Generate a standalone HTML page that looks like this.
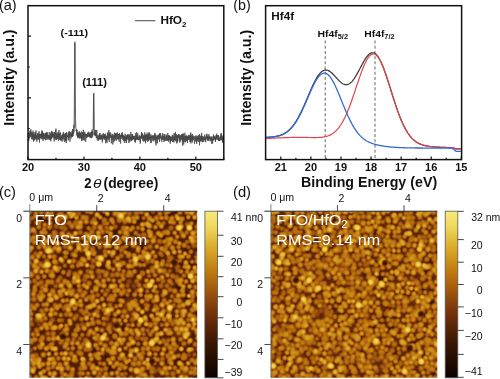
<!DOCTYPE html>
<html><head><meta charset="utf-8"><style>
html,body{margin:0;padding:0;background:#fff;width:500px;height:379px;overflow:hidden}
svg{display:block;will-change:transform}
text{font-family:"Liberation Sans",sans-serif}
</style></head><body>
<svg width="500" height="379" viewBox="0 0 500 379" fill="#111">
<defs>
<radialGradient id="h0"><stop offset="0" stop-color="#8e8e8e"/><stop offset="0.35" stop-color="#8e8e8e" stop-opacity="0.88"/><stop offset="0.65" stop-color="#8e8e8e" stop-opacity="0.5"/><stop offset="1" stop-color="#8e8e8e" stop-opacity="0"/></radialGradient><radialGradient id="h1"><stop offset="0" stop-color="#989898"/><stop offset="0.35" stop-color="#989898" stop-opacity="0.88"/><stop offset="0.65" stop-color="#989898" stop-opacity="0.5"/><stop offset="1" stop-color="#989898" stop-opacity="0"/></radialGradient><radialGradient id="h2"><stop offset="0" stop-color="#a2a2a2"/><stop offset="0.35" stop-color="#a2a2a2" stop-opacity="0.88"/><stop offset="0.65" stop-color="#a2a2a2" stop-opacity="0.5"/><stop offset="1" stop-color="#a2a2a2" stop-opacity="0"/></radialGradient><radialGradient id="h3"><stop offset="0" stop-color="#ababab"/><stop offset="0.35" stop-color="#ababab" stop-opacity="0.88"/><stop offset="0.65" stop-color="#ababab" stop-opacity="0.5"/><stop offset="1" stop-color="#ababab" stop-opacity="0"/></radialGradient><radialGradient id="h4"><stop offset="0" stop-color="#b5b5b5"/><stop offset="0.35" stop-color="#b5b5b5" stop-opacity="0.88"/><stop offset="0.65" stop-color="#b5b5b5" stop-opacity="0.5"/><stop offset="1" stop-color="#b5b5b5" stop-opacity="0"/></radialGradient><radialGradient id="h5"><stop offset="0" stop-color="#bebebe"/><stop offset="0.35" stop-color="#bebebe" stop-opacity="0.88"/><stop offset="0.65" stop-color="#bebebe" stop-opacity="0.5"/><stop offset="1" stop-color="#bebebe" stop-opacity="0"/></radialGradient><radialGradient id="h6"><stop offset="0" stop-color="#c8c8c8"/><stop offset="0.35" stop-color="#c8c8c8" stop-opacity="0.88"/><stop offset="0.65" stop-color="#c8c8c8" stop-opacity="0.5"/><stop offset="1" stop-color="#c8c8c8" stop-opacity="0"/></radialGradient><radialGradient id="h7"><stop offset="0" stop-color="#d2d2d2"/><stop offset="0.35" stop-color="#d2d2d2" stop-opacity="0.88"/><stop offset="0.65" stop-color="#d2d2d2" stop-opacity="0.5"/><stop offset="1" stop-color="#d2d2d2" stop-opacity="0"/></radialGradient><radialGradient id="h8"><stop offset="0" stop-color="#dbdbdb"/><stop offset="0.35" stop-color="#dbdbdb" stop-opacity="0.88"/><stop offset="0.65" stop-color="#dbdbdb" stop-opacity="0.5"/><stop offset="1" stop-color="#dbdbdb" stop-opacity="0"/></radialGradient><radialGradient id="h9"><stop offset="0" stop-color="#e5e5e5"/><stop offset="0.35" stop-color="#e5e5e5" stop-opacity="0.88"/><stop offset="0.65" stop-color="#e5e5e5" stop-opacity="0.5"/><stop offset="1" stop-color="#e5e5e5" stop-opacity="0"/></radialGradient><radialGradient id="pd"><stop offset="0" stop-color="#4a4a4a"/><stop offset="1" stop-color="#4a4a4a" stop-opacity="0"/></radialGradient><radialGradient id="pb"><stop offset="0" stop-color="#d8d8d8"/><stop offset="1" stop-color="#d8d8d8" stop-opacity="0"/></radialGradient><radialGradient id="hb"><stop offset="0" stop-color="#eaeaea"/><stop offset="0.45" stop-color="#e2e2e2" stop-opacity="0.92"/><stop offset="1" stop-color="#d8d8d8" stop-opacity="0"/></radialGradient><radialGradient id="hd"><stop offset="0" stop-color="#2a2a2a"/><stop offset="0.4" stop-color="#2a2a2a" stop-opacity="0.85"/><stop offset="1" stop-color="#2a2a2a" stop-opacity="0"/></radialGradient>
<linearGradient id="cb" x1="0" y1="0" x2="0" y2="1"><stop offset="0" stop-color="#f8ec7c"/><stop offset="0.1" stop-color="#eed65a"/><stop offset="0.22" stop-color="#daaa2a"/><stop offset="0.35" stop-color="#c27e10"/><stop offset="0.48" stop-color="#a0560c"/><stop offset="0.62" stop-color="#70300a"/><stop offset="0.77" stop-color="#401a04"/><stop offset="0.9" stop-color="#200c00"/><stop offset="1" stop-color="#0a0300"/></linearGradient>
<clipPath id="cc"><rect x="29.8" y="211.2" width="167.4" height="166.6"/></clipPath>
<clipPath id="cd"><rect x="270.9" y="211.2" width="166.4" height="166.6"/></clipPath>
<filter id="gold" x="0" y="0" width="1" height="1" color-interpolation-filters="sRGB"><feGaussianBlur stdDeviation="0.7"/><feComponentTransfer><feFuncR type="table" tableValues="0.039 0.066 0.093 0.120 0.150 0.180 0.210 0.240 0.276 0.315 0.355 0.394 0.433 0.475 0.517 0.559 0.601 0.639 0.671 0.703 0.735 0.765 0.788 0.811 0.833 0.856 0.876 0.897 0.917 0.936 0.948 0.960 0.973"/><feFuncG type="table" tableValues="0.012 0.023 0.034 0.045 0.058 0.071 0.084 0.097 0.113 0.131 0.149 0.167 0.185 0.216 0.249 0.283 0.316 0.351 0.389 0.426 0.464 0.502 0.544 0.585 0.627 0.668 0.713 0.758 0.803 0.845 0.872 0.899 0.925"/><feFuncB type="table" tableValues="0.000 0.000 0.000 0.000 0.003 0.007 0.011 0.014 0.019 0.024 0.029 0.034 0.038 0.041 0.042 0.044 0.046 0.048 0.052 0.056 0.060 0.068 0.092 0.117 0.141 0.167 0.216 0.265 0.314 0.361 0.403 0.445 0.486"/></feComponentTransfer></filter>
<clipPath id="clab"><rect x="220" y="200" width="37" height="30"/></clipPath>
</defs>
<rect width="500" height="379" fill="#fff"/>
<text transform="translate(-1.11,10.04) scale(1.08,1.04)" font-size="13.5" fill="#111">(a)</text>
<polyline points="28,136.19 28.11,137.04 28.22,135.52 28.34,133.4 28.45,134.76 28.56,133.32 28.67,136.36 28.78,141.07 28.9,135.03 29.01,134.52 29.12,137.57 29.23,137.4 29.34,136.48 29.45,133.39 29.57,136.13 29.68,138.38 29.79,132.69 29.9,134.94 30.01,130.67 30.13,133.1 30.24,130.76 30.35,135.62 30.46,132.72 30.57,136.9 30.69,136.59 30.8,135.66 30.91,129.34 31.02,134.49 31.13,136.1 31.24,136.55 31.36,132.27 31.47,134.84 31.58,133.65 31.69,133.91 31.8,139.26 31.92,133.87 32.03,136.12 32.14,138.81 32.25,134.64 32.36,135.96 32.48,136.58 32.59,136.44 32.7,132.59 32.81,136.44 32.92,139.69 33.03,130.63 33.15,138.61 33.26,136.61 33.37,134.37 33.48,141.66 33.59,138.05 33.71,132.43 33.82,136.51 33.93,137.88 34.04,135.79 34.15,137.92 34.27,136.05 34.38,137.98 34.49,140.42 34.6,134.41 34.71,136.87 34.83,134.99 34.94,136.59 35.05,132.25 35.16,134.83 35.27,135.81 35.38,139.49 35.5,139.16 35.61,132.6 35.72,134.11 35.83,138.21 35.94,130.4 36.06,134.89 36.17,136.03 36.28,139.63 36.39,137.95 36.5,135.53 36.62,135.23 36.73,135.63 36.84,141.56 36.95,135.2 37.06,135.52 37.17,137.16 37.29,136 37.4,135.7 37.51,133.36 37.62,136.27 37.73,135.11 37.85,139.89 37.96,138.24 38.07,136.24 38.18,138.21 38.29,135.51 38.41,139.36 38.52,136.29 38.63,138.17 38.74,133.12 38.85,137.32 38.96,131.46 39.08,131.28 39.19,135.42 39.3,134.24 39.41,136.81 39.52,142.55 39.64,134.07 39.75,134.71 39.86,136.84 39.97,137.52 40.08,135.9 40.2,135.74 40.31,138.14 40.42,138.03 40.53,133.9 40.64,136.11 40.75,136.42 40.87,133.77 40.98,137.23 41.09,134.22 41.2,139.27 41.31,136.86 41.43,136.56 41.54,134.27 41.65,136.06 41.76,130.72 41.87,133.12 41.99,137.25 42.1,130.67 42.21,139.14 42.32,131.67 42.43,138.34 42.55,134.27 42.66,138.58 42.77,136.66 42.88,132.61 42.99,140.84 43.1,140.14 43.22,136.19 43.33,135.67 43.44,135.88 43.55,133.33 43.66,139.04 43.78,134.82 43.89,136.21 44,134.33 44.11,134.66 44.22,133.28 44.34,139.29 44.45,136.01 44.56,138.58 44.67,136.41 44.78,134.74 44.89,135.6 45.01,135.01 45.12,136.4 45.23,135.34 45.34,135.61 45.45,133.2 45.57,134.29 45.68,140.26 45.79,134.63 45.9,132.81 46.01,137.41 46.13,139.95 46.24,133.04 46.35,135.66 46.46,134.84 46.57,132.3 46.68,138.19 46.8,136.34 46.91,136.62 47.02,134.68 47.13,137.97 47.24,134.91 47.36,136.02 47.47,133.27 47.58,132.41 47.69,139.69 47.8,135.24 47.92,137.22 48.03,136.31 48.14,135.14 48.25,135.16 48.36,138.33 48.48,135.71 48.59,136.06 48.7,136.47 48.81,139.53 48.92,138.11 49.03,137.44 49.15,134.98 49.26,132.13 49.37,139.59 49.48,138.68 49.59,136.07 49.71,137.8 49.82,138.61 49.93,138.38 50.04,139.04 50.15,135.22 50.27,139.94 50.38,133.5 50.49,138.56 50.6,137.62 50.71,139.16 50.82,141.3 50.94,140.03 51.05,133.75 51.16,131.7 51.27,138.84 51.38,133.53 51.5,136.41 51.61,139.06 51.72,131.44 51.83,130.82 51.94,137.2 52.06,136.56 52.17,135.82 52.28,136.57 52.39,134.49 52.5,131.97 52.61,135.96 52.73,133.77 52.84,132.13 52.95,137.61 53.06,136.29 53.17,137.55 53.29,134.04 53.4,134.96 53.51,133.75 53.62,133.61 53.73,136.97 53.85,134.22 53.96,137.26 54.07,137.36 54.18,141.55 54.29,131.93 54.41,139.13 54.52,136.24 54.63,136.43 54.74,132.19 54.85,135.37 54.96,138.2 55.08,136.16 55.19,136.66 55.3,135.48 55.41,139.49 55.52,136.42 55.64,130.02 55.75,134.59 55.86,131.66 55.97,128.57 56.08,135.24 56.2,140.12 56.31,136.6 56.42,133.5 56.53,134.11 56.64,139.86 56.75,136.9 56.87,136.6 56.98,136.31 57.09,136.57 57.2,138.6 57.31,137.83 57.43,136.99 57.54,133.51 57.65,137.99 57.76,134.54 57.87,139.07 57.99,132.42 58.1,136.1 58.21,136.46 58.32,132.28 58.43,140.61 58.54,140.74 58.66,135.29 58.77,138.29 58.88,137.33 58.99,130.04 59.1,137.25 59.22,136.31 59.33,136.73 59.44,133.41 59.55,135.68 59.66,136.05 59.78,139.56 59.89,137.66 60,136.47 60.11,140.02 60.22,135.1 60.33,135.17 60.45,132.3 60.56,140.62 60.67,138.68 60.78,139.04 60.89,138.25 61.01,136.75 61.12,137.02 61.23,135.86 61.34,135.84 61.45,136.62 61.57,140.5 61.68,137.87 61.79,136.33 61.9,134.73 62.01,135.05 62.13,141.65 62.24,137.86 62.35,136.63 62.46,135.44 62.57,133.8 62.68,136.3 62.8,139.09 62.91,135.45 63.02,135.96 63.13,135.93 63.24,136.74 63.36,131.9 63.47,135.92 63.58,133.76 63.69,138.46 63.8,134.73 63.92,137.93 64.03,140.66 64.14,135.51 64.25,134.5 64.36,137 64.47,136.43 64.59,133.91 64.7,137.54 64.81,142.14 64.92,135.7 65.03,135.78 65.15,133.57 65.26,137.16 65.37,132.94 65.48,133.75 65.59,140.61 65.71,134.11 65.82,139.09 65.93,140.78 66.04,137.24 66.15,137.81 66.26,143 66.38,135.91 66.49,135 66.6,131.96 66.71,136.44 66.82,139.6 66.94,138.75 67.05,133.43 67.16,134.39 67.27,134.9 67.38,137.01 67.5,135.79 67.61,136.75 67.72,136.91 67.83,135.44 67.94,136.12 68.06,136.83 68.17,135.97 68.28,137.56 68.39,140.39 68.5,137.71 68.61,136.28 68.73,131.99 68.84,137.12 68.95,131.51 69.06,132.23 69.17,138.19 69.29,137.67 69.4,135.55 69.51,131.53 69.62,135.11 69.73,134.29 69.85,137.7 69.96,141.66 70.07,136.64 70.18,134.07 70.29,132.28 70.4,135.57 70.52,135.06 70.63,132.79 70.74,135.85 70.85,132.86 70.96,138.13 71.08,138.12 71.19,138.48 71.3,134 71.41,136.77 71.52,134.78 71.64,134.14 71.75,134 71.86,131.52 71.97,130.87 72.08,136.67 72.19,134.04 72.31,134.85 72.42,137.02 72.53,129.07 72.64,131.97 72.75,134.12 72.87,134.44 72.98,132.31 73.09,136.05 73.2,133.19 73.31,129.14 73.43,129.66 73.54,134.07 73.65,132.48 73.76,124.81 73.87,132.21 73.99,128.43 74.1,127.04 74.21,116.02 74.32,106.85 74.43,91.17 74.54,83.81 74.66,60.44 74.77,52.8 74.88,41.74 74.99,48.51 75.1,56.69 75.22,76.63 75.33,96.78 75.44,104.48 75.55,119.59 75.66,124.2 75.78,124 75.89,127.93 76,129.06 76.11,130.91 76.22,129.87 76.33,129.93 76.45,131.66 76.56,129.59 76.67,129.23 76.78,133.12 76.89,135.76 77.01,129.78 77.12,133.93 77.23,132.47 77.34,132.1 77.45,136.9 77.57,133.24 77.68,138.21 77.79,132.78 77.9,135.93 78.01,134.4 78.12,133.02 78.24,136.9 78.35,134.83 78.46,136.81 78.57,135.26 78.68,132.57 78.8,135.28 78.91,135.73 79.02,138.3 79.13,133.62 79.24,135.67 79.36,131.45 79.47,137.92 79.58,132.46 79.69,131.65 79.8,135.82 79.91,138.72 80.03,132.61 80.14,133.2 80.25,134.41 80.36,133.42 80.47,137.09 80.59,133.55 80.7,134.06 80.81,138.16 80.92,134.2 81.03,137.4 81.15,133.44 81.26,133.58 81.37,131.55 81.48,140.89 81.59,135.47 81.71,136.96 81.82,136.28 81.93,136.87 82.04,136.49 82.15,140.59 82.26,133.78 82.38,132.47 82.49,133.24 82.6,132.71 82.71,138.46 82.82,138.56 82.94,133.78 83.05,131.94 83.16,135.65 83.27,140 83.38,129.8 83.5,137.92 83.61,133.68 83.72,139.54 83.83,133.4 83.94,135.9 84.05,132.78 84.17,134.05 84.28,140.64 84.39,138.75 84.5,135.43 84.61,134.51 84.73,131.73 84.84,135.69 84.95,136.49 85.06,136.34 85.17,136.28 85.29,133.61 85.4,136.38 85.51,136.45 85.62,139.77 85.73,141.73 85.84,136.24 85.96,134.9 86.07,136.43 86.18,134.93 86.29,134.6 86.4,136.45 86.52,134.17 86.63,138.21 86.74,136.33 86.85,137.14 86.96,136.08 87.08,135.01 87.19,134.39 87.3,136.04 87.41,135.34 87.52,137.13 87.64,136.54 87.75,133.1 87.86,136.7 87.97,132.77 88.08,134.67 88.19,135.83 88.31,131.64 88.42,136.7 88.53,136.85 88.64,136.1 88.75,135.39 88.87,135.63 88.98,133.77 89.09,135.67 89.2,134.95 89.31,136.62 89.43,133.3 89.54,136.95 89.65,136.73 89.76,136 89.87,135.18 89.98,137.55 90.1,132.04 90.21,137.23 90.32,136.71 90.43,136.75 90.54,137.02 90.66,133.42 90.77,135.44 90.88,137.93 90.99,136.87 91.1,136.4 91.22,132.34 91.33,136.94 91.44,138.2 91.55,137.73 91.66,135.98 91.77,131.53 91.89,137.63 92,134.64 92.11,129.5 92.22,135.71 92.33,131.17 92.45,131.51 92.56,132.63 92.67,136.68 92.78,132.19 92.89,132.79 93.01,134.72 93.12,131.25 93.23,121.76 93.34,114.17 93.45,103.04 93.57,95.49 93.68,93.31 93.79,93.12 93.9,97.75 94.01,109.22 94.12,112.94 94.24,121.95 94.35,128.87 94.46,132.1 94.57,135.21 94.68,134.09 94.8,133 94.91,134.89 95.02,131.63 95.13,129.9 95.24,136.1 95.36,134.8 95.47,135.9 95.58,130.67 95.69,134.08 95.8,133.96 95.91,133.52 96.03,129.94 96.14,134.48 96.25,138.03 96.36,136.77 96.47,134.44 96.59,136.03 96.7,137.94 96.81,130.07 96.92,135.92 97.03,137.81 97.15,138.11 97.26,140.32 97.37,139.58 97.48,137.33 97.59,137.28 97.7,138.43 97.82,135.04 97.93,136.44 98.04,138.56 98.15,140.76 98.26,136.25 98.38,136.5 98.49,137.09 98.6,140.06 98.71,136.6 98.82,139.98 98.94,134.62 99.05,136.28 99.16,136.23 99.27,138.5 99.38,139.1 99.49,133.3 99.61,134.17 99.72,137.65 99.83,135.06 99.94,133.09 100.05,139.21 100.17,138.28 100.28,138.1 100.39,135.73 100.5,139.43 100.61,136.21 100.73,139.57 100.84,134.86 100.95,134.93 101.06,137.36 101.17,135.32 101.29,138.57 101.4,137.45 101.51,134.71 101.62,137.07 101.73,136.11 101.84,139.35 101.96,135.56 102.07,135.95 102.18,139.63 102.29,142.49 102.4,141.67 102.52,137.17 102.63,137.46 102.74,140.43 102.85,136.69 102.96,133.67 103.08,137.23 103.19,138.09 103.3,134.68 103.41,133.36 103.52,133.44 103.63,138.46 103.75,135.37 103.86,136.68 103.97,137.46 104.08,138.73 104.19,136.29 104.31,138.26 104.42,134.29 104.53,136.15 104.64,134.77 104.75,140.07 104.87,136.97 104.98,134.89 105.09,136.12 105.2,136.58 105.31,138.6 105.42,133.6 105.54,134.75 105.65,136.24 105.76,143.31 105.87,140.06 105.98,136.8 106.1,139.28 106.21,141.4 106.32,136.59 106.43,136.01 106.54,140.01 106.66,138.32 106.77,138.51 106.88,135.61 106.99,142.89 107.1,141.67 107.22,138.56 107.33,138.67 107.44,132.48 107.55,138.72 107.66,136.63 107.77,138.13 107.89,138.8 108,136.28 108.11,133.54 108.22,138.15 108.33,135.2 108.45,136.34 108.56,135.86 108.67,136.36 108.78,130.17 108.89,140.12 109.01,137.73 109.12,139.44 109.23,141.8 109.34,137.2 109.45,133.38 109.56,135.29 109.68,134.65 109.79,135.93 109.9,137.33 110.01,131.9 110.12,137.94 110.24,133.93 110.35,137.77 110.46,136.9 110.57,136.36 110.68,136.98 110.8,135.95 110.91,135.64 111.02,133.61 111.13,137.09 111.24,140.99 111.35,143.3 111.47,140.78 111.58,138.66 111.69,135.39 111.8,140.28 111.91,137.04 112.03,136.97 112.14,136.52 112.25,137.45 112.36,136.18 112.47,137 112.59,133.93 112.7,136.23 112.81,144.43 112.92,137.05 113.03,136.67 113.15,138.4 113.26,139.41 113.37,134.69 113.48,136.61 113.59,139.96 113.7,137.92 113.82,137.5 113.93,142.21 114.04,135.68 114.15,137.39 114.26,135.87 114.38,140.66 114.49,132.66 114.6,135.62 114.71,136.01 114.82,139.17 114.94,139.08 115.05,140.32 115.16,133.55 115.27,138.89 115.38,136.41 115.49,135.43 115.61,138.47 115.72,135.13 115.83,132.94 115.94,136.28 116.05,133.84 116.17,135.77 116.28,138.12 116.39,138.05 116.5,140.66 116.61,136.75 116.73,133.33 116.84,135.55 116.95,135.38 117.06,133.97 117.17,138.17 117.28,135.71 117.4,132.55 117.51,138.72 117.62,137 117.73,138.16 117.84,137.52 117.96,138.74 118.07,137.37 118.18,139.97 118.29,138.21 118.4,138.1 118.52,138.27 118.63,134.01 118.74,136.94 118.85,136.56 118.96,137.86 119.07,134.36 119.19,141.9 119.3,137.51 119.41,134.61 119.52,133.09 119.63,136.69 119.75,137.01 119.86,135.76 119.97,137.54 120.08,135.59 120.19,138.53 120.31,135.73 120.42,137.17 120.53,139.77 120.64,143.55 120.75,134.88 120.87,136.15 120.98,134.92 121.09,138.92 121.2,134.47 121.31,136.17 121.42,137.26 121.54,134.84 121.65,135.21 121.76,136.05 121.87,132.72 121.98,134.29 122.1,136.33 122.21,137.66 122.32,136.92 122.43,132.39 122.54,136.15 122.66,139.64 122.77,138.87 122.88,137.17 122.99,135.29 123.1,138.81 123.21,135.83 123.33,134.81 123.44,135.68 123.55,140.83 123.66,137.86 123.77,140.35 123.89,136.16 124,139.75 124.11,136.04 124.22,137 124.33,142.85 124.45,138.94 124.56,136.15 124.67,137.14 124.78,138.04 124.89,139.89 125,136.12 125.12,133.7 125.23,136.81 125.34,137.41 125.45,137.62 125.56,140.93 125.68,138.02 125.79,139.18 125.9,135.02 126.01,139.58 126.12,142.81 126.24,139.5 126.35,137.92 126.46,137.73 126.57,142.82 126.68,135.26 126.8,137.12 126.91,138.5 127.02,139.19 127.13,136.21 127.24,138.41 127.35,136.8 127.47,137.69 127.58,137.1 127.69,134.12 127.8,137.36 127.91,139.68 128.03,135 128.14,136.77 128.25,139.2 128.36,134.51 128.47,137.83 128.59,135.19 128.7,139.77 128.81,142.8 128.92,142.97 129.03,136.92 129.14,139.08 129.26,137.69 129.37,137.68 129.48,140.89 129.59,134.33 129.7,140.13 129.82,137.32 129.93,141.73 130.04,137.86 130.15,136.06 130.26,138.11 130.38,139.24 130.49,137.52 130.6,138.8 130.71,136.28 130.82,131.98 130.93,139.59 131.05,139.02 131.16,137.77 131.27,137.61 131.38,141.09 131.49,136.38 131.61,135.81 131.72,137 131.83,140.19 131.94,134 132.05,140.13 132.17,135.86 132.28,134.93 132.39,140.09 132.5,137.23 132.61,134 132.73,136.52 132.84,139.52 132.95,139.87 133.06,136.42 133.17,138.48 133.28,139.01 133.4,136 133.51,138.43 133.62,137.38 133.73,136.12 133.84,136.46 133.96,137.66 134.07,137.55 134.18,135.86 134.29,136.49 134.4,140.09 134.52,137.92 134.63,139.45 134.74,140.42 134.85,138.95 134.96,142.29 135.07,135.68 135.19,139.42 135.3,136.81 135.41,142.05 135.52,142.41 135.63,133.11 135.75,134.67 135.86,139.17 135.97,139.3 136.08,139.39 136.19,137.33 136.31,138.45 136.42,139.01 136.53,137.32 136.64,140.12 136.75,132.22 136.86,138.81 136.98,135.3 137.09,139.68 137.2,136.88 137.31,135.09 137.42,138.37 137.54,135.56 137.65,135.29 137.76,133.19 137.87,137.47 137.98,138.64 138.1,139.71 138.21,137.19 138.32,139.86 138.43,137.59 138.54,137.35 138.65,138.83 138.77,140.3 138.88,136.8 138.99,137.07 139.1,137.19 139.21,137.78 139.33,135.29 139.44,139.8 139.55,136.73 139.66,138.54 139.77,135.73 139.89,138.3 140,138.37 140.11,136.54 140.22,143.59 140.33,138.38 140.45,141.85 140.56,139.74 140.67,136.19 140.78,136.6 140.89,138.66 141,137.7 141.12,137.68 141.23,136.93 141.34,133.63 141.45,137.12 141.56,132.18 141.68,138.32 141.79,135.52 141.9,135.96 142.01,137.04 142.12,138.3 142.24,133.78 142.35,133.51 142.46,134.5 142.57,133.51 142.68,135.6 142.79,140.87 142.91,135.24 143.02,138.88 143.13,134.82 143.24,138.37 143.35,136.87 143.47,137.46 143.58,138.93 143.69,141.6 143.8,138.09 143.91,137.92 144.03,135.23 144.14,138.88 144.25,136.93 144.36,139.72 144.47,137.53 144.58,141.22 144.7,132.29 144.81,136.95 144.92,139.8 145.03,136.87 145.14,135.82 145.26,137.01 145.37,134.31 145.48,137.92 145.59,143.27 145.7,139.88 145.82,134.95 145.93,135.68 146.04,136.71 146.15,139.97 146.26,135.45 146.38,135.93 146.49,140.44 146.6,139.91 146.71,136.75 146.82,135.42 146.93,134.21 147.05,136.25 147.16,132.61 147.27,139.15 147.38,136.15 147.49,138.6 147.61,141.82 147.72,141.4 147.83,135 147.94,139.68 148.05,140.44 148.17,136.07 148.28,135.09 148.39,137.42 148.5,134.03 148.61,141.11 148.72,132.56 148.84,135.13 148.95,136.99 149.06,137.11 149.17,138 149.28,138.23 149.4,137.16 149.51,140.2 149.62,132.51 149.73,137.68 149.84,136.31 149.96,138.07 150.07,138.25 150.18,135.62 150.29,136.04 150.4,139.29 150.51,138.49 150.63,136.26 150.74,141.96 150.85,142.84 150.96,134.23 151.07,138.33 151.19,142.78 151.3,139.33 151.41,138.19 151.52,137.28 151.63,136.46 151.75,137.13 151.86,136.59 151.97,139.14 152.08,136.68 152.19,136.66 152.31,135.37 152.42,137.61 152.53,135.56 152.64,137.32 152.75,140.81 152.86,138.63 152.98,139.14 153.09,138.52 153.2,137.86 153.31,137.43 153.42,137.12 153.54,139.27 153.65,135.36 153.76,141.4 153.87,137.81 153.98,136 154.1,136.67 154.21,136.23 154.32,138.06 154.43,136.22 154.54,139.97 154.65,136.24 154.77,133.22 154.88,136.22 154.99,133.45 155.1,137.66 155.21,140.14 155.33,139.5 155.44,134.83 155.55,135.76 155.66,143.37 155.77,138.47 155.89,137.77 156,140.58 156.11,145.38 156.22,141.78 156.33,138.12 156.44,138.7 156.56,139.2 156.67,136.55 156.78,135.59 156.89,137.9 157,135.63 157.12,137.63 157.23,137.97 157.34,143.29 157.45,135.73 157.56,137.53 157.68,137.46 157.79,138.88 157.9,140.33 158.01,136.78 158.12,135.66 158.23,134.65 158.35,135.71 158.46,138.97 158.57,137.88 158.68,135.54 158.79,136.93 158.91,137.87 159.02,138.98 159.13,136.67 159.24,137.23 159.35,133.92 159.47,135.37 159.58,141.72 159.69,133.1 159.8,137.03 159.91,138.44 160.03,136.88 160.14,136.2 160.25,137.69 160.36,137.81 160.47,137.66 160.58,133.02 160.7,137.48 160.81,135.88 160.92,136.62 161.03,138.4 161.14,139.12 161.26,139.61 161.37,136.63 161.48,139.73 161.59,140.19 161.7,140.21 161.82,141.7 161.93,137.51 162.04,137.41 162.15,139.6 162.26,134.81 162.37,138.3 162.49,136.83 162.6,137.15 162.71,133.24 162.82,136.14 162.93,137.8 163.05,139.64 163.16,139.87 163.27,137.7 163.38,137.32 163.49,136.1 163.61,138.72 163.72,137.38 163.83,139.05 163.94,141.91 164.05,137.79 164.16,134.17 164.28,135.84 164.39,134.8 164.5,135.1 164.61,140.59 164.72,138.42 164.84,134.22 164.95,139.64 165.06,140.37 165.17,136.97 165.28,136.51 165.4,137.19 165.51,138.65 165.62,139.74 165.73,140.95 165.84,140.3 165.96,140.12 166.07,140.58 166.18,139.21 166.29,134.62 166.4,137.52 166.51,138.52 166.63,137.04 166.74,140.1 166.85,137.14 166.96,136.12 167.07,140.76 167.19,139.58 167.3,138.36 167.41,140.48 167.52,140.39 167.63,138.8 167.75,133.03 167.86,136.47 167.97,136.97 168.08,135.58 168.19,138.37 168.3,140.55 168.42,136.77 168.53,135.5 168.64,141.78 168.75,136.94 168.86,135.29 168.98,138.37 169.09,138.89 169.2,136.59 169.31,139.71 169.42,136.72 169.54,135.56 169.65,138.33 169.76,139.85 169.87,136.68 169.98,138.56 170.09,137.74 170.21,143.74 170.32,136.18 170.43,142.08 170.54,137.83 170.65,137.58 170.77,139.29 170.88,139.61 170.99,140.7 171.1,138.83 171.21,136.52 171.33,136.94 171.44,138.94 171.55,139.17 171.66,140.64 171.77,138.85 171.89,140.12 172,140.79 172.11,138.32 172.22,134.78 172.33,135.72 172.44,135.23 172.56,141.74 172.67,135.81 172.78,140.31 172.89,139.41 173,141.98 173.12,140.16 173.23,137.76 173.34,137.61 173.45,138.15 173.56,138.32 173.68,136.87 173.79,137.92 173.9,142.41 174.01,133.15 174.12,138.47 174.23,136.15 174.35,138.42 174.46,140.05 174.57,137.83 174.68,139.54 174.79,133.6 174.91,140.29 175.02,136.87 175.13,139.27 175.24,138.39 175.35,131.9 175.47,136.47 175.58,138.42 175.69,140.97 175.8,138.71 175.91,138.58 176.02,134.79 176.14,141.04 176.25,141.59 176.36,138.08 176.47,137.58 176.58,134.37 176.7,139.74 176.81,143.47 176.92,139.65 177.03,140.34 177.14,139.52 177.26,136.19 177.37,142.37 177.48,135.22 177.59,137.6 177.7,138.6 177.81,140.75 177.93,138.82 178.04,138.77 178.15,136 178.26,134.9 178.37,138.2 178.49,136.67 178.6,135.24 178.71,134.31 178.82,137.12 178.93,134.39 179.05,135.19 179.16,135.01 179.27,138.47 179.38,138.97 179.49,142.32 179.61,134.94 179.72,136.52 179.83,140.16 179.94,137.66 180.05,137.27 180.16,142.22 180.28,137.25 180.39,135.6 180.5,135.62 180.61,138.74 180.72,138.63 180.84,135.57 180.95,136.14 181.06,139.21 181.17,139.67 181.28,136.85 181.4,139.37 181.51,139.44 181.62,134.28 181.73,137.42 181.84,138.97 181.95,136.99 182.07,134.17 182.18,137.54 182.29,139.82 182.4,141.86 182.51,133.77 182.63,145.67 182.74,135.68 182.85,139.88 182.96,140.81 183.07,139.98 183.19,138.46 183.3,135.52 183.41,139.26 183.52,136.7 183.63,133.45 183.74,144.46 183.86,139.69 183.97,141.64 184.08,136.46 184.19,140.92 184.3,141.36 184.42,141.54 184.53,138.08 184.64,135.71 184.75,137.77 184.86,132.79 184.98,134.31 185.09,138.32 185.2,136.15 185.31,137.71 185.42,137.93 185.54,142.33 185.65,141.21 185.76,138.03 185.87,140.63 185.98,136.67 186.09,137.51 186.21,140.16 186.32,135.65 186.43,137.51 186.54,135.49 186.65,138.45 186.77,141.28 186.88,136.73 186.99,138.57 187.1,136.26 187.21,135.88 187.33,135.93 187.44,141.81 187.55,143.01 187.66,139.13 187.77,136.8 187.88,139.85 188,137.55 188.11,139.89 188.22,138.8 188.33,138.67 188.44,139.69 188.56,136.94 188.67,137.3 188.78,134.92 188.89,137.34 189,135.23 189.12,137.86 189.23,136.17 189.34,138.38 189.45,139.5 189.56,135.59 189.67,136.64 189.79,136.21 189.9,139.98 190.01,142.11 190.12,139.72 190.23,137.52 190.35,141.97 190.46,133.84 190.57,141.44 190.68,136.72 190.79,132.49 190.91,143.37 191.02,141.33 191.13,136.35 191.24,138.62 191.35,137.76 191.47,138.4 191.58,134.76 191.69,136.73 191.8,139.13 191.91,138.63 192.02,141.25 192.14,138.37 192.25,142.47 192.36,136.68 192.47,138.71 192.58,133.95 192.7,135.94 192.81,140.72 192.92,135.71 193.03,139.16 193.14,138.09 193.26,136.3 193.37,137.46 193.48,137.03 193.59,137.22 193.7,139.96 193.81,139.69 193.93,137.21 194.04,136.24 194.15,138.88 194.26,138.05 194.37,140.58 194.49,143.68 194.6,140.05 194.71,138.18 194.82,137.81 194.93,136.69 195.05,136.39 195.16,136.41 195.27,137.47 195.38,137.32 195.49,140.03 195.6,137.44 195.72,137.81 195.83,135.57 195.94,141.47 196.05,139.41 196.16,141.66 196.28,140.18 196.39,141.19 196.5,137.78 196.61,139.77 196.72,143.92 196.84,135.62 196.95,141.07 197.06,141.44 197.17,139.02 197.28,139.64 197.39,140.75 197.51,136.68 197.62,139.09 197.73,136.44 197.84,136.7 197.95,136.79 198.07,138 198.18,138.66 198.29,139.22 198.4,135.36 198.51,141.85 198.63,141.15 198.74,140.03 198.85,137.54 198.96,138.11 199.07,139.59 199.19,139.05 199.3,134.53 199.41,139.84 199.52,145.33 199.63,134.09 199.74,140.35 199.86,139.13 199.97,138.05 200.08,141.57 200.19,136.05 200.3,138.68 200.42,141.01 200.53,137.9 200.64,137.3 200.75,138.54 200.86,137.42 200.98,141.36 201.09,135.9 201.2,140.18 201.31,135.47 201.42,139.63 201.53,138.13 201.65,132.8 201.76,138.32 201.87,135.69 201.98,137.35 202.09,141.7 202.21,136.22 202.32,136.12 202.43,141.18 202.54,138.57 202.65,142.26 202.77,139.17 202.88,136.76 202.99,138.22 203.1,140.58 203.21,140.1 203.32,138.35 203.44,138.46 203.55,138.13 203.66,137.29 203.77,141.8 203.88,138.37 204,136.26 204.11,137.3 204.22,139.65 204.33,139.55 204.44,138.11 204.56,136.88 204.67,138.41 204.78,134.62 204.89,135.94 205,140.04 205.12,137.3 205.23,139.08 205.34,140.81 205.45,140.02 205.56,138.43 205.67,142.19 205.79,139.59 205.9,137.59 206.01,139.7 206.12,139.21 206.23,136.05 206.35,138.55 206.46,138.09 206.57,134.18 206.68,138 206.79,137.88 206.91,137.54 207.02,133.77 207.13,137.63 207.24,138.32 207.35,138.61 207.46,136.35 207.58,139.85 207.69,136.04 207.8,138 207.91,140.96 208.02,136.84 208.14,137.28 208.25,140.49 208.36,137.68 208.47,137.74 208.58,138.81 208.7,140.36 208.81,134.15 208.92,136.92 209.03,136.28 209.14,135.79 209.25,136.12 209.37,136.8 209.48,139 209.59,136.77 209.7,138.71 209.81,139.21 209.93,137.12 210.04,138.67 210.15,141.39 210.26,139.14 210.37,137.13 210.49,138.3 210.6,136.62 210.71,138.93 210.82,140.35 210.93,137 211.05,137.98 211.16,140.82 211.27,137.45 211.38,138.79 211.49,136.58 211.6,137 211.72,137.35 211.83,144 211.94,137.7 212.05,137.22 212.16,137.21 212.28,138.04 212.39,139.85 212.5,138.91 212.61,143.37 212.72,138.94 212.84,141 212.95,139 213.06,139.95 213.17,135.81 213.28,138.22 213.39,138.35 213.51,137.96 213.62,134.49 213.73,139.97 213.84,137.76 213.95,137.67 214.07,137.84 214.18,138.06 214.29,139.21 214.4,136 214.51,136.61 214.63,139.16 214.74,138.8 214.85,137.71 214.96,137.49 215.07,136.93 215.18,138.35 215.3,141.65 215.41,136.54 215.52,141.53 215.63,140.32 215.74,137.61 215.86,139.97 215.97,135.03 216.08,134.92 216.19,135.48 216.3,137.65 216.42,137.75 216.53,137.57 216.64,138.77 216.75,133.62 216.86,139.39 216.97,135.46 217.09,137.39 217.2,137.76 217.31,136.35 217.42,135.37 217.53,136.23 217.65,138.49 217.76,139.75 217.87,139.89 217.98,136.7 218.09,136.75 218.21,136.98 218.32,139.31 218.43,135.02 218.54,140.86 218.65,137.66 218.77,137.07 218.88,139.16 218.99,140.62 219.1,139.16 219.21,140.37 219.32,138.84 219.44,140.8 219.55,140.69 219.66,138.36 219.77,141.21 219.88,138.9 220,138.72 220.11,136.33 220.22,137.91 220.33,139.87 220.44,136.13 220.56,139.88 220.67,139.22 220.78,139.04 220.89,133.53 221,138.31 221.11,139.74 221.23,137.05 221.34,138.75 221.45,133.34 221.56,139.98 221.67,137.32 221.79,140.17 221.9,135.18 222.01,139.96 222.12,138.12 222.23,140.61 222.35,136.69 222.46,137.09 222.57,142.73 222.68,137.18 222.79,137.14 222.9,138.09 223.02,136.62 223.13,140.74 223.24,141.74 223.35,137.24 223.46,135.5 223.58,141.02 223.69,140.44 223.8,139.98" fill="none" stroke="#474747" stroke-width="0.75" stroke-linejoin="round"/>
<path d="M74.88 43V128M93.73 93.5V130" stroke="#444" stroke-width="0.8" fill="none"/>
<rect x="28" y="5.7" width="195.8" height="153.9" fill="none" stroke="#111" stroke-width="1.5"/>
<path d="M28 159.6v-3M55.97 159.6v-1.8M83.94 159.6v-3M111.91 159.6v-1.8M139.89 159.6v-3M167.86 159.6v-1.8M195.83 159.6v-3M223.8 159.6v-1.8M28 36.2h3M28 67h1.8M28 97.8h3M28 128.5h1.8" stroke="#111" stroke-width="1.2" fill="none"/>
<text font-weight="bold" x="28" y="171" font-size="11" text-anchor="middle">20</text><text font-weight="bold" x="83.94" y="171" font-size="11" text-anchor="middle">30</text><text font-weight="bold" x="139.89" y="171" font-size="11" text-anchor="middle">40</text><text font-weight="bold" x="195.83" y="171" font-size="11" text-anchor="middle">50</text>
<text transform="translate(84.2,187.9) scale(1.008,1.067)" font-size="13" font-weight="bold" fill="#111">2</text><text transform="translate(93.1,187.65) scale(1.2,1.015)" font-size="13" font-style="italic" fill="#111">θ</text><text transform="translate(103.5,187.68) scale(1.07,1.061)" font-size="13" font-weight="bold" fill="#111">(degree)</text>
<text transform="translate(14.13,125.82) scale(0.989,1.017) rotate(-90)" font-size="14" font-weight="bold" fill="#111">Intensity (a.u.)</text>
<line x1="134.9" y1="20.7" x2="155.5" y2="20.7" stroke="#555" stroke-width="1.1"/><text transform="translate(160.39,24.1) scale(1.075,1.038)" font-size="11" font-weight="bold" fill="#111">HfO<tspan font-size="7.5" dy="2.6">2</tspan></text>
<text transform="translate(60.56,35.91) scale(1.083,0.995)" font-size="10" font-weight="bold" fill="#111">(-111)</text><text transform="translate(82.14,85.82) scale(1.115,1.038)" font-size="10" font-weight="bold" fill="#111">(111)</text>
<text transform="translate(233.21,10.04) scale(1.06,1.04)" font-size="13.5" fill="#111">(b)</text>
<line x1="325.2" y1="40.5" x2="325.2" y2="159" stroke="#222" stroke-width="0.7" stroke-dasharray="3,2.2"/><line x1="375" y1="40.5" x2="375" y2="159" stroke="#222" stroke-width="0.7" stroke-dasharray="3,2.2"/>
<polyline points="265.85,137.34 266.35,137.32 266.85,137.3 267.35,137.27 267.85,137.25 268.35,137.22 268.85,137.19 269.35,137.16 269.85,137.12 270.35,137.08 270.85,137.04 271.35,137 271.85,136.95 272.35,136.89 272.85,136.84 273.35,136.78 273.85,136.71 274.35,136.64 274.85,136.56 275.35,136.48 275.85,136.39 276.35,136.29 276.85,136.19 277.35,136.08 277.85,135.96 278.35,135.83 278.85,135.69 279.35,135.55 279.85,135.39 280.35,135.23 280.85,135.05 281.35,134.86 281.85,134.66 282.35,134.45 282.85,134.22 283.35,133.98 283.85,133.72 284.35,133.45 284.85,133.16 285.35,132.86 285.85,132.54 286.35,132.2 286.85,131.84 287.35,131.47 287.85,131.07 288.35,130.66 288.85,130.22 289.35,129.76 289.85,129.29 290.35,128.78 290.85,128.26 291.35,127.71 291.85,127.14 292.35,126.54 292.85,125.92 293.35,125.28 293.85,124.61 294.35,123.91 294.85,123.19 295.35,122.45 295.85,121.67 296.35,120.88 296.85,120.06 297.35,119.21 297.85,118.34 298.35,117.44 298.85,116.52 299.35,115.57 299.85,114.6 300.35,113.61 300.85,112.6 301.35,111.57 301.85,110.52 302.35,109.45 302.85,108.36 303.35,107.26 303.85,106.14 304.35,105 304.85,103.86 305.35,102.7 305.85,101.54 306.35,100.36 306.85,99.19 307.35,98.01 307.85,96.82 308.35,95.64 308.85,94.46 309.35,93.29 309.85,92.12 310.35,90.96 310.85,89.81 311.35,88.67 311.85,87.55 312.35,86.45 312.85,85.36 313.35,84.3 313.85,83.27 314.35,82.26 314.85,81.27 315.35,80.32 315.85,79.4 316.35,78.52 316.85,77.67 317.35,76.86 317.85,76.09 318.35,75.36 318.85,74.67 319.35,74.03 319.85,73.43 320.35,72.88 320.85,72.37 321.35,71.91 321.85,71.51 322.35,71.15 322.85,70.84 323.35,70.58 323.85,70.36 324.35,70.2 324.85,70.09 325.35,70.02 325.85,70.01 326.35,70.04 326.85,70.11 327.35,70.23 327.85,70.39 328.35,70.6 328.85,70.84 329.35,71.13 329.85,71.44 330.35,71.8 330.85,72.18 331.35,72.59 331.85,73.04 332.35,73.5 332.85,73.99 333.35,74.49 333.85,75.01 334.35,75.55 334.85,76.09 335.35,76.64 335.85,77.19 336.35,77.75 336.85,78.3 337.35,78.85 337.85,79.39 338.35,79.92 338.85,80.44 339.35,80.93 339.85,81.41 340.35,81.87 340.85,82.3 341.35,82.7 341.85,83.07 342.35,83.41 342.85,83.71 343.35,83.98 343.85,84.2 344.35,84.39 344.85,84.53 345.35,84.63 345.85,84.69 346.35,84.69 346.85,84.65 347.35,84.57 347.85,84.43 348.35,84.25 348.85,84.02 349.35,83.73 349.85,83.4 350.35,83.02 350.85,82.6 351.35,82.13 351.85,81.61 352.35,81.05 352.85,80.45 353.35,79.8 353.85,79.12 354.35,78.4 354.85,77.64 355.35,76.85 355.85,76.04 356.35,75.19 356.85,74.32 357.35,73.43 357.85,72.52 358.35,71.6 358.85,70.66 359.35,69.71 359.85,68.76 360.35,67.8 360.85,66.85 361.35,65.9 361.85,64.96 362.35,64.03 362.85,63.12 363.35,62.22 363.85,61.35 364.35,60.5 364.85,59.68 365.35,58.89 365.85,58.14 366.35,57.43 366.85,56.75 367.35,56.12 367.85,55.54 368.35,55.01 368.85,54.52 369.35,54.1 369.85,53.73 370.35,53.41 370.85,53.16 371.35,52.97 371.85,52.84 372.35,52.77 372.85,52.77 373.35,52.84 373.85,52.97 374.35,53.17 374.85,53.44 375.35,53.77 375.85,54.17 376.35,54.64 376.85,55.18 377.35,55.77 377.85,56.44 378.35,57.17 378.85,57.96 379.35,58.81 379.85,59.71 380.35,60.68 380.85,61.7 381.35,62.78 381.85,63.9 382.35,65.08 382.85,66.3 383.35,67.57 383.85,68.87 384.35,70.22 384.85,71.6 385.35,73.02 385.85,74.46 386.35,75.94 386.85,77.44 387.35,78.96 387.85,80.5 388.35,82.06 388.85,83.63 389.35,85.21 389.85,86.8 390.35,88.4 390.85,90 391.35,91.6 391.85,93.19 392.35,94.79 392.85,96.37 393.35,97.95 393.85,99.51 394.35,101.06 394.85,102.6 395.35,104.11 395.85,105.61 396.35,107.09 396.85,108.54 397.35,109.97 397.85,111.37 398.35,112.75 398.85,114.1 399.35,115.42 399.85,116.71 400.35,117.97 400.85,119.2 401.35,120.4 401.85,121.57 402.35,122.7 402.85,123.8 403.35,124.87 403.85,125.9 404.35,126.9 404.85,127.87 405.35,128.8 405.85,129.7 406.35,130.57 406.85,131.41 407.35,132.21 407.85,132.99 408.35,133.73 408.85,134.44 409.35,135.12 409.85,135.78 410.35,136.4 410.85,137 411.35,137.57 411.85,138.12 412.35,138.63 412.85,139.13 413.35,139.6 413.85,140.04 414.35,140.47 414.85,140.87 415.35,141.25 415.85,141.62 416.35,141.96 416.85,142.29 417.35,142.59 417.85,142.88 418.35,143.16 418.85,143.42 419.35,143.66 419.85,143.89 420.35,144.11 420.85,144.31 421.35,144.5 421.85,144.68 422.35,144.85 422.85,145.01 423.35,145.17 423.85,145.31 424.35,145.44 424.85,145.56 425.35,145.68 425.85,145.79 426.35,145.89 426.85,145.99 427.35,146.08 427.85,146.17 428.35,146.25 428.85,146.32 429.35,146.4 429.85,146.46 430.35,146.52 430.85,146.58 431.35,146.64 431.85,146.69 432.35,146.74 432.85,146.79 433.35,146.83 433.85,146.87 434.35,146.91 434.85,146.95 435.35,146.99 435.85,147.02 436.35,147.05 436.85,147.08 437.35,147.11 437.85,147.14 438.35,147.17 438.85,147.19 439.35,147.22 439.85,147.24 440.35,147.26 440.85,147.29 441.35,147.31 441.85,147.33 442.35,147.35 442.85,147.37 443.35,147.38 443.85,147.4 444.35,147.42 444.85,147.44 445.35,147.45 445.85,147.47 446.35,147.48 446.85,147.5 447.35,147.51 447.85,147.53 448.35,147.54 448.85,147.55 449.35,147.57 449.85,147.58 450.35,147.59 450.85,147.6 451.35,147.62 451.85,147.63 452.35,147.64 452.85,147.8 453.35,147.98 453.85,148.15 454.35,148.33 454.85,148.51 455.35,148.69 455.85,148.86 456.35,148.92 456.85,148.93 457.35,148.94 457.85,148.95 458.35,148.96 458.85,148.97 459.35,148.98 459.85,148.98 460.35,148.99 460.85,149" fill="none" stroke="#3a3a3a" stroke-width="1.25"/>
<polyline points="265.85,138.5 266.35,138.48 266.85,138.46 267.35,138.43 267.85,138.41 268.35,138.38 268.85,138.36 269.35,138.34 269.85,138.31 270.35,138.29 270.85,138.27 271.35,138.24 271.85,138.22 272.35,138.2 272.85,138.17 273.35,138.15 273.85,138.13 274.35,138.1 274.85,138.08 275.35,138.06 275.85,138.04 276.35,138.01 276.85,137.99 277.35,137.97 277.85,137.95 278.35,137.93 278.85,137.91 279.35,137.88 279.85,137.86 280.35,137.84 280.85,137.82 281.35,137.8 281.85,137.78 282.35,137.76 282.85,137.74 283.35,137.72 283.85,137.7 284.35,137.69 284.85,137.67 285.35,137.65 285.85,137.63 286.35,137.61 286.85,137.6 287.35,137.58 287.85,137.56 288.35,137.55 288.85,137.53 289.35,137.52 289.85,137.5 290.35,137.49 290.85,137.48 291.35,137.46 291.85,137.45 292.35,137.44 292.85,137.43 293.35,137.42 293.85,137.41 294.35,137.4 294.85,137.39 295.35,137.38 295.85,137.37 296.35,137.37 296.85,137.36 297.35,137.36 297.85,137.36 298.35,137.35 298.85,137.35 299.35,137.35 299.85,137.35 300.35,137.36 300.85,137.36 301.35,137.37 301.85,137.37 302.35,137.38 302.85,137.39 303.35,137.39 303.85,137.4 304.35,137.41 304.85,137.42 305.35,137.43 305.85,137.43 306.35,137.44 306.85,137.45 307.35,137.46 307.85,137.47 308.35,137.48 308.85,137.49 309.35,137.5 309.85,137.5 310.35,137.51 310.85,137.52 311.35,137.53 311.85,137.53 312.35,137.54 312.85,137.55 313.35,137.55 313.85,137.55 314.35,137.55 314.85,137.55 315.35,137.55 315.85,137.55 316.35,137.54 316.85,137.53 317.35,137.52 317.85,137.5 318.35,137.48 318.85,137.46 319.35,137.43 319.85,137.4 320.35,137.37 320.85,137.33 321.35,137.28 321.85,137.23 322.35,137.17 322.85,137.1 323.35,137.03 323.85,136.95 324.35,136.86 324.85,136.76 325.35,136.65 325.85,136.54 326.35,136.41 326.85,136.27 327.35,136.12 327.85,135.95 328.35,135.77 328.85,135.58 329.35,135.37 329.85,135.15 330.35,134.91 330.85,134.65 331.35,134.38 331.85,134.09 332.35,133.77 332.85,133.44 333.35,133.09 333.85,132.71 334.35,132.31 334.85,131.89 335.35,131.45 335.85,130.97 336.35,130.48 336.85,129.96 337.35,129.41 337.85,128.83 338.35,128.22 338.85,127.59 339.35,126.92 339.85,126.22 340.35,125.5 340.85,124.74 341.35,123.95 341.85,123.13 342.35,122.28 342.85,121.39 343.35,120.48 343.85,119.52 344.35,118.54 344.85,117.53 345.35,116.48 345.85,115.4 346.35,114.29 346.85,113.14 347.35,111.97 347.85,110.77 348.35,109.54 348.85,108.28 349.35,106.99 349.85,105.67 350.35,104.34 350.85,102.97 351.35,101.59 351.85,100.18 352.35,98.76 352.85,97.32 353.35,95.86 353.85,94.39 354.35,92.91 354.85,91.42 355.35,89.93 355.85,88.43 356.35,86.93 356.85,85.42 357.35,83.93 357.85,82.43 358.35,80.95 358.85,79.48 359.35,78.02 359.85,76.58 360.35,75.16 360.85,73.76 361.35,72.39 361.85,71.04 362.35,69.73 362.85,68.46 363.35,67.22 363.85,66.02 364.35,64.86 364.85,63.75 365.35,62.68 365.85,61.67 366.35,60.71 366.85,59.81 367.35,58.96 367.85,58.17 368.35,57.45 368.85,56.79 369.35,56.19 369.85,55.67 370.35,55.2 370.85,54.81 371.35,54.49 371.85,54.25 372.35,54.07 372.85,53.97 373.35,53.94 373.85,53.98 374.35,54.1 374.85,54.29 375.35,54.55 375.85,54.88 376.35,55.29 376.85,55.77 377.35,56.32 377.85,56.93 378.35,57.62 378.85,58.37 379.35,59.18 379.85,60.05 380.35,60.99 380.85,61.98 381.35,63.03 381.85,64.13 382.35,65.29 382.85,66.49 383.35,67.74 383.85,69.03 384.35,70.36 384.85,71.73 385.35,73.13 385.85,74.57 386.35,76.03 386.85,77.52 387.35,79.03 387.85,80.57 388.35,82.12 388.85,83.68 389.35,85.26 389.85,86.85 390.35,88.44 390.85,90.03 391.35,91.63 391.85,93.22 392.35,94.81 392.85,96.39 393.35,97.97 393.85,99.53 394.35,101.08 394.85,102.61 395.35,104.12 395.85,105.62 396.35,107.09 396.85,108.55 397.35,109.98 397.85,111.38 398.35,112.76 398.85,114.11 399.35,115.43 399.85,116.72 400.35,117.98 400.85,119.21 401.35,120.4 401.85,121.57 402.35,122.7 402.85,123.8 403.35,124.87 403.85,125.9 404.35,126.9 404.85,127.87 405.35,128.8 405.85,129.7 406.35,130.57 406.85,131.41 407.35,132.21 407.85,132.99 408.35,133.73 408.85,134.44 409.35,135.12 409.85,135.78 410.35,136.4 410.85,137 411.35,137.57 411.85,138.12 412.35,138.63 412.85,139.13 413.35,139.6 413.85,140.05 414.35,140.47 414.85,140.87 415.35,141.25 415.85,141.62 416.35,141.96 416.85,142.29 417.35,142.59 417.85,142.88 418.35,143.16 418.85,143.42 419.35,143.66 419.85,143.89 420.35,144.11 420.85,144.31 421.35,144.5 421.85,144.68 422.35,144.85 422.85,145.01 423.35,145.17 423.85,145.31 424.35,145.44 424.85,145.56 425.35,145.68 425.85,145.79 426.35,145.89 426.85,145.99 427.35,146.08 427.85,146.17 428.35,146.25 428.85,146.32 429.35,146.4 429.85,146.46 430.35,146.52 430.85,146.58 431.35,146.64 431.85,146.69 432.35,146.74 432.85,146.79 433.35,146.83 433.85,146.87 434.35,146.91 434.85,146.95 435.35,146.99 435.85,147.02 436.35,147.05 436.85,147.08 437.35,147.11 437.85,147.14 438.35,147.17 438.85,147.19 439.35,147.22 439.85,147.24 440.35,147.26 440.85,147.29 441.35,147.31 441.85,147.33 442.35,147.35 442.85,147.37 443.35,147.38 443.85,147.4 444.35,147.42 444.85,147.44 445.35,147.45 445.85,147.47 446.35,147.48 446.85,147.5 447.35,147.51 447.85,147.53 448.35,147.54 448.85,147.55 449.35,147.57 449.85,147.58 450.35,147.59 450.85,147.6 451.35,147.62 451.85,147.63 452.35,147.64 452.85,147.8 453.35,147.98 453.85,148.15 454.35,148.33 454.85,148.51 455.35,148.69 455.85,148.86 456.35,148.92 456.85,148.93 457.35,148.94 457.85,148.95 458.35,148.96 458.85,148.97 459.35,148.98 459.85,148.98 460.35,148.99 460.85,149" fill="none" stroke="#e0454a" stroke-width="1.2"/>
<polyline points="265.85,137.42 266.35,137.4 266.85,137.38 267.35,137.36 267.85,137.34 268.35,137.31 268.85,137.29 269.35,137.26 269.85,137.23 270.35,137.19 270.85,137.15 271.35,137.11 271.85,137.07 272.35,137.02 272.85,136.96 273.35,136.91 273.85,136.84 274.35,136.78 274.85,136.7 275.35,136.62 275.85,136.54 276.35,136.45 276.85,136.35 277.35,136.24 277.85,136.13 278.35,136.01 278.85,135.88 279.35,135.74 279.85,135.59 280.35,135.42 280.85,135.25 281.35,135.07 281.85,134.87 282.35,134.67 282.85,134.45 283.35,134.21 283.85,133.96 284.35,133.7 284.85,133.42 285.35,133.12 285.85,132.81 286.35,132.48 286.85,132.13 287.35,131.76 287.85,131.37 288.35,130.97 288.85,130.54 289.35,130.09 289.85,129.62 290.35,129.13 290.85,128.61 291.35,128.07 291.85,127.51 292.35,126.92 292.85,126.31 293.35,125.68 293.85,125.02 294.35,124.33 294.85,123.62 295.35,122.89 295.85,122.13 296.35,121.34 296.85,120.53 297.35,119.7 297.85,118.84 298.35,117.95 298.85,117.04 299.35,116.11 299.85,115.16 300.35,114.18 300.85,113.18 301.35,112.17 301.85,111.13 302.35,110.07 302.85,109 303.35,107.91 303.85,106.81 304.35,105.69 304.85,104.57 305.35,103.43 305.85,102.28 306.35,101.13 306.85,99.97 307.35,98.81 307.85,97.65 308.35,96.5 308.85,95.34 309.35,94.19 309.85,93.05 310.35,91.91 310.85,90.79 311.35,89.69 311.85,88.6 312.35,87.53 312.85,86.48 313.35,85.46 313.85,84.46 314.35,83.49 314.85,82.55 315.35,81.65 315.85,80.78 316.35,79.95 316.85,79.15 317.35,78.4 317.85,77.69 318.35,77.03 318.85,76.41 319.35,75.85 319.85,75.33 320.35,74.86 320.85,74.45 321.35,74.09 321.85,73.78 322.35,73.53 322.85,73.34 323.35,73.21 323.85,73.13 324.35,73.11 324.85,73.15 325.35,73.24 325.85,73.4 326.35,73.61 326.85,73.88 327.35,74.2 327.85,74.58 328.35,75.02 328.85,75.51 329.35,76.05 329.85,76.64 330.35,77.29 330.85,77.98 331.35,78.72 331.85,79.5 332.35,80.33 332.85,81.2 333.35,82.11 333.85,83.05 334.35,84.03 334.85,85.05 335.35,86.09 335.85,87.17 336.35,88.27 336.85,89.39 337.35,90.54 337.85,91.7 338.35,92.88 338.85,94.08 339.35,95.29 339.85,96.5 340.35,97.73 340.85,98.96 341.35,100.2 341.85,101.43 342.35,102.67 342.85,103.9 343.35,105.13 343.85,106.35 344.35,107.56 344.85,108.76 345.35,109.95 345.85,111.13 346.35,112.29 346.85,113.44 347.35,114.57 347.85,115.68 348.35,116.77 348.85,117.84 349.35,118.89 349.85,119.92 350.35,120.93 350.85,121.91 351.35,122.87 351.85,123.8 352.35,124.71 352.85,125.59 353.35,126.45 353.85,127.29 354.35,128.09 354.85,128.88 355.35,129.64 355.85,130.37 356.35,131.08 356.85,131.76 357.35,132.42 357.85,133.06 358.35,133.67 358.85,134.26 359.35,134.82 359.85,135.37 360.35,135.89 360.85,136.39 361.35,136.87 361.85,137.34 362.35,137.78 362.85,138.2 363.35,138.61 363.85,139 364.35,139.37 364.85,139.72 365.35,140.06 365.85,140.39 366.35,140.7 366.85,140.99 367.35,141.28 367.85,141.55 368.35,141.81 368.85,142.05 369.35,142.29 369.85,142.52 370.35,142.73 370.85,142.94 371.35,143.14 371.85,143.32 372.35,143.5 372.85,143.68 373.35,143.84 373.85,144 374.35,144.15 374.85,144.3 375.35,144.44 375.85,144.57 376.35,144.7 376.85,144.83 377.35,144.95 377.85,145.06 378.35,145.17 378.85,145.28 379.35,145.38 379.85,145.48 380.35,145.58 380.85,145.67 381.35,145.76 381.85,145.84 382.35,145.93 382.85,146.01 383.35,146.08 383.85,146.16 384.35,146.23 384.85,146.3 385.35,146.37 385.85,146.44 386.35,146.5 386.85,146.56 387.35,146.62 387.85,146.68 388.35,146.73 388.85,146.79 389.35,146.84 389.85,146.89 390.35,146.94 390.85,146.99 391.35,147.03 391.85,147.08 392.35,147.12 392.85,147.16 393.35,147.2 393.85,147.24 394.35,147.27 394.85,147.31 395.35,147.34 395.85,147.38 396.35,147.41 396.85,147.44 397.35,147.47 397.85,147.5 398.35,147.52 398.85,147.55 399.35,147.57 399.85,147.6 400.35,147.62 400.85,147.64 401.35,147.66 401.85,147.68 402.35,147.7 402.85,147.72 403.35,147.74 403.85,147.75 404.35,147.77 404.85,147.78 405.35,147.8 405.85,147.81 406.35,147.83 406.85,147.84 407.35,147.85 407.85,147.86 408.35,147.87 408.85,147.88 409.35,147.89 409.85,147.9 410.35,147.91 410.85,147.92 411.35,147.93 411.85,147.93 412.35,147.94 412.85,147.95 413.35,147.95 413.85,147.96 414.35,147.97 414.85,147.97 415.35,147.98 415.85,147.98 416.35,147.99 416.85,147.99 417.35,147.99 417.85,148 418.35,148 418.85,148 419.35,148.01 419.85,148.01 420.35,148.01 420.85,148.02 421.35,148.02 421.85,148.02 422.35,148.02 422.85,148.03 423.35,148.03 423.85,148.03 424.35,148.03 424.85,148.03 425.35,148.04 425.85,148.04 426.35,148.04 426.85,148.04 427.35,148.04 427.85,148.04 428.35,148.05 428.85,148.05 429.35,148.05 429.85,148.05 430.35,148.05 430.85,148.05 431.35,148.05 431.85,148.05 432.35,148.05 432.85,148.06 433.35,148.06 433.85,148.06 434.35,148.06 434.85,148.06 435.35,148.06 435.85,148.06 436.35,148.06 436.85,148.06 437.35,148.06 437.85,148.06 438.35,148.06 438.85,148.07 439.35,148.07 439.85,148.07 440.35,148.07 440.85,148.07 441.35,148.07 441.85,148.07 442.35,148.07 442.85,148.07 443.35,148.07 443.85,148.07 444.35,148.07 444.85,148.07 445.35,148.07 445.85,148.07 446.35,148.07 446.85,148.07 447.35,148.07 447.85,148.07 448.35,148.07 448.85,148.08 449.35,148.08 449.85,148.08 450.35,148.08 450.85,148.08 451.35,148.08 451.85,148.08 452.35,148.08 452.85,148.49 453.35,148.95 453.85,149.41 454.35,149.87 454.85,150.33 455.35,150.78 455.85,151.24 456.35,151.38 456.85,151.38 457.35,151.38 457.85,151.38 458.35,151.38 458.85,151.38 459.35,151.38 459.85,151.38 460.35,151.38 460.85,151.38" fill="none" stroke="#3668d8" stroke-width="1.3"/>
<rect x="265.6" y="5.7" width="196" height="153.9" fill="none" stroke="#111" stroke-width="1.5"/>
<path d="M461.3 159.6v-3M446.26 159.6v-1.8M431.22 159.6v-3M416.18 159.6v-1.8M401.14 159.6v-3M386.1 159.6v-1.8M371.06 159.6v-3M356.02 159.6v-1.8M340.98 159.6v-3M325.94 159.6v-1.8M310.9 159.6v-3M295.86 159.6v-1.8M280.82 159.6v-3" stroke="#111" stroke-width="1.2" fill="none"/>
<text font-weight="bold" x="461.3" y="170.8" font-size="11" text-anchor="middle">15</text><text font-weight="bold" x="431.22" y="170.8" font-size="11" text-anchor="middle">16</text><text font-weight="bold" x="401.14" y="170.8" font-size="11" text-anchor="middle">17</text><text font-weight="bold" x="371.06" y="170.8" font-size="11" text-anchor="middle">18</text><text font-weight="bold" x="340.98" y="170.8" font-size="11" text-anchor="middle">19</text><text font-weight="bold" x="310.9" y="170.8" font-size="11" text-anchor="middle">20</text><text font-weight="bold" x="280.82" y="170.8" font-size="11" text-anchor="middle">21</text>
<text transform="translate(301.04,187.24) scale(1.056,1.02)" font-size="13.5" font-weight="bold" fill="#111">Binding Energy (eV)</text>
<text transform="translate(251.33,125.81) scale(0.989,1.012) rotate(-90)" font-size="14" font-weight="bold" fill="#111">Intensity (a.u.)</text>
<text transform="translate(271.36,19.9) scale(1.119,1.045)" font-size="10.5" font-weight="bold" fill="#111">Hf4f</text>
<text transform="translate(317.41,36.82) scale(1.048,0.954)" font-size="10" font-weight="bold" fill="#111">Hf4f<tspan font-size="7" dy="2.2">5/2</tspan></text><text transform="translate(364.22,36.86) scale(1.037,0.974)" font-size="10" font-weight="bold" fill="#111">Hf4f<tspan font-size="7" dy="2.2">7/2</tspan></text>
<text transform="translate(-1.12,196.91) scale(1.088,1.016)" font-size="13.5" fill="#111">(c)</text>
<g clip-path="url(#cc)"><g filter="url(#gold)"><rect x="27.8" y="209.2" width="171.4" height="170.6" fill="#474747"/><circle cx="187.4" cy="297.0" r="2.9" fill="url(#hd)" opacity="0.55"/><circle cx="118.8" cy="335.0" r="4.5" fill="url(#hd)" opacity="0.84"/><circle cx="107.6" cy="357.0" r="3.9" fill="url(#hd)" opacity="0.81"/><circle cx="30.2" cy="292.9" r="2.7" fill="url(#hd)" opacity="0.60"/><circle cx="80.2" cy="306.7" r="2.7" fill="url(#hd)" opacity="0.82"/><circle cx="95.9" cy="247.5" r="4.9" fill="url(#hd)" opacity="0.80"/><circle cx="86.0" cy="231.7" r="3.7" fill="url(#hd)" opacity="0.85"/><circle cx="115.5" cy="262.8" r="2.8" fill="url(#hd)" opacity="0.60"/><circle cx="162.1" cy="237.8" r="5.0" fill="url(#hd)" opacity="0.83"/><circle cx="97.3" cy="242.7" r="3.7" fill="url(#hd)" opacity="0.93"/><circle cx="49.7" cy="251.8" r="2.7" fill="url(#hd)" opacity="0.83"/><circle cx="189.0" cy="304.0" r="3.2" fill="url(#hd)" opacity="0.93"/><circle cx="128.1" cy="371.1" r="3.4" fill="url(#hd)" opacity="0.57"/><circle cx="41.5" cy="255.7" r="3.6" fill="url(#hd)" opacity="0.84"/><circle cx="108.3" cy="256.1" r="4.8" fill="url(#hd)" opacity="0.76"/><circle cx="130.7" cy="347.8" r="4.2" fill="url(#hd)" opacity="0.61"/><circle cx="189.3" cy="238.1" r="2.9" fill="url(#hd)" opacity="0.79"/><circle cx="127.3" cy="249.4" r="4.3" fill="url(#hd)" opacity="0.54"/><circle cx="109.3" cy="369.0" r="4.7" fill="url(#hd)" opacity="0.77"/><circle cx="162.6" cy="321.7" r="3.1" fill="url(#hd)" opacity="0.89"/><circle cx="132.1" cy="310.5" r="4.9" fill="url(#hd)" opacity="0.75"/><circle cx="84.3" cy="281.6" r="3.9" fill="url(#hd)" opacity="0.89"/><circle cx="170.8" cy="277.4" r="3.7" fill="url(#hd)" opacity="0.52"/><circle cx="136.8" cy="344.9" r="3.0" fill="url(#hd)" opacity="0.79"/><circle cx="53.3" cy="351.0" r="4.3" fill="url(#hd)" opacity="0.92"/><circle cx="77.3" cy="239.6" r="3.9" fill="url(#hd)" opacity="0.53"/><circle cx="167.2" cy="245.3" r="2.8" fill="url(#hd)" opacity="0.57"/><circle cx="147.6" cy="219.4" r="3.6" fill="url(#hd)" opacity="0.58"/><circle cx="160.5" cy="220.2" r="3.0" fill="url(#hd)" opacity="0.85"/><circle cx="116.1" cy="230.4" r="5.0" fill="url(#hd)" opacity="0.67"/><circle cx="100.0" cy="334.7" r="3.7" fill="url(#hd)" opacity="0.87"/><circle cx="119.5" cy="252.1" r="3.8" fill="url(#hd)" opacity="0.88"/><circle cx="76.7" cy="317.1" r="3.9" fill="url(#hd)" opacity="0.81"/><circle cx="90.1" cy="249.0" r="4.2" fill="url(#hd)" opacity="0.88"/><circle cx="108.7" cy="234.0" r="4.5" fill="url(#hd)" opacity="0.74"/><circle cx="144.0" cy="228.1" r="4.5" fill="url(#hd)" opacity="0.67"/><circle cx="178.8" cy="252.5" r="2.5" fill="url(#hd)" opacity="0.64"/><circle cx="151.0" cy="331.1" r="4.6" fill="url(#hd)" opacity="0.59"/><circle cx="129.2" cy="223.3" r="3.1" fill="url(#hd)" opacity="0.52"/><circle cx="135.1" cy="360.4" r="4.0" fill="url(#hd)" opacity="0.77"/><circle cx="181.1" cy="266.1" r="3.9" fill="url(#hd)" opacity="0.86"/><circle cx="62.3" cy="328.4" r="2.7" fill="url(#hd)" opacity="0.67"/><circle cx="60.8" cy="283.2" r="3.0" fill="url(#hd)" opacity="0.53"/><circle cx="104.2" cy="276.2" r="4.3" fill="url(#hd)" opacity="0.51"/><circle cx="136.2" cy="218.6" r="3.7" fill="url(#hd)" opacity="0.51"/><circle cx="182.3" cy="292.4" r="3.7" fill="url(#hd)" opacity="0.53"/><circle cx="161.5" cy="255.6" r="3.7" fill="url(#hd)" opacity="0.82"/><circle cx="162.3" cy="275.5" r="2.7" fill="url(#hd)" opacity="0.94"/><circle cx="72.5" cy="218.2" r="4.0" fill="url(#hd)" opacity="0.89"/><circle cx="44.5" cy="218.8" r="4.2" fill="url(#hd)" opacity="0.76"/><circle cx="73.2" cy="255.3" r="4.4" fill="url(#hd)" opacity="0.51"/><circle cx="70.1" cy="271.6" r="4.4" fill="url(#hd)" opacity="0.64"/><circle cx="38.9" cy="335.0" r="4.2" fill="url(#hd)" opacity="0.56"/><circle cx="151.7" cy="315.0" r="3.4" fill="url(#hd)" opacity="0.76"/><circle cx="114.0" cy="343.4" r="4.9" fill="url(#hd)" opacity="0.65"/><circle cx="44.9" cy="271.9" r="4.0" fill="url(#hd)" opacity="0.62"/><circle cx="55.7" cy="246.5" r="4.6" fill="url(#hd)" opacity="0.82"/><circle cx="50.8" cy="261.1" r="3.2" fill="url(#hd)" opacity="0.55"/><circle cx="170.2" cy="259.4" r="3.9" fill="url(#hd)" opacity="0.67"/><circle cx="41.5" cy="217.3" r="4.2" fill="url(#hd)" opacity="0.78"/><circle cx="112.2" cy="240.7" r="3.4" fill="url(#hd)" opacity="0.73"/><circle cx="65.9" cy="307.2" r="4.6" fill="url(#hd)" opacity="0.58"/><circle cx="185.7" cy="295.8" r="4.9" fill="url(#hd)" opacity="0.94"/><circle cx="40.5" cy="324.8" r="3.1" fill="url(#hd)" opacity="0.78"/><circle cx="178.7" cy="287.5" r="4.1" fill="url(#hd)" opacity="0.80"/><circle cx="61.2" cy="282.1" r="3.2" fill="url(#hd)" opacity="0.72"/><circle cx="157.5" cy="235.4" r="3.9" fill="url(#hd)" opacity="0.73"/><circle cx="94.2" cy="351.4" r="3.4" fill="url(#hd)" opacity="0.86"/><circle cx="41.6" cy="284.4" r="2.8" fill="url(#hd)" opacity="0.88"/><circle cx="141.0" cy="246.6" r="3.4" fill="url(#hd)" opacity="0.56"/><circle cx="178.0" cy="359.9" r="4.7" fill="url(#hd)" opacity="0.77"/><circle cx="74.1" cy="287.2" r="4.2" fill="url(#hd)" opacity="0.69"/><circle cx="39.5" cy="298.7" r="2.7" fill="url(#hd)" opacity="0.61"/><circle cx="166.6" cy="313.5" r="4.5" fill="url(#hd)" opacity="0.81"/><circle cx="139.9" cy="252.4" r="4.3" fill="url(#hd)" opacity="0.56"/><circle cx="32.8" cy="267.7" r="2.9" fill="url(#hd)" opacity="0.81"/><circle cx="77.6" cy="217.0" r="4.4" fill="url(#hd)" opacity="0.92"/><circle cx="148.8" cy="370.3" r="4.5" fill="url(#hd)" opacity="0.92"/><circle cx="142.5" cy="341.9" r="4.5" fill="url(#hd)" opacity="0.55"/><circle cx="83.4" cy="313.9" r="3.3" fill="url(#hd)" opacity="0.89"/><circle cx="38.9" cy="232.5" r="3.3" fill="url(#hd)" opacity="0.65"/><circle cx="169.2" cy="213.7" r="4.6" fill="url(#hd)" opacity="0.94"/><circle cx="38.1" cy="369.8" r="4.2" fill="url(#hd)" opacity="0.56"/><circle cx="169.0" cy="231.1" r="3.5" fill="url(#hd)" opacity="0.61"/><circle cx="94.1" cy="235.5" r="3.4" fill="url(#hd)" opacity="0.76"/><circle cx="107.5" cy="298.1" r="4.7" fill="url(#hd)" opacity="0.88"/><circle cx="48.7" cy="333.6" r="4.5" fill="url(#hd)" opacity="0.91"/><circle cx="95.6" cy="365.0" r="3.9" fill="url(#hd)" opacity="0.71"/><circle cx="114.9" cy="279.9" r="4.2" fill="url(#hd)" opacity="0.74"/><circle cx="176.8" cy="289.4" r="2.6" fill="url(#hd)" opacity="0.57"/><circle cx="98.9" cy="289.8" r="4.5" fill="url(#hd)" opacity="0.77"/><circle cx="58.2" cy="261.6" r="3.8" fill="url(#hd)" opacity="0.86"/><circle cx="148.5" cy="317.9" r="3.1" fill="url(#hd)" opacity="0.76"/><circle cx="70.9" cy="222.1" r="4.4" fill="url(#hd)" opacity="0.79"/><circle cx="195.2" cy="335.7" r="3.1" fill="url(#hd)" opacity="0.51"/><circle cx="101.8" cy="267.8" r="3.8" fill="url(#hd)" opacity="0.67"/><circle cx="37.8" cy="222.6" r="3.4" fill="url(#hd)" opacity="0.77"/><circle cx="59.2" cy="241.1" r="3.1" fill="url(#hd)" opacity="0.83"/><circle cx="157.7" cy="292.4" r="2.6" fill="url(#hd)" opacity="0.92"/><circle cx="175.2" cy="261.4" r="2.5" fill="url(#hd)" opacity="0.72"/><circle cx="58.0" cy="274.5" r="3.5" fill="url(#hd)" opacity="0.64"/><circle cx="182.7" cy="276.1" r="2.8" fill="url(#hd)" opacity="0.76"/><circle cx="178.5" cy="249.8" r="3.8" fill="url(#hd)" opacity="0.67"/><circle cx="142.9" cy="263.2" r="3.1" fill="url(#hd)" opacity="0.93"/><circle cx="167.6" cy="328.3" r="4.1" fill="url(#hd)" opacity="0.92"/><circle cx="39.4" cy="284.6" r="4.1" fill="url(#hd)" opacity="0.56"/><circle cx="196.4" cy="325.5" r="4.4" fill="url(#hd)" opacity="0.93"/><circle cx="126.6" cy="363.3" r="3.4" fill="url(#hd)" opacity="0.91"/><circle cx="114.7" cy="340.4" r="3.2" fill="url(#hd)" opacity="0.71"/><circle cx="122.9" cy="297.1" r="4.8" fill="url(#hd)" opacity="0.71"/><circle cx="176.4" cy="229.7" r="3.0" fill="url(#hd)" opacity="0.58"/><circle cx="60.4" cy="308.8" r="2.8" fill="url(#hd)" opacity="0.80"/><circle cx="175.7" cy="364.9" r="2.6" fill="url(#hd)" opacity="0.61"/><circle cx="103.6" cy="213.6" r="4.2" fill="url(#hd)" opacity="0.70"/><circle cx="101.3" cy="237.1" r="2.7" fill="url(#hd)" opacity="0.90"/><circle cx="130.0" cy="268.9" r="4.7" fill="url(#hd)" opacity="0.55"/><circle cx="96.4" cy="223.4" r="4.5" fill="url(#hd)" opacity="0.90"/><circle cx="77.5" cy="347.5" r="4.9" fill="url(#hd)" opacity="0.60"/><circle cx="191.5" cy="267.1" r="4.3" fill="url(#hd)" opacity="0.74"/><circle cx="88.3" cy="311.4" r="2.5" fill="url(#hd)" opacity="0.73"/><circle cx="113.4" cy="316.8" r="4.4" fill="url(#hd)" opacity="0.90"/><circle cx="164.0" cy="356.4" r="3.4" fill="url(#hd)" opacity="0.55"/><circle cx="138.7" cy="218.7" r="4.9" fill="url(#hd)" opacity="0.72"/><circle cx="72.7" cy="216.4" r="4.6" fill="url(#hd)" opacity="0.88"/><circle cx="52.2" cy="339.8" r="2.7" fill="url(#hd)" opacity="0.81"/><circle cx="119.0" cy="318.0" r="2.8" fill="url(#hd)" opacity="0.86"/><circle cx="161.5" cy="351.4" r="3.5" fill="url(#hd)" opacity="0.62"/><circle cx="121.8" cy="327.6" r="4.4" fill="url(#hd)" opacity="0.70"/><circle cx="131.7" cy="318.9" r="4.0" fill="url(#hd)" opacity="0.82"/><circle cx="81.6" cy="250.3" r="3.2" fill="url(#hd)" opacity="0.86"/><circle cx="191.9" cy="264.2" r="4.1" fill="url(#hd)" opacity="0.76"/><circle cx="177.2" cy="213.7" r="4.1" fill="url(#hd)" opacity="0.89"/><circle cx="191.3" cy="280.6" r="3.7" fill="url(#hd)" opacity="0.88"/><circle cx="186.3" cy="250.5" r="4.7" fill="url(#hd)" opacity="0.55"/><circle cx="38.4" cy="216.7" r="2.7" fill="url(#hd)" opacity="0.54"/><circle cx="69.1" cy="259.2" r="4.9" fill="url(#hd)" opacity="0.86"/><circle cx="47.1" cy="243.3" r="4.2" fill="url(#hd)" opacity="0.77"/><circle cx="104.4" cy="282.1" r="4.4" fill="url(#hd)" opacity="0.72"/><circle cx="150.3" cy="213.1" r="2.8" fill="url(#hd)" opacity="0.58"/><circle cx="61.5" cy="217.8" r="3.9" fill="url(#h0)"/><circle cx="39.2" cy="346.1" r="3.8" fill="url(#h0)"/><circle cx="125.6" cy="373.6" r="3.1" fill="url(#h0)"/><circle cx="65.1" cy="246.8" r="3.5" fill="url(#h0)"/><circle cx="199.9" cy="208.2" r="3.2" fill="url(#h0)"/><circle cx="130.5" cy="243.3" r="3.4" fill="url(#h0)"/><circle cx="172.4" cy="323.6" r="3.6" fill="url(#h0)"/><circle cx="155.7" cy="306.3" r="3.8" fill="url(#h0)"/><circle cx="60.1" cy="277.5" r="3.6" fill="url(#h0)"/><circle cx="82.3" cy="324.4" r="3.6" fill="url(#h0)"/><circle cx="144.4" cy="235.7" r="4.0" fill="url(#h0)"/><circle cx="62.0" cy="320.3" r="3.3" fill="url(#h0)"/><circle cx="202.1" cy="345.1" r="3.2" fill="url(#h0)"/><circle cx="118.0" cy="238.4" r="3.5" fill="url(#h0)"/><circle cx="99.5" cy="373.6" r="3.4" fill="url(#h0)"/><circle cx="142.7" cy="259.6" r="3.0" fill="url(#h0)"/><circle cx="52.3" cy="320.1" r="4.0" fill="url(#h0)"/><circle cx="140.6" cy="371.3" r="3.8" fill="url(#h0)"/><circle cx="188.9" cy="354.8" r="3.1" fill="url(#h0)"/><circle cx="85.5" cy="276.2" r="3.7" fill="url(#h0)"/><circle cx="35.5" cy="253.7" r="3.6" fill="url(#h0)"/><circle cx="39.3" cy="324.4" r="3.3" fill="url(#h0)"/><circle cx="120.5" cy="263.1" r="3.8" fill="url(#h0)"/><circle cx="168.9" cy="260.7" r="3.7" fill="url(#h0)"/><circle cx="168.7" cy="256.4" r="3.1" fill="url(#h0)"/><circle cx="171.9" cy="283.8" r="3.1" fill="url(#h0)"/><circle cx="87.8" cy="271.3" r="3.4" fill="url(#h0)"/><circle cx="188.3" cy="247.2" r="3.0" fill="url(#h0)"/><circle cx="79.8" cy="338.7" r="3.2" fill="url(#h0)"/><circle cx="197.4" cy="253.2" r="3.0" fill="url(#h0)"/><circle cx="136.8" cy="290.7" r="3.3" fill="url(#h0)"/><circle cx="56.4" cy="262.3" r="4.1" fill="url(#h0)"/><circle cx="147.3" cy="261.4" r="3.9" fill="url(#h0)"/><circle cx="93.0" cy="248.2" r="3.6" fill="url(#h0)"/><circle cx="28.7" cy="237.2" r="3.3" fill="url(#h0)"/><circle cx="36.0" cy="355.4" r="4.0" fill="url(#h0)"/><circle cx="193.8" cy="245.5" r="3.8" fill="url(#h0)"/><circle cx="185.3" cy="370.1" r="4.0" fill="url(#h0)"/><circle cx="57.3" cy="379.5" r="3.6" fill="url(#h0)"/><circle cx="161.9" cy="255.3" r="3.1" fill="url(#h0)"/><circle cx="135.4" cy="300.4" r="3.2" fill="url(#h0)"/><circle cx="115.2" cy="226.8" r="3.7" fill="url(#h0)"/><circle cx="107.6" cy="290.4" r="3.8" fill="url(#h0)"/><circle cx="44.5" cy="217.3" r="3.3" fill="url(#h0)"/><circle cx="64.0" cy="308.4" r="3.6" fill="url(#h0)"/><circle cx="143.4" cy="234.5" r="3.4" fill="url(#h0)"/><circle cx="106.7" cy="272.5" r="3.4" fill="url(#h0)"/><circle cx="187.5" cy="224.6" r="3.8" fill="url(#h0)"/><circle cx="137.3" cy="337.6" r="4.0" fill="url(#h0)"/><circle cx="78.6" cy="213.7" r="3.7" fill="url(#h0)"/><circle cx="188.8" cy="342.4" r="3.1" fill="url(#h0)"/><circle cx="145.7" cy="304.7" r="3.1" fill="url(#h0)"/><circle cx="132.3" cy="319.7" r="4.1" fill="url(#h0)"/><circle cx="55.8" cy="286.0" r="3.6" fill="url(#h0)"/><circle cx="35.2" cy="232.4" r="3.1" fill="url(#h0)"/><circle cx="25.2" cy="256.7" r="3.5" fill="url(#h0)"/><circle cx="84.6" cy="279.9" r="4.0" fill="url(#h0)"/><circle cx="152.6" cy="211.5" r="3.4" fill="url(#h0)"/><circle cx="104.3" cy="223.8" r="3.6" fill="url(#h0)"/><circle cx="133.9" cy="285.9" r="3.6" fill="url(#h0)"/><circle cx="50.0" cy="206.2" r="3.9" fill="url(#h0)"/><circle cx="81.1" cy="249.9" r="3.6" fill="url(#h1)"/><circle cx="46.9" cy="261.3" r="4.1" fill="url(#h1)"/><circle cx="193.8" cy="316.4" r="3.4" fill="url(#h1)"/><circle cx="101.2" cy="369.9" r="3.6" fill="url(#h1)"/><circle cx="122.6" cy="248.2" r="3.7" fill="url(#h1)"/><circle cx="97.9" cy="295.0" r="3.2" fill="url(#h1)"/><circle cx="92.4" cy="266.7" r="4.0" fill="url(#h1)"/><circle cx="89.7" cy="348.8" r="4.0" fill="url(#h1)"/><circle cx="159.1" cy="379.1" r="3.1" fill="url(#h1)"/><circle cx="142.8" cy="273.8" r="3.6" fill="url(#h1)"/><circle cx="108.7" cy="314.3" r="3.4" fill="url(#h1)"/><circle cx="198.9" cy="334.8" r="4.1" fill="url(#h1)"/><circle cx="128.8" cy="253.6" r="3.3" fill="url(#h1)"/><circle cx="149.3" cy="207.3" r="3.6" fill="url(#h1)"/><circle cx="150.3" cy="254.6" r="3.2" fill="url(#h1)"/><circle cx="31.5" cy="305.8" r="4.1" fill="url(#h1)"/><circle cx="148.0" cy="305.5" r="3.0" fill="url(#h1)"/><circle cx="36.6" cy="222.8" r="3.6" fill="url(#h1)"/><circle cx="132.7" cy="334.0" r="3.1" fill="url(#h1)"/><circle cx="88.5" cy="297.2" r="3.4" fill="url(#h1)"/><circle cx="94.2" cy="227.6" r="3.7" fill="url(#h1)"/><circle cx="139.4" cy="278.0" r="4.0" fill="url(#h1)"/><circle cx="42.2" cy="287.3" r="3.7" fill="url(#h1)"/><circle cx="89.9" cy="378.7" r="3.8" fill="url(#h1)"/><circle cx="68.6" cy="242.8" r="3.3" fill="url(#h1)"/><circle cx="172.0" cy="296.3" r="3.2" fill="url(#h1)"/><circle cx="75.4" cy="222.9" r="4.0" fill="url(#h1)"/><circle cx="196.5" cy="241.2" r="3.3" fill="url(#h1)"/><circle cx="176.6" cy="346.5" r="3.3" fill="url(#h1)"/><circle cx="66.2" cy="314.4" r="3.5" fill="url(#h1)"/><circle cx="37.4" cy="236.5" r="3.7" fill="url(#h1)"/><circle cx="166.4" cy="246.3" r="4.0" fill="url(#h1)"/><circle cx="169.9" cy="289.5" r="3.8" fill="url(#h1)"/><circle cx="81.3" cy="310.7" r="3.9" fill="url(#h1)"/><circle cx="123.7" cy="228.0" r="4.0" fill="url(#h1)"/><circle cx="168.3" cy="340.2" r="3.1" fill="url(#h1)"/><circle cx="37.4" cy="267.9" r="3.4" fill="url(#h1)"/><circle cx="150.0" cy="246.8" r="4.1" fill="url(#h1)"/><circle cx="200.7" cy="289.0" r="4.0" fill="url(#h1)"/><circle cx="141.1" cy="239.9" r="3.1" fill="url(#h1)"/><circle cx="147.8" cy="330.4" r="3.1" fill="url(#h1)"/><circle cx="106.5" cy="227.8" r="3.0" fill="url(#h1)"/><circle cx="65.5" cy="257.0" r="3.4" fill="url(#h1)"/><circle cx="28.0" cy="227.2" r="3.7" fill="url(#h1)"/><circle cx="72.9" cy="290.7" r="3.7" fill="url(#h1)"/><circle cx="159.0" cy="369.9" r="4.1" fill="url(#h1)"/><circle cx="61.9" cy="372.8" r="3.3" fill="url(#h1)"/><circle cx="157.0" cy="292.2" r="3.2" fill="url(#h1)"/><circle cx="89.2" cy="363.7" r="3.6" fill="url(#h1)"/><circle cx="83.4" cy="344.1" r="3.6" fill="url(#h1)"/><circle cx="180.1" cy="260.5" r="3.2" fill="url(#h1)"/><circle cx="85.7" cy="340.2" r="3.8" fill="url(#h1)"/><circle cx="173.6" cy="305.4" r="3.3" fill="url(#h1)"/><circle cx="64.8" cy="265.6" r="3.1" fill="url(#h1)"/><circle cx="29.1" cy="329.0" r="3.2" fill="url(#h1)"/><circle cx="103.7" cy="309.4" r="3.6" fill="url(#h1)"/><circle cx="41.6" cy="310.7" r="3.6" fill="url(#h1)"/><circle cx="73.7" cy="339.1" r="3.4" fill="url(#h1)"/><circle cx="168.9" cy="378.3" r="3.0" fill="url(#h1)"/><circle cx="89.1" cy="314.4" r="3.3" fill="url(#h1)"/><circle cx="140.2" cy="319.0" r="3.1" fill="url(#h1)"/><circle cx="172.9" cy="373.7" r="4.1" fill="url(#h1)"/><circle cx="52.1" cy="271.5" r="3.5" fill="url(#h1)"/><circle cx="159.6" cy="241.3" r="4.1" fill="url(#h1)"/><circle cx="129.3" cy="281.8" r="3.9" fill="url(#h1)"/><circle cx="161.0" cy="285.7" r="3.8" fill="url(#h1)"/><circle cx="127.4" cy="294.6" r="3.2" fill="url(#h1)"/><circle cx="144.8" cy="285.7" r="3.1" fill="url(#h1)"/><circle cx="152.4" cy="268.4" r="3.9" fill="url(#h1)"/><circle cx="138.9" cy="235.7" r="3.1" fill="url(#h1)"/><circle cx="132.9" cy="238.3" r="3.2" fill="url(#h1)"/><circle cx="128.1" cy="325.0" r="3.1" fill="url(#h1)"/><circle cx="29.5" cy="262.5" r="3.5" fill="url(#h1)"/><circle cx="42.0" cy="243.6" r="3.9" fill="url(#h1)"/><circle cx="163.5" cy="223.1" r="3.2" fill="url(#h1)"/><circle cx="145.9" cy="320.0" r="3.5" fill="url(#h1)"/><circle cx="98.1" cy="377.2" r="3.4" fill="url(#h1)"/><circle cx="41.3" cy="282.5" r="4.0" fill="url(#h1)"/><circle cx="92.2" cy="299.8" r="3.9" fill="url(#h1)"/><circle cx="94.2" cy="219.1" r="3.4" fill="url(#h1)"/><circle cx="171.0" cy="228.0" r="3.8" fill="url(#h1)"/><circle cx="152.3" cy="340.0" r="3.1" fill="url(#h1)"/><circle cx="99.1" cy="206.9" r="3.8" fill="url(#h1)"/><circle cx="142.2" cy="338.8" r="3.3" fill="url(#h1)"/><circle cx="147.3" cy="291.2" r="3.0" fill="url(#h1)"/><circle cx="143.6" cy="218.0" r="3.1" fill="url(#h1)"/><circle cx="178.6" cy="333.0" r="3.0" fill="url(#h1)"/><circle cx="59.4" cy="267.9" r="3.1" fill="url(#h1)"/><circle cx="79.9" cy="373.4" r="3.4" fill="url(#h1)"/><circle cx="142.2" cy="272.9" r="3.6" fill="url(#h1)"/><circle cx="174.5" cy="349.2" r="3.1" fill="url(#h1)"/><circle cx="169.8" cy="361.9" r="3.6" fill="url(#h1)"/><circle cx="31.5" cy="342.6" r="3.4" fill="url(#h1)"/><circle cx="146.0" cy="338.9" r="3.3" fill="url(#h1)"/><circle cx="115.1" cy="328.2" r="4.1" fill="url(#h1)"/><circle cx="130.4" cy="308.2" r="3.8" fill="url(#h1)"/><circle cx="112.3" cy="275.0" r="3.8" fill="url(#h1)"/><circle cx="69.5" cy="271.8" r="3.5" fill="url(#h1)"/><circle cx="163.4" cy="340.8" r="3.8" fill="url(#h1)"/><circle cx="200.7" cy="217.3" r="3.4" fill="url(#h1)"/><circle cx="191.5" cy="368.0" r="3.1" fill="url(#h1)"/><circle cx="101.3" cy="339.4" r="3.2" fill="url(#h1)"/><circle cx="130.6" cy="260.9" r="3.3" fill="url(#h1)"/><circle cx="198.6" cy="223.5" r="3.5" fill="url(#h1)"/><circle cx="62.0" cy="334.2" r="3.7" fill="url(#h1)"/><circle cx="40.9" cy="264.2" r="3.8" fill="url(#h1)"/><circle cx="175.6" cy="320.6" r="3.7" fill="url(#h1)"/><circle cx="167.2" cy="231.6" r="3.9" fill="url(#h1)"/><circle cx="154.2" cy="237.4" r="3.6" fill="url(#h1)"/><circle cx="104.9" cy="238.1" r="3.7" fill="url(#h1)"/><circle cx="173.1" cy="208.6" r="3.7" fill="url(#h1)"/><circle cx="124.3" cy="378.5" r="4.0" fill="url(#h1)"/><circle cx="199.4" cy="263.4" r="3.4" fill="url(#h1)"/><circle cx="34.4" cy="281.0" r="3.8" fill="url(#h1)"/><circle cx="179.1" cy="206.7" r="3.7" fill="url(#h1)"/><circle cx="88.5" cy="334.5" r="3.3" fill="url(#h1)"/><circle cx="31.9" cy="218.3" r="3.2" fill="url(#h1)"/><circle cx="121.0" cy="250.5" r="3.1" fill="url(#h1)"/><circle cx="167.1" cy="264.9" r="3.3" fill="url(#h1)"/><circle cx="111.8" cy="207.9" r="3.7" fill="url(#h1)"/><circle cx="133.0" cy="304.2" r="3.7" fill="url(#h1)"/><circle cx="91.7" cy="249.9" r="3.2" fill="url(#h1)"/><circle cx="80.8" cy="368.7" r="3.8" fill="url(#h1)"/><circle cx="97.2" cy="311.5" r="3.7" fill="url(#h1)"/><circle cx="164.6" cy="271.2" r="3.9" fill="url(#h1)"/><circle cx="79.3" cy="262.8" r="3.5" fill="url(#h1)"/><circle cx="153.9" cy="348.7" r="3.8" fill="url(#h1)"/><circle cx="162.5" cy="358.7" r="3.5" fill="url(#h1)"/><circle cx="142.7" cy="353.2" r="3.8" fill="url(#h1)"/><circle cx="109.9" cy="305.0" r="3.6" fill="url(#h1)"/><circle cx="190.8" cy="277.0" r="3.1" fill="url(#h1)"/><circle cx="85.9" cy="349.2" r="4.0" fill="url(#h1)"/><circle cx="149.1" cy="275.9" r="3.0" fill="url(#h1)"/><circle cx="100.0" cy="363.2" r="3.1" fill="url(#h1)"/><circle cx="93.4" cy="260.9" r="3.8" fill="url(#h1)"/><circle cx="143.7" cy="334.2" r="3.0" fill="url(#h1)"/><circle cx="129.6" cy="213.5" r="3.5" fill="url(#h1)"/><circle cx="141.2" cy="374.8" r="4.0" fill="url(#h1)"/><circle cx="80.2" cy="232.4" r="3.8" fill="url(#h1)"/><circle cx="30.5" cy="350.1" r="3.3" fill="url(#h1)"/><circle cx="167.0" cy="285.8" r="3.6" fill="url(#h1)"/><circle cx="78.7" cy="352.4" r="3.8" fill="url(#h1)"/><circle cx="48.0" cy="333.7" r="3.9" fill="url(#h1)"/><circle cx="55.2" cy="305.1" r="3.6" fill="url(#h1)"/><circle cx="161.9" cy="324.8" r="3.1" fill="url(#h1)"/><circle cx="186.7" cy="232.4" r="3.4" fill="url(#h1)"/><circle cx="121.2" cy="255.5" r="3.9" fill="url(#h1)"/><circle cx="160.1" cy="253.3" r="3.4" fill="url(#h1)"/><circle cx="146.9" cy="377.7" r="3.6" fill="url(#h1)"/><circle cx="187.2" cy="241.8" r="3.1" fill="url(#h1)"/><circle cx="181.3" cy="232.3" r="3.2" fill="url(#h1)"/><circle cx="127.5" cy="236.8" r="3.9" fill="url(#h1)"/><circle cx="163.0" cy="281.1" r="3.7" fill="url(#h1)"/><circle cx="120.9" cy="323.8" r="3.1" fill="url(#h1)"/><circle cx="114.9" cy="336.8" r="3.9" fill="url(#h1)"/><circle cx="111.5" cy="342.9" r="3.3" fill="url(#h1)"/><circle cx="130.9" cy="350.3" r="3.9" fill="url(#h1)"/><circle cx="91.0" cy="239.4" r="3.9" fill="url(#h1)"/><circle cx="77.7" cy="325.5" r="3.2" fill="url(#h1)"/><circle cx="114.7" cy="261.6" r="3.3" fill="url(#h1)"/><circle cx="124.1" cy="311.8" r="3.8" fill="url(#h1)"/><circle cx="95.7" cy="287.5" r="3.8" fill="url(#h1)"/><circle cx="61.0" cy="342.3" r="3.9" fill="url(#h1)"/><circle cx="188.3" cy="319.7" r="3.1" fill="url(#h1)"/><circle cx="171.1" cy="258.2" r="3.9" fill="url(#h1)"/><circle cx="72.0" cy="373.0" r="4.0" fill="url(#h1)"/><circle cx="102.2" cy="260.0" r="3.4" fill="url(#h1)"/><circle cx="92.0" cy="291.7" r="3.0" fill="url(#h2)"/><circle cx="62.1" cy="377.0" r="3.1" fill="url(#h2)"/><circle cx="61.5" cy="214.0" r="3.5" fill="url(#h2)"/><circle cx="86.4" cy="311.4" r="3.4" fill="url(#h2)"/><circle cx="108.8" cy="240.4" r="3.9" fill="url(#h2)"/><circle cx="119.3" cy="220.2" r="3.9" fill="url(#h2)"/><circle cx="136.3" cy="212.9" r="4.1" fill="url(#h2)"/><circle cx="200.6" cy="230.8" r="3.5" fill="url(#h2)"/><circle cx="51.8" cy="282.0" r="3.9" fill="url(#h2)"/><circle cx="195.6" cy="287.2" r="4.0" fill="url(#h2)"/><circle cx="166.9" cy="373.4" r="3.7" fill="url(#h2)"/><circle cx="107.0" cy="339.0" r="3.4" fill="url(#h2)"/><circle cx="72.3" cy="242.1" r="3.5" fill="url(#h2)"/><circle cx="27.2" cy="306.0" r="3.7" fill="url(#h2)"/><circle cx="25.9" cy="324.6" r="3.3" fill="url(#h2)"/><circle cx="118.7" cy="217.0" r="3.4" fill="url(#h2)"/><circle cx="89.1" cy="283.3" r="3.9" fill="url(#h2)"/><circle cx="34.0" cy="299.1" r="4.0" fill="url(#h2)"/><circle cx="125.0" cy="221.6" r="3.8" fill="url(#h2)"/><circle cx="50.2" cy="346.2" r="4.0" fill="url(#h2)"/><circle cx="28.4" cy="297.0" r="3.0" fill="url(#h2)"/><circle cx="73.5" cy="334.4" r="3.2" fill="url(#h2)"/><circle cx="64.5" cy="330.3" r="3.4" fill="url(#h2)"/><circle cx="102.3" cy="353.0" r="3.2" fill="url(#h2)"/><circle cx="52.1" cy="344.0" r="3.4" fill="url(#h2)"/><circle cx="179.2" cy="306.3" r="3.7" fill="url(#h2)"/><circle cx="117.4" cy="274.4" r="4.1" fill="url(#h2)"/><circle cx="50.8" cy="275.1" r="3.6" fill="url(#h2)"/><circle cx="65.6" cy="208.7" r="4.0" fill="url(#h2)"/><circle cx="38.9" cy="296.2" r="3.7" fill="url(#h2)"/><circle cx="83.8" cy="313.6" r="3.5" fill="url(#h2)"/><circle cx="97.1" cy="257.8" r="3.5" fill="url(#h2)"/><circle cx="107.4" cy="231.7" r="3.0" fill="url(#h2)"/><circle cx="79.8" cy="290.4" r="4.1" fill="url(#h2)"/><circle cx="66.6" cy="333.7" r="3.4" fill="url(#h2)"/><circle cx="76.1" cy="251.0" r="3.2" fill="url(#h2)"/><circle cx="54.1" cy="256.7" r="3.9" fill="url(#h2)"/><circle cx="197.0" cy="231.8" r="3.9" fill="url(#h2)"/><circle cx="54.7" cy="295.2" r="3.3" fill="url(#h2)"/><circle cx="121.9" cy="374.4" r="3.1" fill="url(#h2)"/><circle cx="126.1" cy="246.4" r="3.3" fill="url(#h2)"/><circle cx="122.7" cy="316.5" r="3.0" fill="url(#h2)"/><circle cx="39.5" cy="222.8" r="3.0" fill="url(#h2)"/><circle cx="163.0" cy="261.1" r="3.0" fill="url(#h2)"/><circle cx="192.0" cy="300.3" r="3.5" fill="url(#h2)"/><circle cx="93.9" cy="252.3" r="4.0" fill="url(#h2)"/><circle cx="130.9" cy="378.0" r="3.5" fill="url(#h2)"/><circle cx="105.8" cy="368.5" r="3.7" fill="url(#h2)"/><circle cx="63.5" cy="223.8" r="3.9" fill="url(#h2)"/><circle cx="110.2" cy="332.0" r="3.1" fill="url(#h2)"/><circle cx="170.1" cy="320.1" r="3.8" fill="url(#h2)"/><circle cx="108.3" cy="378.4" r="4.0" fill="url(#h2)"/><circle cx="64.7" cy="228.9" r="4.0" fill="url(#h2)"/><circle cx="196.6" cy="226.8" r="3.2" fill="url(#h2)"/><circle cx="108.7" cy="299.1" r="3.8" fill="url(#h2)"/><circle cx="66.7" cy="306.1" r="4.0" fill="url(#h2)"/><circle cx="58.6" cy="358.2" r="3.1" fill="url(#h2)"/><circle cx="58.4" cy="250.6" r="3.8" fill="url(#h2)"/><circle cx="25.6" cy="314.9" r="3.6" fill="url(#h2)"/><circle cx="167.7" cy="355.9" r="3.8" fill="url(#h2)"/><circle cx="46.1" cy="285.4" r="3.1" fill="url(#h2)"/><circle cx="49.1" cy="247.5" r="3.6" fill="url(#h2)"/><circle cx="150.3" cy="334.1" r="3.7" fill="url(#h2)"/><circle cx="124.7" cy="359.0" r="3.8" fill="url(#h2)"/><circle cx="177.6" cy="267.0" r="4.1" fill="url(#h2)"/><circle cx="95.5" cy="355.1" r="4.0" fill="url(#h2)"/><circle cx="166.5" cy="344.3" r="3.9" fill="url(#h2)"/><circle cx="138.1" cy="343.9" r="3.1" fill="url(#h2)"/><circle cx="107.7" cy="349.9" r="3.4" fill="url(#h2)"/><circle cx="60.7" cy="295.0" r="4.0" fill="url(#h2)"/><circle cx="196.7" cy="333.3" r="3.1" fill="url(#h2)"/><circle cx="58.2" cy="280.8" r="3.8" fill="url(#h2)"/><circle cx="183.9" cy="355.0" r="3.6" fill="url(#h2)"/><circle cx="119.8" cy="358.3" r="3.4" fill="url(#h2)"/><circle cx="73.6" cy="260.9" r="3.8" fill="url(#h2)"/><circle cx="44.2" cy="208.1" r="4.0" fill="url(#h2)"/><circle cx="93.1" cy="365.4" r="3.4" fill="url(#h2)"/><circle cx="192.9" cy="296.3" r="3.3" fill="url(#h2)"/><circle cx="177.7" cy="227.8" r="4.0" fill="url(#h2)"/><circle cx="114.9" cy="335.8" r="3.4" fill="url(#h2)"/><circle cx="41.1" cy="292.2" r="3.5" fill="url(#h2)"/><circle cx="86.3" cy="217.8" r="4.0" fill="url(#h2)"/><circle cx="25.5" cy="276.4" r="4.1" fill="url(#h2)"/><circle cx="81.0" cy="353.7" r="3.8" fill="url(#h2)"/><circle cx="157.8" cy="348.8" r="3.8" fill="url(#h2)"/><circle cx="69.0" cy="376.6" r="3.9" fill="url(#h2)"/><circle cx="37.9" cy="283.9" r="3.5" fill="url(#h2)"/><circle cx="157.0" cy="308.9" r="3.9" fill="url(#h2)"/><circle cx="163.1" cy="295.1" r="3.4" fill="url(#h2)"/><circle cx="30.6" cy="240.3" r="3.9" fill="url(#h2)"/><circle cx="182.8" cy="358.1" r="3.1" fill="url(#h2)"/><circle cx="41.1" cy="340.4" r="4.1" fill="url(#h2)"/><circle cx="164.3" cy="300.3" r="3.5" fill="url(#h2)"/><circle cx="143.0" cy="348.8" r="3.5" fill="url(#h2)"/><circle cx="102.1" cy="290.9" r="3.0" fill="url(#h2)"/><circle cx="35.9" cy="212.9" r="3.4" fill="url(#h2)"/><circle cx="30.0" cy="212.1" r="3.3" fill="url(#h2)"/><circle cx="87.9" cy="276.3" r="3.2" fill="url(#h2)"/><circle cx="196.5" cy="257.1" r="3.3" fill="url(#h2)"/><circle cx="69.3" cy="223.0" r="3.9" fill="url(#h2)"/><circle cx="118.4" cy="213.4" r="3.7" fill="url(#h2)"/><circle cx="71.1" cy="353.6" r="3.7" fill="url(#h2)"/><circle cx="135.7" cy="233.0" r="3.3" fill="url(#h2)"/><circle cx="152.6" cy="261.0" r="4.0" fill="url(#h2)"/><circle cx="169.1" cy="211.5" r="3.2" fill="url(#h2)"/><circle cx="75.9" cy="330.6" r="3.6" fill="url(#h2)"/><circle cx="147.2" cy="299.1" r="3.9" fill="url(#h2)"/><circle cx="122.4" cy="275.2" r="3.6" fill="url(#h2)"/><circle cx="197.7" cy="360.0" r="3.9" fill="url(#h2)"/><circle cx="153.6" cy="301.0" r="3.3" fill="url(#h2)"/><circle cx="104.9" cy="251.2" r="3.4" fill="url(#h2)"/><circle cx="129.4" cy="304.6" r="3.6" fill="url(#h2)"/><circle cx="132.3" cy="266.4" r="3.1" fill="url(#h2)"/><circle cx="99.3" cy="358.6" r="3.0" fill="url(#h2)"/><circle cx="69.0" cy="290.5" r="3.4" fill="url(#h2)"/><circle cx="85.1" cy="292.5" r="3.4" fill="url(#h2)"/><circle cx="88.7" cy="228.3" r="3.2" fill="url(#h2)"/><circle cx="169.9" cy="271.0" r="3.1" fill="url(#h2)"/><circle cx="167.6" cy="239.7" r="3.8" fill="url(#h2)"/><circle cx="53.0" cy="367.2" r="3.0" fill="url(#h2)"/><circle cx="125.9" cy="333.6" r="4.1" fill="url(#h2)"/><circle cx="82.8" cy="373.5" r="3.3" fill="url(#h2)"/><circle cx="67.9" cy="348.8" r="3.1" fill="url(#h2)"/><circle cx="59.7" cy="327.5" r="3.5" fill="url(#h2)"/><circle cx="180.6" cy="339.5" r="3.3" fill="url(#h2)"/><circle cx="135.1" cy="358.7" r="3.8" fill="url(#h2)"/><circle cx="123.7" cy="271.3" r="3.1" fill="url(#h2)"/><circle cx="34.6" cy="359.6" r="3.4" fill="url(#h2)"/><circle cx="82.3" cy="334.9" r="3.1" fill="url(#h2)"/><circle cx="125.7" cy="240.5" r="3.2" fill="url(#h2)"/><circle cx="133.6" cy="363.6" r="4.0" fill="url(#h2)"/><circle cx="195.4" cy="344.3" r="3.8" fill="url(#h2)"/><circle cx="165.0" cy="250.3" r="3.9" fill="url(#h2)"/><circle cx="174.8" cy="367.8" r="3.5" fill="url(#h2)"/><circle cx="120.1" cy="300.2" r="3.1" fill="url(#h2)"/><circle cx="138.9" cy="363.0" r="3.7" fill="url(#h2)"/><circle cx="182.4" cy="311.4" r="4.1" fill="url(#h2)"/><circle cx="127.7" cy="275.4" r="3.5" fill="url(#h2)"/><circle cx="73.2" cy="254.4" r="3.8" fill="url(#h2)"/><circle cx="175.8" cy="300.2" r="3.9" fill="url(#h2)"/><circle cx="68.6" cy="284.7" r="3.6" fill="url(#h2)"/><circle cx="154.5" cy="363.2" r="3.0" fill="url(#h2)"/><circle cx="168.8" cy="329.8" r="3.5" fill="url(#h2)"/><circle cx="113.1" cy="222.6" r="3.1" fill="url(#h2)"/><circle cx="27.7" cy="343.1" r="3.6" fill="url(#h2)"/><circle cx="83.9" cy="359.9" r="3.6" fill="url(#h2)"/><circle cx="68.4" cy="274.6" r="3.2" fill="url(#h2)"/><circle cx="178.6" cy="355.8" r="3.3" fill="url(#h2)"/><circle cx="183.9" cy="343.6" r="3.7" fill="url(#h2)"/><circle cx="76.7" cy="316.0" r="3.8" fill="url(#h2)"/><circle cx="123.6" cy="263.1" r="3.5" fill="url(#h2)"/><circle cx="163.9" cy="232.7" r="3.6" fill="url(#h2)"/><circle cx="53.2" cy="333.8" r="3.9" fill="url(#h2)"/><circle cx="45.4" cy="318.5" r="3.3" fill="url(#h2)"/><circle cx="107.4" cy="223.5" r="3.0" fill="url(#h2)"/><circle cx="111.0" cy="296.3" r="3.6" fill="url(#h2)"/><circle cx="62.3" cy="339.5" r="3.3" fill="url(#h2)"/><circle cx="197.1" cy="319.2" r="3.4" fill="url(#h2)"/><circle cx="102.3" cy="231.6" r="4.1" fill="url(#h2)"/><circle cx="71.7" cy="376.1" r="3.3" fill="url(#h2)"/><circle cx="124.1" cy="290.8" r="4.0" fill="url(#h2)"/><circle cx="66.5" cy="236.7" r="3.3" fill="url(#h2)"/><circle cx="189.7" cy="227.6" r="3.1" fill="url(#h2)"/><circle cx="60.0" cy="305.6" r="3.7" fill="url(#h2)"/><circle cx="92.1" cy="222.2" r="3.6" fill="url(#h2)"/><circle cx="145.6" cy="248.2" r="3.0" fill="url(#h2)"/><circle cx="42.5" cy="337.4" r="3.9" fill="url(#h2)"/><circle cx="37.7" cy="207.6" r="4.0" fill="url(#h2)"/><circle cx="43.4" cy="304.7" r="3.3" fill="url(#h2)"/><circle cx="41.3" cy="212.5" r="3.6" fill="url(#h2)"/><circle cx="164.3" cy="291.1" r="3.5" fill="url(#h2)"/><circle cx="76.0" cy="360.4" r="3.6" fill="url(#h2)"/><circle cx="105.4" cy="294.6" r="3.5" fill="url(#h2)"/><circle cx="59.1" cy="320.3" r="3.1" fill="url(#h2)"/><circle cx="97.1" cy="338.9" r="4.0" fill="url(#h2)"/><circle cx="133.0" cy="207.3" r="4.1" fill="url(#h2)"/><circle cx="78.0" cy="265.6" r="3.3" fill="url(#h2)"/><circle cx="121.1" cy="364.8" r="3.6" fill="url(#h2)"/><circle cx="76.8" cy="304.2" r="3.9" fill="url(#h2)"/><circle cx="52.7" cy="358.7" r="3.2" fill="url(#h2)"/><circle cx="104.4" cy="220.1" r="3.8" fill="url(#h2)"/><circle cx="98.0" cy="321.7" r="3.6" fill="url(#h2)"/><circle cx="184.7" cy="357.3" r="4.1" fill="url(#h2)"/><circle cx="152.9" cy="271.2" r="3.4" fill="url(#h2)"/><circle cx="169.3" cy="310.8" r="3.7" fill="url(#h2)"/><circle cx="36.2" cy="377.3" r="3.5" fill="url(#h2)"/><circle cx="97.9" cy="348.6" r="3.1" fill="url(#h2)"/><circle cx="77.0" cy="209.0" r="3.0" fill="url(#h2)"/><circle cx="43.9" cy="256.3" r="3.2" fill="url(#h2)"/><circle cx="142.5" cy="369.1" r="3.6" fill="url(#h2)"/><circle cx="115.9" cy="324.5" r="3.5" fill="url(#h2)"/><circle cx="67.7" cy="340.0" r="3.8" fill="url(#h2)"/><circle cx="155.3" cy="323.3" r="3.7" fill="url(#h2)"/><circle cx="116.3" cy="306.4" r="3.1" fill="url(#h2)"/><circle cx="138.1" cy="227.9" r="3.1" fill="url(#h2)"/><circle cx="158.0" cy="359.6" r="3.3" fill="url(#h2)"/><circle cx="194.6" cy="372.6" r="4.1" fill="url(#h2)"/><circle cx="112.0" cy="255.0" r="3.6" fill="url(#h2)"/><circle cx="166.1" cy="379.2" r="3.5" fill="url(#h2)"/><circle cx="91.8" cy="232.1" r="4.0" fill="url(#h2)"/><circle cx="135.9" cy="305.1" r="4.1" fill="url(#h3)"/><circle cx="152.7" cy="331.1" r="3.2" fill="url(#h3)"/><circle cx="104.0" cy="363.9" r="3.2" fill="url(#h3)"/><circle cx="61.1" cy="208.0" r="3.1" fill="url(#h3)"/><circle cx="64.7" cy="281.5" r="4.1" fill="url(#h3)"/><circle cx="144.0" cy="264.9" r="3.1" fill="url(#h3)"/><circle cx="100.5" cy="343.2" r="3.5" fill="url(#h3)"/><circle cx="136.2" cy="370.1" r="3.3" fill="url(#h3)"/><circle cx="166.3" cy="217.7" r="3.8" fill="url(#h3)"/><circle cx="108.4" cy="359.8" r="3.3" fill="url(#h3)"/><circle cx="114.7" cy="291.0" r="3.6" fill="url(#h3)"/><circle cx="138.1" cy="250.8" r="3.5" fill="url(#h3)"/><circle cx="198.0" cy="281.0" r="3.3" fill="url(#h3)"/><circle cx="72.5" cy="208.0" r="4.0" fill="url(#h3)"/><circle cx="108.6" cy="279.5" r="3.3" fill="url(#h3)"/><circle cx="182.0" cy="364.7" r="3.0" fill="url(#h3)"/><circle cx="80.7" cy="226.8" r="3.4" fill="url(#h3)"/><circle cx="34.9" cy="286.7" r="3.2" fill="url(#h3)"/><circle cx="37.3" cy="320.0" r="3.7" fill="url(#h3)"/><circle cx="29.3" cy="376.8" r="3.5" fill="url(#h3)"/><circle cx="115.1" cy="314.5" r="3.6" fill="url(#h3)"/><circle cx="173.6" cy="222.5" r="3.5" fill="url(#h3)"/><circle cx="148.7" cy="367.5" r="3.9" fill="url(#h3)"/><circle cx="164.4" cy="241.5" r="3.2" fill="url(#h3)"/><circle cx="121.6" cy="293.4" r="4.1" fill="url(#h3)"/><circle cx="97.9" cy="335.3" r="3.1" fill="url(#h3)"/><circle cx="112.6" cy="299.1" r="4.1" fill="url(#h3)"/><circle cx="37.9" cy="277.6" r="3.3" fill="url(#h3)"/><circle cx="78.1" cy="276.5" r="3.4" fill="url(#h3)"/><circle cx="134.4" cy="271.5" r="3.5" fill="url(#h3)"/><circle cx="184.9" cy="334.2" r="3.7" fill="url(#h3)"/><circle cx="154.0" cy="319.3" r="3.3" fill="url(#h3)"/><circle cx="28.9" cy="299.9" r="3.1" fill="url(#h3)"/><circle cx="140.1" cy="264.9" r="3.2" fill="url(#h3)"/><circle cx="192.5" cy="272.3" r="3.5" fill="url(#h3)"/><circle cx="43.3" cy="314.7" r="3.9" fill="url(#h3)"/><circle cx="130.7" cy="338.7" r="3.7" fill="url(#h3)"/><circle cx="99.1" cy="284.5" r="3.8" fill="url(#h3)"/><circle cx="31.1" cy="275.1" r="4.0" fill="url(#h3)"/><circle cx="158.2" cy="279.6" r="3.3" fill="url(#h3)"/><circle cx="38.9" cy="247.2" r="3.6" fill="url(#h3)"/><circle cx="124.9" cy="367.3" r="4.0" fill="url(#h3)"/><circle cx="52.5" cy="328.2" r="3.6" fill="url(#h3)"/><circle cx="183.0" cy="290.4" r="3.0" fill="url(#h3)"/><circle cx="59.9" cy="364.7" r="3.5" fill="url(#h3)"/><circle cx="105.8" cy="373.9" r="3.6" fill="url(#h3)"/><circle cx="83.2" cy="237.8" r="3.3" fill="url(#h3)"/><circle cx="198.8" cy="295.3" r="3.3" fill="url(#h3)"/><circle cx="102.8" cy="271.3" r="3.0" fill="url(#h3)"/><circle cx="170.2" cy="301.2" r="3.0" fill="url(#h3)"/><circle cx="183.7" cy="275.6" r="3.2" fill="url(#h3)"/><circle cx="166.3" cy="213.1" r="3.5" fill="url(#h3)"/><circle cx="113.5" cy="366.5" r="3.2" fill="url(#h3)"/><circle cx="134.5" cy="314.4" r="3.8" fill="url(#h3)"/><circle cx="82.8" cy="295.4" r="3.9" fill="url(#h3)"/><circle cx="49.1" cy="299.9" r="3.7" fill="url(#h3)"/><circle cx="177.6" cy="270.5" r="3.2" fill="url(#h3)"/><circle cx="164.2" cy="319.2" r="4.0" fill="url(#h3)"/><circle cx="60.8" cy="315.0" r="3.2" fill="url(#h3)"/><circle cx="179.9" cy="212.3" r="3.7" fill="url(#h3)"/><circle cx="150.4" cy="325.0" r="4.0" fill="url(#h3)"/><circle cx="68.6" cy="234.6" r="3.9" fill="url(#h3)"/><circle cx="67.1" cy="300.3" r="3.2" fill="url(#h3)"/><circle cx="146.5" cy="296.1" r="3.3" fill="url(#h3)"/><circle cx="137.6" cy="378.3" r="3.3" fill="url(#h3)"/><circle cx="109.4" cy="267.8" r="3.1" fill="url(#h3)"/><circle cx="131.6" cy="351.2" r="3.0" fill="url(#h3)"/><circle cx="75.8" cy="335.1" r="3.4" fill="url(#h3)"/><circle cx="105.4" cy="255.3" r="3.6" fill="url(#h3)"/><circle cx="104.6" cy="211.1" r="4.1" fill="url(#h3)"/><circle cx="34.2" cy="368.1" r="3.6" fill="url(#h3)"/><circle cx="34.3" cy="308.1" r="3.8" fill="url(#h3)"/><circle cx="119.8" cy="232.2" r="3.2" fill="url(#h3)"/><circle cx="48.3" cy="368.7" r="3.7" fill="url(#h3)"/><circle cx="34.8" cy="290.0" r="3.8" fill="url(#h3)"/><circle cx="113.3" cy="269.4" r="3.1" fill="url(#h3)"/><circle cx="175.4" cy="241.7" r="3.7" fill="url(#h3)"/><circle cx="84.6" cy="367.6" r="4.0" fill="url(#h3)"/><circle cx="32.2" cy="257.3" r="3.8" fill="url(#h3)"/><circle cx="48.7" cy="338.9" r="3.5" fill="url(#h3)"/><circle cx="141.4" cy="357.9" r="3.9" fill="url(#h3)"/><circle cx="168.0" cy="232.9" r="3.4" fill="url(#h3)"/><circle cx="201.1" cy="378.9" r="3.8" fill="url(#h3)"/><circle cx="84.8" cy="260.9" r="3.2" fill="url(#h3)"/><circle cx="169.7" cy="280.9" r="3.9" fill="url(#h3)"/><circle cx="190.9" cy="251.7" r="3.3" fill="url(#h3)"/><circle cx="200.6" cy="257.1" r="3.1" fill="url(#h3)"/><circle cx="176.4" cy="277.1" r="4.0" fill="url(#h3)"/><circle cx="187.1" cy="271.8" r="3.5" fill="url(#h3)"/><circle cx="65.1" cy="242.4" r="4.0" fill="url(#h3)"/><circle cx="66.6" cy="252.7" r="3.3" fill="url(#h3)"/><circle cx="70.5" cy="314.6" r="3.7" fill="url(#h3)"/><circle cx="184.2" cy="245.2" r="3.7" fill="url(#h3)"/><circle cx="197.8" cy="214.3" r="3.2" fill="url(#h3)"/><circle cx="49.8" cy="218.5" r="3.4" fill="url(#h3)"/><circle cx="74.8" cy="318.4" r="3.6" fill="url(#h3)"/><circle cx="154.3" cy="371.6" r="3.7" fill="url(#h3)"/><circle cx="29.1" cy="273.6" r="3.5" fill="url(#h3)"/><circle cx="113.8" cy="280.5" r="3.4" fill="url(#h3)"/><circle cx="155.5" cy="354.3" r="3.2" fill="url(#h3)"/><circle cx="163.6" cy="311.1" r="3.8" fill="url(#h3)"/><circle cx="72.9" cy="348.2" r="3.4" fill="url(#h3)"/><circle cx="87.9" cy="342.3" r="3.5" fill="url(#h3)"/><circle cx="46.7" cy="250.6" r="3.7" fill="url(#h3)"/><circle cx="181.8" cy="367.7" r="3.6" fill="url(#h3)"/><circle cx="72.0" cy="226.3" r="3.7" fill="url(#h3)"/><circle cx="59.0" cy="215.0" r="3.7" fill="url(#h3)"/><circle cx="33.0" cy="334.2" r="3.3" fill="url(#h3)"/><circle cx="78.8" cy="285.7" r="3.2" fill="url(#h3)"/><circle cx="167.9" cy="333.1" r="3.3" fill="url(#h3)"/><circle cx="33.7" cy="207.6" r="3.6" fill="url(#h3)"/><circle cx="99.5" cy="322.7" r="3.1" fill="url(#h3)"/><circle cx="58.2" cy="221.2" r="3.4" fill="url(#h3)"/><circle cx="110.8" cy="236.7" r="3.8" fill="url(#h3)"/><circle cx="178.5" cy="247.2" r="3.2" fill="url(#h3)"/><circle cx="115.1" cy="295.4" r="3.2" fill="url(#h3)"/><circle cx="158.6" cy="223.2" r="3.7" fill="url(#h3)"/><circle cx="74.7" cy="308.2" r="3.5" fill="url(#h3)"/><circle cx="52.8" cy="291.2" r="4.0" fill="url(#h3)"/><circle cx="87.4" cy="307.5" r="3.5" fill="url(#h3)"/><circle cx="146.6" cy="308.7" r="3.7" fill="url(#h3)"/><circle cx="152.2" cy="368.8" r="4.0" fill="url(#h3)"/><circle cx="64.7" cy="252.5" r="3.0" fill="url(#h3)"/><circle cx="99.5" cy="276.5" r="3.4" fill="url(#h3)"/><circle cx="190.6" cy="372.5" r="3.5" fill="url(#h3)"/><circle cx="87.5" cy="246.5" r="3.9" fill="url(#h3)"/><circle cx="86.0" cy="233.9" r="3.6" fill="url(#h3)"/><circle cx="124.8" cy="212.8" r="3.7" fill="url(#h3)"/><circle cx="73.5" cy="360.3" r="3.0" fill="url(#h3)"/><circle cx="128.5" cy="255.5" r="3.9" fill="url(#h3)"/><circle cx="26.8" cy="218.9" r="3.3" fill="url(#h3)"/><circle cx="122.4" cy="218.4" r="4.1" fill="url(#h3)"/><circle cx="44.2" cy="276.4" r="3.4" fill="url(#h3)"/><circle cx="37.1" cy="305.0" r="3.5" fill="url(#h3)"/><circle cx="170.3" cy="359.3" r="4.0" fill="url(#h3)"/><circle cx="44.7" cy="224.7" r="3.3" fill="url(#h3)"/><circle cx="195.8" cy="277.4" r="3.6" fill="url(#h3)"/><circle cx="192.1" cy="360.0" r="3.7" fill="url(#h3)"/><circle cx="105.6" cy="274.9" r="4.1" fill="url(#h3)"/><circle cx="159.9" cy="213.6" r="3.4" fill="url(#h3)"/><circle cx="125.6" cy="348.1" r="3.1" fill="url(#h3)"/><circle cx="62.2" cy="261.0" r="3.4" fill="url(#h3)"/><circle cx="68.0" cy="368.0" r="3.8" fill="url(#h3)"/><circle cx="142.7" cy="329.7" r="3.6" fill="url(#h3)"/><circle cx="111.5" cy="352.0" r="4.0" fill="url(#h3)"/><circle cx="147.7" cy="286.3" r="3.7" fill="url(#h3)"/><circle cx="46.3" cy="309.6" r="3.4" fill="url(#h3)"/><circle cx="132.7" cy="302.3" r="3.5" fill="url(#h3)"/><circle cx="63.4" cy="272.3" r="3.4" fill="url(#h3)"/><circle cx="92.7" cy="323.0" r="4.0" fill="url(#h3)"/><circle cx="83.1" cy="217.5" r="3.9" fill="url(#h3)"/><circle cx="194.2" cy="354.5" r="3.2" fill="url(#h3)"/><circle cx="128.2" cy="209.3" r="3.3" fill="url(#h3)"/><circle cx="130.8" cy="229.7" r="3.0" fill="url(#h3)"/><circle cx="141.4" cy="211.6" r="3.9" fill="url(#h3)"/><circle cx="127.6" cy="285.6" r="3.3" fill="url(#h3)"/><circle cx="181.9" cy="290.7" r="3.3" fill="url(#h3)"/><circle cx="80.5" cy="378.7" r="3.4" fill="url(#h3)"/><circle cx="31.1" cy="314.0" r="3.3" fill="url(#h3)"/><circle cx="195.2" cy="368.7" r="3.4" fill="url(#h3)"/><circle cx="104.7" cy="345.7" r="3.9" fill="url(#h3)"/><circle cx="64.7" cy="346.8" r="3.3" fill="url(#h3)"/><circle cx="194.0" cy="237.0" r="3.6" fill="url(#h3)"/><circle cx="188.4" cy="256.4" r="3.6" fill="url(#h3)"/><circle cx="38.9" cy="226.9" r="3.6" fill="url(#h3)"/><circle cx="34.8" cy="339.3" r="4.0" fill="url(#h3)"/><circle cx="32.4" cy="356.0" r="3.9" fill="url(#h3)"/><circle cx="119.8" cy="281.2" r="3.2" fill="url(#h3)"/><circle cx="34.2" cy="265.5" r="4.0" fill="url(#h3)"/><circle cx="187.9" cy="302.5" r="3.9" fill="url(#h3)"/><circle cx="174.8" cy="290.9" r="4.0" fill="url(#h3)"/><circle cx="103.6" cy="208.2" r="3.5" fill="url(#h3)"/><circle cx="130.8" cy="274.9" r="4.1" fill="url(#h3)"/><circle cx="121.7" cy="342.8" r="3.5" fill="url(#h3)"/><circle cx="33.5" cy="237.7" r="3.9" fill="url(#h3)"/><circle cx="133.4" cy="245.5" r="3.7" fill="url(#h3)"/><circle cx="24.9" cy="353.8" r="3.9" fill="url(#h3)"/><circle cx="45.6" cy="232.7" r="3.2" fill="url(#h3)"/><circle cx="118.3" cy="377.9" r="4.0" fill="url(#h3)"/><circle cx="92.8" cy="296.5" r="4.0" fill="url(#h3)"/><circle cx="44.3" cy="229.0" r="3.1" fill="url(#h3)"/><circle cx="194.5" cy="209.1" r="3.8" fill="url(#h3)"/><circle cx="56.5" cy="226.2" r="4.0" fill="url(#h3)"/><circle cx="101.6" cy="242.9" r="3.4" fill="url(#h3)"/><circle cx="97.7" cy="357.7" r="3.3" fill="url(#h3)"/><circle cx="31.7" cy="324.1" r="3.6" fill="url(#h3)"/><circle cx="28.5" cy="290.9" r="3.1" fill="url(#h3)"/><circle cx="35.6" cy="216.3" r="3.7" fill="url(#h3)"/><circle cx="151.1" cy="344.0" r="3.9" fill="url(#h3)"/><circle cx="34.7" cy="242.3" r="3.5" fill="url(#h3)"/><circle cx="170.1" cy="347.5" r="4.0" fill="url(#h3)"/><circle cx="119.6" cy="368.8" r="3.5" fill="url(#h3)"/><circle cx="54.1" cy="237.2" r="3.0" fill="url(#h3)"/><circle cx="29.4" cy="368.6" r="3.8" fill="url(#h3)"/><circle cx="51.8" cy="213.7" r="3.4" fill="url(#h3)"/><circle cx="74.1" cy="281.6" r="4.0" fill="url(#h3)"/><circle cx="192.4" cy="309.9" r="3.9" fill="url(#h3)"/><circle cx="154.9" cy="275.2" r="3.2" fill="url(#h3)"/><circle cx="88.1" cy="373.5" r="3.1" fill="url(#h3)"/><circle cx="68.0" cy="282.4" r="3.2" fill="url(#h3)"/><circle cx="179.3" cy="301.0" r="3.9" fill="url(#h3)"/><circle cx="78.1" cy="328.8" r="3.8" fill="url(#h3)"/><circle cx="98.0" cy="316.0" r="3.1" fill="url(#h3)"/><circle cx="129.4" cy="272.4" r="3.8" fill="url(#h3)"/><circle cx="94.1" cy="333.2" r="3.4" fill="url(#h3)"/><circle cx="114.2" cy="352.3" r="3.7" fill="url(#h3)"/><circle cx="200.9" cy="314.9" r="3.2" fill="url(#h3)"/><circle cx="93.8" cy="254.0" r="3.0" fill="url(#h3)"/><circle cx="139.2" cy="208.5" r="3.6" fill="url(#h3)"/><circle cx="126.0" cy="232.9" r="4.1" fill="url(#h3)"/><circle cx="66.3" cy="325.5" r="3.0" fill="url(#h3)"/><circle cx="156.5" cy="218.2" r="4.1" fill="url(#h3)"/><circle cx="132.7" cy="227.9" r="3.4" fill="url(#h3)"/><circle cx="139.0" cy="324.7" r="3.4" fill="url(#h3)"/><circle cx="196.0" cy="271.3" r="3.7" fill="url(#h3)"/><circle cx="47.8" cy="281.9" r="3.8" fill="url(#h3)"/><circle cx="120.4" cy="265.3" r="3.4" fill="url(#h3)"/><circle cx="40.7" cy="347.4" r="3.4" fill="url(#h3)"/><circle cx="133.4" cy="218.1" r="3.6" fill="url(#h3)"/><circle cx="92.1" cy="318.9" r="3.1" fill="url(#h3)"/><circle cx="55.5" cy="313.7" r="3.3" fill="url(#h3)"/><circle cx="143.9" cy="255.7" r="3.9" fill="url(#h3)"/><circle cx="109.6" cy="324.8" r="3.7" fill="url(#h3)"/><circle cx="98.4" cy="263.0" r="4.0" fill="url(#h3)"/><circle cx="192.1" cy="261.8" r="3.1" fill="url(#h3)"/><circle cx="184.4" cy="266.7" r="3.2" fill="url(#h3)"/><circle cx="88.8" cy="207.5" r="3.2" fill="url(#h3)"/><circle cx="168.3" cy="209.1" r="4.0" fill="url(#h3)"/><circle cx="31.0" cy="340.2" r="3.2" fill="url(#h3)"/><circle cx="155.3" cy="256.3" r="3.2" fill="url(#h3)"/><circle cx="136.2" cy="317.7" r="3.5" fill="url(#h4)"/><circle cx="116.7" cy="363.7" r="4.1" fill="url(#h4)"/><circle cx="128.9" cy="344.5" r="3.9" fill="url(#h4)"/><circle cx="54.8" cy="247.9" r="3.3" fill="url(#h4)"/><circle cx="134.1" cy="255.4" r="3.5" fill="url(#h4)"/><circle cx="123.7" cy="339.6" r="3.4" fill="url(#h4)"/><circle cx="136.5" cy="281.4" r="3.4" fill="url(#h4)"/><circle cx="109.8" cy="246.0" r="3.3" fill="url(#h4)"/><circle cx="169.2" cy="243.5" r="3.4" fill="url(#h4)"/><circle cx="161.6" cy="248.5" r="3.4" fill="url(#h4)"/><circle cx="119.4" cy="320.1" r="3.2" fill="url(#h4)"/><circle cx="46.9" cy="270.7" r="4.0" fill="url(#h4)"/><circle cx="115.3" cy="213.5" r="4.1" fill="url(#h4)"/><circle cx="80.3" cy="272.4" r="3.7" fill="url(#h4)"/><circle cx="107.0" cy="318.8" r="3.4" fill="url(#h4)"/><circle cx="43.7" cy="237.6" r="3.2" fill="url(#h4)"/><circle cx="81.1" cy="305.1" r="3.5" fill="url(#h4)"/><circle cx="161.9" cy="264.1" r="3.8" fill="url(#h4)"/><circle cx="91.3" cy="358.9" r="3.4" fill="url(#h4)"/><circle cx="90.9" cy="211.6" r="4.0" fill="url(#h4)"/><circle cx="170.2" cy="221.8" r="3.3" fill="url(#h4)"/><circle cx="66.3" cy="344.1" r="3.7" fill="url(#h4)"/><circle cx="80.0" cy="347.3" r="3.9" fill="url(#h4)"/><circle cx="186.0" cy="281.5" r="3.2" fill="url(#h4)"/><circle cx="130.6" cy="330.8" r="4.0" fill="url(#h4)"/><circle cx="72.7" cy="369.3" r="3.2" fill="url(#h4)"/><circle cx="95.7" cy="345.1" r="3.6" fill="url(#h4)"/><circle cx="144.9" cy="375.0" r="3.5" fill="url(#h4)"/><circle cx="139.7" cy="256.8" r="3.9" fill="url(#h4)"/><circle cx="183.2" cy="294.8" r="4.0" fill="url(#h4)"/><circle cx="166.8" cy="324.6" r="3.7" fill="url(#h4)"/><circle cx="130.9" cy="369.5" r="3.4" fill="url(#h4)"/><circle cx="44.7" cy="246.7" r="3.6" fill="url(#h4)"/><circle cx="53.4" cy="338.7" r="3.9" fill="url(#h4)"/><circle cx="193.2" cy="328.1" r="3.3" fill="url(#h4)"/><circle cx="123.3" cy="278.9" r="3.4" fill="url(#h4)"/><circle cx="147.0" cy="253.5" r="3.4" fill="url(#h4)"/><circle cx="176.7" cy="215.9" r="3.3" fill="url(#h4)"/><circle cx="168.7" cy="315.5" r="4.0" fill="url(#h4)"/><circle cx="153.7" cy="208.3" r="3.6" fill="url(#h4)"/><circle cx="92.5" cy="367.9" r="3.9" fill="url(#h4)"/><circle cx="180.6" cy="222.4" r="3.2" fill="url(#h4)"/><circle cx="47.0" cy="328.0" r="3.5" fill="url(#h4)"/><circle cx="56.0" cy="353.8" r="3.4" fill="url(#h4)"/><circle cx="27.2" cy="364.0" r="3.9" fill="url(#h4)"/><circle cx="159.7" cy="270.5" r="3.5" fill="url(#h4)"/><circle cx="186.3" cy="377.7" r="3.3" fill="url(#h4)"/><circle cx="50.3" cy="223.3" r="3.4" fill="url(#h4)"/><circle cx="181.6" cy="226.3" r="3.1" fill="url(#h4)"/><circle cx="132.7" cy="325.0" r="3.0" fill="url(#h4)"/><circle cx="45.9" cy="241.3" r="4.0" fill="url(#h4)"/><circle cx="43.8" cy="266.4" r="3.2" fill="url(#h4)"/><circle cx="29.2" cy="282.1" r="3.1" fill="url(#h4)"/><circle cx="99.1" cy="307.2" r="3.3" fill="url(#h4)"/><circle cx="171.9" cy="218.3" r="3.6" fill="url(#h4)"/><circle cx="170.8" cy="239.3" r="3.9" fill="url(#h4)"/><circle cx="43.9" cy="371.2" r="3.3" fill="url(#h4)"/><circle cx="177.0" cy="311.4" r="3.4" fill="url(#h4)"/><circle cx="134.7" cy="294.5" r="3.5" fill="url(#h4)"/><circle cx="75.3" cy="255.4" r="3.3" fill="url(#h4)"/><circle cx="180.0" cy="284.1" r="3.5" fill="url(#h4)"/><circle cx="153.7" cy="290.5" r="3.3" fill="url(#h4)"/><circle cx="178.3" cy="322.6" r="3.9" fill="url(#h4)"/><circle cx="140.7" cy="294.9" r="3.1" fill="url(#h4)"/><circle cx="49.6" cy="227.0" r="3.9" fill="url(#h4)"/><circle cx="119.0" cy="269.3" r="3.1" fill="url(#h4)"/><circle cx="176.3" cy="328.8" r="3.5" fill="url(#h4)"/><circle cx="59.8" cy="291.8" r="3.6" fill="url(#h4)"/><circle cx="171.3" cy="352.6" r="4.0" fill="url(#h4)"/><circle cx="91.9" cy="207.3" r="3.4" fill="url(#h4)"/><circle cx="122.3" cy="301.1" r="3.6" fill="url(#h4)"/><circle cx="157.4" cy="334.4" r="3.7" fill="url(#h4)"/><circle cx="183.1" cy="315.2" r="3.8" fill="url(#h4)"/><circle cx="51.7" cy="250.8" r="3.5" fill="url(#h4)"/><circle cx="29.4" cy="250.7" r="3.7" fill="url(#h4)"/><circle cx="46.9" cy="304.3" r="3.5" fill="url(#h4)"/><circle cx="114.8" cy="286.0" r="3.9" fill="url(#h4)"/><circle cx="56.9" cy="270.0" r="3.7" fill="url(#h4)"/><circle cx="43.4" cy="354.7" r="3.7" fill="url(#h4)"/><circle cx="196.4" cy="308.3" r="3.8" fill="url(#h4)"/><circle cx="38.5" cy="256.2" r="3.5" fill="url(#h4)"/><circle cx="137.1" cy="217.7" r="3.6" fill="url(#h4)"/><circle cx="28.4" cy="221.8" r="3.7" fill="url(#h4)"/><circle cx="102.0" cy="330.1" r="3.5" fill="url(#h4)"/><circle cx="41.7" cy="232.6" r="3.7" fill="url(#h4)"/><circle cx="182.1" cy="218.9" r="3.6" fill="url(#h4)"/><circle cx="86.1" cy="299.6" r="3.2" fill="url(#h4)"/><circle cx="117.6" cy="258.3" r="3.4" fill="url(#h4)"/><circle cx="170.5" cy="333.1" r="3.5" fill="url(#h4)"/><circle cx="197.2" cy="261.3" r="3.5" fill="url(#h4)"/><circle cx="105.7" cy="313.5" r="3.2" fill="url(#h4)"/><circle cx="84.0" cy="285.2" r="3.5" fill="url(#h4)"/><circle cx="177.2" cy="236.8" r="3.2" fill="url(#h4)"/><circle cx="191.5" cy="223.5" r="3.1" fill="url(#h4)"/><circle cx="73.1" cy="300.3" r="3.1" fill="url(#h4)"/><circle cx="119.5" cy="242.1" r="3.6" fill="url(#h4)"/><circle cx="52.5" cy="275.6" r="3.9" fill="url(#h4)"/><circle cx="41.2" cy="320.1" r="3.4" fill="url(#h4)"/><circle cx="103.6" cy="280.8" r="3.7" fill="url(#h4)"/><circle cx="171.6" cy="363.5" r="3.1" fill="url(#h4)"/><circle cx="72.3" cy="343.2" r="3.5" fill="url(#h4)"/><circle cx="71.3" cy="293.6" r="4.0" fill="url(#h4)"/><circle cx="147.1" cy="241.1" r="3.1" fill="url(#h4)"/><circle cx="111.6" cy="219.9" r="3.8" fill="url(#h4)"/><circle cx="120.4" cy="305.2" r="3.2" fill="url(#h4)"/><circle cx="125.4" cy="252.2" r="3.0" fill="url(#h4)"/><circle cx="145.6" cy="206.8" r="3.5" fill="url(#h4)"/><circle cx="154.7" cy="340.8" r="3.7" fill="url(#h4)"/><circle cx="27.0" cy="264.4" r="3.6" fill="url(#h4)"/><circle cx="54.0" cy="363.4" r="3.7" fill="url(#h4)"/><circle cx="54.5" cy="232.3" r="3.6" fill="url(#h4)"/><circle cx="178.2" cy="371.4" r="3.4" fill="url(#h4)"/><circle cx="173.7" cy="378.8" r="3.7" fill="url(#h4)"/><circle cx="161.8" cy="207.4" r="3.8" fill="url(#h4)"/><circle cx="155.4" cy="227.2" r="3.2" fill="url(#h4)"/><circle cx="179.8" cy="256.5" r="3.4" fill="url(#h4)"/><circle cx="149.5" cy="218.6" r="4.1" fill="url(#h4)"/><circle cx="100.1" cy="227.4" r="4.0" fill="url(#h4)"/><circle cx="57.0" cy="307.8" r="3.9" fill="url(#h4)"/><circle cx="37.8" cy="334.4" r="3.2" fill="url(#h4)"/><circle cx="50.1" cy="323.9" r="3.7" fill="url(#h4)"/><circle cx="90.4" cy="331.4" r="4.0" fill="url(#h4)"/><circle cx="188.8" cy="325.3" r="3.4" fill="url(#h4)"/><circle cx="172.4" cy="247.7" r="3.8" fill="url(#h4)"/><circle cx="148.8" cy="231.2" r="3.1" fill="url(#h4)"/><circle cx="61.6" cy="353.6" r="3.0" fill="url(#h4)"/><circle cx="94.5" cy="337.8" r="3.2" fill="url(#h4)"/><circle cx="43.0" cy="296.1" r="3.6" fill="url(#h4)"/><circle cx="121.1" cy="333.8" r="4.0" fill="url(#h4)"/><circle cx="139.0" cy="285.0" r="3.4" fill="url(#h4)"/><circle cx="96.1" cy="289.5" r="4.1" fill="url(#h4)"/><circle cx="81.7" cy="264.3" r="3.4" fill="url(#h4)"/><circle cx="150.4" cy="233.1" r="4.0" fill="url(#h4)"/><circle cx="129.6" cy="221.1" r="3.3" fill="url(#h4)"/><circle cx="82.7" cy="259.4" r="4.0" fill="url(#h4)"/><circle cx="72.2" cy="266.4" r="3.4" fill="url(#h4)"/><circle cx="54.9" cy="233.8" r="4.1" fill="url(#h4)"/><circle cx="43.0" cy="364.2" r="3.3" fill="url(#h4)"/><circle cx="143.5" cy="251.9" r="3.3" fill="url(#h4)"/><circle cx="173.8" cy="343.9" r="3.7" fill="url(#h4)"/><circle cx="177.7" cy="280.7" r="4.0" fill="url(#h4)"/><circle cx="86.3" cy="221.7" r="3.5" fill="url(#h4)"/><circle cx="37.3" cy="315.6" r="3.2" fill="url(#h4)"/><circle cx="49.9" cy="235.9" r="3.0" fill="url(#h4)"/><circle cx="33.4" cy="294.0" r="3.7" fill="url(#h4)"/><circle cx="112.9" cy="358.4" r="3.8" fill="url(#h4)"/><circle cx="147.9" cy="348.5" r="3.9" fill="url(#h4)"/><circle cx="198.4" cy="293.4" r="4.0" fill="url(#h4)"/><circle cx="189.9" cy="315.1" r="3.9" fill="url(#h4)"/><circle cx="98.8" cy="353.8" r="3.6" fill="url(#h4)"/><circle cx="170.9" cy="265.6" r="3.1" fill="url(#h4)"/><circle cx="118.1" cy="290.2" r="3.4" fill="url(#h4)"/><circle cx="65.1" cy="374.7" r="3.2" fill="url(#h4)"/><circle cx="129.4" cy="360.4" r="3.0" fill="url(#h4)"/><circle cx="187.1" cy="212.1" r="3.8" fill="url(#h4)"/><circle cx="66.8" cy="329.1" r="3.8" fill="url(#h4)"/><circle cx="197.7" cy="338.1" r="3.6" fill="url(#h4)"/><circle cx="83.7" cy="245.3" r="3.2" fill="url(#h4)"/><circle cx="54.3" cy="261.6" r="3.5" fill="url(#h4)"/><circle cx="167.2" cy="303.2" r="3.1" fill="url(#h4)"/><circle cx="117.1" cy="372.8" r="3.5" fill="url(#h4)"/><circle cx="139.0" cy="354.9" r="3.6" fill="url(#h4)"/><circle cx="127.3" cy="228.0" r="3.0" fill="url(#h4)"/><circle cx="26.5" cy="373.3" r="3.4" fill="url(#h4)"/><circle cx="28.8" cy="231.5" r="3.7" fill="url(#h4)"/><circle cx="195.8" cy="362.7" r="3.8" fill="url(#h4)"/><circle cx="161.5" cy="218.0" r="3.2" fill="url(#h4)"/><circle cx="70.7" cy="305.2" r="3.6" fill="url(#h4)"/><circle cx="40.6" cy="253.2" r="3.4" fill="url(#h4)"/><circle cx="75.0" cy="274.1" r="3.9" fill="url(#h4)"/><circle cx="102.1" cy="298.9" r="3.4" fill="url(#h4)"/><circle cx="112.0" cy="379.6" r="3.5" fill="url(#h5)"/><circle cx="71.1" cy="216.7" r="3.2" fill="url(#h5)"/><circle cx="138.2" cy="248.1" r="3.5" fill="url(#h5)"/><circle cx="191.3" cy="379.4" r="3.2" fill="url(#h5)"/><circle cx="156.8" cy="246.6" r="3.3" fill="url(#h5)"/><circle cx="39.6" cy="366.5" r="3.5" fill="url(#h5)"/><circle cx="158.4" cy="233.5" r="3.8" fill="url(#h5)"/><circle cx="105.7" cy="246.0" r="3.9" fill="url(#h5)"/><circle cx="77.6" cy="343.2" r="3.5" fill="url(#h5)"/><circle cx="52.7" cy="348.8" r="3.7" fill="url(#h5)"/><circle cx="46.2" cy="348.4" r="3.7" fill="url(#h5)"/><circle cx="116.3" cy="344.0" r="3.8" fill="url(#h5)"/><circle cx="80.4" cy="222.6" r="4.0" fill="url(#h5)"/><circle cx="36.8" cy="330.1" r="3.9" fill="url(#h5)"/><circle cx="142.7" cy="229.1" r="3.3" fill="url(#h5)"/><circle cx="134.3" cy="221.7" r="3.2" fill="url(#h5)"/><circle cx="153.9" cy="310.1" r="3.2" fill="url(#h5)"/><circle cx="157.5" cy="313.7" r="3.2" fill="url(#h5)"/><circle cx="177.0" cy="315.8" r="3.1" fill="url(#h5)"/><circle cx="103.9" cy="285.5" r="3.8" fill="url(#h5)"/><circle cx="188.4" cy="217.1" r="3.1" fill="url(#h5)"/><circle cx="127.2" cy="316.4" r="3.1" fill="url(#h5)"/><circle cx="115.6" cy="208.6" r="3.9" fill="url(#h5)"/><circle cx="146.5" cy="280.6" r="3.2" fill="url(#h5)"/><circle cx="98.2" cy="232.7" r="3.3" fill="url(#h5)"/><circle cx="173.2" cy="339.4" r="3.8" fill="url(#h5)"/><circle cx="183.3" cy="305.0" r="3.7" fill="url(#h5)"/><circle cx="77.9" cy="227.1" r="3.7" fill="url(#h5)"/><circle cx="47.6" cy="213.7" r="3.9" fill="url(#h5)"/><circle cx="26.8" cy="209.7" r="3.7" fill="url(#h5)"/><circle cx="181.6" cy="329.2" r="3.4" fill="url(#h5)"/><circle cx="66.2" cy="363.6" r="4.0" fill="url(#h5)"/><circle cx="180.8" cy="319.9" r="3.6" fill="url(#h5)"/><circle cx="34.8" cy="348.3" r="3.0" fill="url(#h5)"/><circle cx="104.1" cy="323.9" r="3.5" fill="url(#h5)"/><circle cx="154.5" cy="359.3" r="3.4" fill="url(#h5)"/><circle cx="77.6" cy="239.0" r="3.7" fill="url(#h5)"/><circle cx="94.6" cy="237.1" r="3.7" fill="url(#h5)"/><circle cx="161.4" cy="226.3" r="3.4" fill="url(#h5)"/><circle cx="88.8" cy="258.0" r="3.2" fill="url(#h5)"/><circle cx="56.5" cy="208.1" r="3.4" fill="url(#h5)"/><circle cx="145.3" cy="343.5" r="4.0" fill="url(#h5)"/><circle cx="107.9" cy="265.5" r="3.7" fill="url(#h5)"/><circle cx="114.6" cy="243.6" r="3.4" fill="url(#h5)"/><circle cx="41.8" cy="271.8" r="3.1" fill="url(#h5)"/><circle cx="33.2" cy="229.8" r="3.9" fill="url(#h5)"/><circle cx="103.7" cy="318.5" r="3.1" fill="url(#h5)"/><circle cx="111.8" cy="373.5" r="3.3" fill="url(#h5)"/><circle cx="161.1" cy="235.5" r="3.4" fill="url(#h5)"/><circle cx="108.7" cy="328.4" r="4.0" fill="url(#h5)"/><circle cx="70.3" cy="323.6" r="3.2" fill="url(#h5)"/><circle cx="144.5" cy="362.8" r="3.3" fill="url(#h5)"/><circle cx="128.8" cy="266.1" r="4.0" fill="url(#h5)"/><circle cx="111.6" cy="309.3" r="3.8" fill="url(#h5)"/><circle cx="61.0" cy="227.6" r="3.0" fill="url(#h5)"/><circle cx="91.5" cy="272.4" r="3.5" fill="url(#h5)"/><circle cx="163.9" cy="349.2" r="3.5" fill="url(#h5)"/><circle cx="80.4" cy="300.9" r="3.2" fill="url(#h5)"/><circle cx="49.7" cy="256.6" r="3.4" fill="url(#h5)"/><circle cx="138.4" cy="309.0" r="3.4" fill="url(#h5)"/><circle cx="191.9" cy="349.6" r="3.3" fill="url(#h5)"/><circle cx="110.5" cy="233.6" r="3.4" fill="url(#h5)"/><circle cx="182.6" cy="256.7" r="3.2" fill="url(#h5)"/><circle cx="123.4" cy="238.0" r="3.5" fill="url(#h5)"/><circle cx="62.9" cy="300.7" r="3.3" fill="url(#h5)"/><circle cx="76.6" cy="217.8" r="3.5" fill="url(#h5)"/><circle cx="183.4" cy="235.7" r="3.8" fill="url(#h5)"/><circle cx="192.4" cy="292.1" r="3.8" fill="url(#h5)"/><circle cx="40.5" cy="299.1" r="3.8" fill="url(#h5)"/><circle cx="186.0" cy="368.4" r="3.7" fill="url(#h5)"/><circle cx="183.2" cy="286.5" r="3.6" fill="url(#h5)"/><circle cx="35.7" cy="271.0" r="3.1" fill="url(#h5)"/><circle cx="33.6" cy="363.1" r="4.0" fill="url(#h5)"/><circle cx="29.7" cy="310.5" r="3.3" fill="url(#h5)"/><circle cx="31.2" cy="359.8" r="3.0" fill="url(#h5)"/><circle cx="165.3" cy="368.4" r="4.1" fill="url(#h5)"/><circle cx="149.4" cy="225.9" r="4.0" fill="url(#h5)"/><circle cx="162.2" cy="277.2" r="3.3" fill="url(#h5)"/><circle cx="50.0" cy="373.6" r="3.2" fill="url(#h5)"/><circle cx="142.1" cy="301.3" r="3.4" fill="url(#h5)"/><circle cx="198.7" cy="236.9" r="3.5" fill="url(#h5)"/><circle cx="62.2" cy="233.1" r="3.2" fill="url(#h5)"/><circle cx="69.7" cy="320.9" r="3.5" fill="url(#h5)"/><circle cx="126.5" cy="362.2" r="3.3" fill="url(#h5)"/><circle cx="70.1" cy="286.1" r="3.4" fill="url(#h5)"/><circle cx="153.1" cy="252.2" r="3.1" fill="url(#h5)"/><circle cx="114.3" cy="320.1" r="3.8" fill="url(#h5)"/><circle cx="45.7" cy="378.5" r="4.0" fill="url(#h5)"/><circle cx="183.5" cy="322.9" r="3.2" fill="url(#h5)"/><circle cx="90.3" cy="354.9" r="3.3" fill="url(#h5)"/><circle cx="81.8" cy="206.5" r="3.0" fill="url(#h5)"/><circle cx="176.0" cy="262.0" r="3.6" fill="url(#h5)"/><circle cx="74.5" cy="356.8" r="3.7" fill="url(#h5)"/><circle cx="174.7" cy="232.8" r="3.2" fill="url(#h5)"/><circle cx="157.9" cy="319.2" r="3.9" fill="url(#h5)"/><circle cx="153.2" cy="240.9" r="4.0" fill="url(#h5)"/><circle cx="45.6" cy="289.9" r="3.9" fill="url(#h5)"/><circle cx="78.8" cy="244.8" r="4.0" fill="url(#h5)"/><circle cx="111.1" cy="228.2" r="3.6" fill="url(#h5)"/><circle cx="56.3" cy="218.8" r="3.1" fill="url(#h5)"/><circle cx="151.9" cy="377.0" r="3.4" fill="url(#h5)"/><circle cx="88.0" cy="324.4" r="3.7" fill="url(#h5)"/><circle cx="51.7" cy="309.9" r="3.8" fill="url(#h5)"/><circle cx="189.6" cy="286.4" r="3.3" fill="url(#h5)"/><circle cx="30.4" cy="319.2" r="3.8" fill="url(#h5)"/><circle cx="63.5" cy="290.3" r="3.7" fill="url(#h5)"/><circle cx="136.6" cy="330.6" r="3.7" fill="url(#h5)"/><circle cx="54.5" cy="373.5" r="3.7" fill="url(#h5)"/><circle cx="126.6" cy="329.0" r="3.2" fill="url(#h5)"/><circle cx="87.0" cy="211.3" r="3.0" fill="url(#h5)"/><circle cx="148.2" cy="271.5" r="3.3" fill="url(#h5)"/><circle cx="150.2" cy="236.0" r="3.4" fill="url(#h5)"/><circle cx="82.9" cy="363.9" r="4.0" fill="url(#h5)"/><circle cx="100.2" cy="217.2" r="3.1" fill="url(#h5)"/><circle cx="134.6" cy="243.2" r="3.5" fill="url(#h5)"/><circle cx="125.5" cy="320.5" r="3.2" fill="url(#h5)"/><circle cx="152.5" cy="220.6" r="3.1" fill="url(#h5)"/><circle cx="179.6" cy="251.6" r="3.2" fill="url(#h5)"/><circle cx="178.4" cy="295.6" r="3.7" fill="url(#h5)"/><circle cx="150.5" cy="296.4" r="3.9" fill="url(#h5)"/><circle cx="179.4" cy="243.4" r="3.2" fill="url(#h5)"/><circle cx="31.6" cy="247.8" r="3.6" fill="url(#h5)"/><circle cx="200.9" cy="354.2" r="3.4" fill="url(#h5)"/><circle cx="52.5" cy="241.7" r="3.6" fill="url(#h5)"/><circle cx="148.2" cy="364.2" r="3.7" fill="url(#h5)"/><circle cx="159.8" cy="342.3" r="3.2" fill="url(#h5)"/><circle cx="84.2" cy="328.2" r="3.8" fill="url(#h5)"/><circle cx="39.0" cy="359.7" r="4.0" fill="url(#h5)"/><circle cx="48.4" cy="363.6" r="3.8" fill="url(#h5)"/><circle cx="114.0" cy="347.7" r="3.6" fill="url(#h5)"/><circle cx="162.0" cy="363.4" r="3.6" fill="url(#h5)"/><circle cx="197.1" cy="330.1" r="4.0" fill="url(#h5)"/><circle cx="50.7" cy="314.5" r="3.7" fill="url(#h6)"/><circle cx="40.7" cy="373.3" r="3.4" fill="url(#h6)"/><circle cx="162.1" cy="372.7" r="3.7" fill="url(#h6)"/><circle cx="180.9" cy="279.9" r="3.8" fill="url(#h6)"/><circle cx="116.9" cy="247.4" r="3.8" fill="url(#h6)"/><circle cx="165.5" cy="329.8" r="3.3" fill="url(#h6)"/><circle cx="95.6" cy="223.2" r="3.7" fill="url(#h6)"/><circle cx="135.6" cy="263.6" r="4.0" fill="url(#h6)"/><circle cx="53.0" cy="377.0" r="3.1" fill="url(#h6)"/><circle cx="188.2" cy="302.9" r="4.0" fill="url(#h6)"/><circle cx="155.3" cy="286.8" r="3.2" fill="url(#h6)"/><circle cx="151.7" cy="372.2" r="3.2" fill="url(#h6)"/><circle cx="94.5" cy="314.4" r="3.7" fill="url(#h6)"/><circle cx="194.7" cy="267.7" r="3.5" fill="url(#h6)"/><circle cx="192.8" cy="233.0" r="3.7" fill="url(#h6)"/><circle cx="194.6" cy="217.3" r="3.4" fill="url(#h6)"/><circle cx="90.3" cy="306.6" r="3.7" fill="url(#h6)"/><circle cx="98.7" cy="271.6" r="4.1" fill="url(#h6)"/><circle cx="191.7" cy="212.7" r="4.0" fill="url(#h6)"/><circle cx="55.0" cy="327.5" r="3.8" fill="url(#h6)"/><circle cx="192.3" cy="241.0" r="4.0" fill="url(#h6)"/><circle cx="174.1" cy="357.0" r="3.8" fill="url(#h6)"/><circle cx="186.2" cy="329.3" r="3.5" fill="url(#h6)"/><circle cx="185.9" cy="262.6" r="3.5" fill="url(#h6)"/><circle cx="61.2" cy="285.6" r="4.0" fill="url(#h6)"/><circle cx="87.1" cy="287.3" r="3.4" fill="url(#h6)"/><circle cx="122.0" cy="285.9" r="3.8" fill="url(#h6)"/><circle cx="146.7" cy="214.4" r="3.6" fill="url(#h6)"/><circle cx="185.0" cy="253.6" r="3.1" fill="url(#h6)"/><circle cx="61.3" cy="325.7" r="3.1" fill="url(#h6)"/><circle cx="181.1" cy="271.6" r="3.2" fill="url(#h6)"/><circle cx="167.9" cy="253.1" r="3.3" fill="url(#h6)"/><circle cx="61.6" cy="368.8" r="4.0" fill="url(#h6)"/><circle cx="102.8" cy="349.5" r="3.1" fill="url(#h6)"/><circle cx="76.7" cy="296.1" r="4.0" fill="url(#h6)"/><circle cx="48.9" cy="353.9" r="3.2" fill="url(#h6)"/><circle cx="167.6" cy="275.1" r="3.3" fill="url(#h6)"/><circle cx="68.5" cy="358.8" r="3.4" fill="url(#h6)"/><circle cx="184.6" cy="311.4" r="3.8" fill="url(#h6)"/><circle cx="162.2" cy="304.9" r="4.0" fill="url(#h6)"/><circle cx="194.5" cy="324.0" r="3.5" fill="url(#h6)"/><circle cx="42.3" cy="377.8" r="4.0" fill="url(#h6)"/><circle cx="49.5" cy="359.2" r="3.3" fill="url(#h6)"/><circle cx="42.4" cy="344.2" r="3.2" fill="url(#h6)"/><circle cx="94.3" cy="372.5" r="3.6" fill="url(#h6)"/><circle cx="190.2" cy="340.5" r="3.6" fill="url(#h6)"/><circle cx="93.9" cy="304.9" r="4.0" fill="url(#h6)"/><circle cx="145.1" cy="317.5" r="3.5" fill="url(#h6)"/><circle cx="172.5" cy="275.9" r="3.5" fill="url(#h6)"/><circle cx="188.2" cy="267.1" r="3.9" fill="url(#h6)"/><circle cx="108.9" cy="252.0" r="3.0" fill="url(#h6)"/><circle cx="48.6" cy="264.7" r="4.0" fill="url(#h6)"/><circle cx="62.2" cy="234.7" r="4.1" fill="url(#h6)"/><circle cx="81.3" cy="319.0" r="3.3" fill="url(#h6)"/><circle cx="99.8" cy="247.0" r="3.3" fill="url(#h6)"/><circle cx="129.1" cy="290.4" r="3.1" fill="url(#h6)"/><circle cx="56.4" cy="297.6" r="3.7" fill="url(#h6)"/><circle cx="119.4" cy="339.6" r="3.9" fill="url(#h6)"/><circle cx="156.6" cy="297.0" r="3.7" fill="url(#h6)"/><circle cx="199.1" cy="349.2" r="3.9" fill="url(#h6)"/><circle cx="142.5" cy="224.6" r="3.6" fill="url(#h6)"/><circle cx="57.6" cy="368.0" r="3.0" fill="url(#h6)"/><circle cx="68.4" cy="309.7" r="3.8" fill="url(#h6)"/><circle cx="199.9" cy="363.9" r="3.4" fill="url(#h6)"/><circle cx="113.2" cy="252.5" r="3.8" fill="url(#h6)"/><circle cx="49.7" cy="295.0" r="3.7" fill="url(#h6)"/><circle cx="44.9" cy="324.9" r="4.1" fill="url(#h6)"/><circle cx="96.6" cy="281.2" r="3.6" fill="url(#h6)"/><circle cx="122.8" cy="207.9" r="3.2" fill="url(#h6)"/><circle cx="118.5" cy="311.8" r="3.6" fill="url(#h6)"/><circle cx="201.2" cy="274.7" r="3.4" fill="url(#h6)"/><circle cx="200.0" cy="373.1" r="4.1" fill="url(#h6)"/><circle cx="199.1" cy="246.0" r="3.7" fill="url(#h6)"/><circle cx="174.2" cy="252.0" r="3.6" fill="url(#h6)"/><circle cx="188.2" cy="363.2" r="3.2" fill="url(#h6)"/><circle cx="110.3" cy="362.9" r="3.3" fill="url(#h6)"/><circle cx="151.6" cy="315.8" r="3.5" fill="url(#h6)"/><circle cx="137.0" cy="315.8" r="3.5" fill="url(#h6)"/><circle cx="64.1" cy="358.4" r="3.6" fill="url(#h6)"/><circle cx="96.9" cy="329.1" r="3.5" fill="url(#h6)"/><circle cx="70.1" cy="247.7" r="3.9" fill="url(#h6)"/><circle cx="59.0" cy="248.6" r="3.7" fill="url(#h6)"/><circle cx="38.4" cy="363.1" r="3.9" fill="url(#h6)"/><circle cx="156.9" cy="299.9" r="3.6" fill="url(#h6)"/><circle cx="147.2" cy="223.9" r="3.9" fill="url(#h6)"/><circle cx="200.9" cy="324.2" r="3.6" fill="url(#h6)"/><circle cx="162.4" cy="353.8" r="3.5" fill="url(#h6)"/><circle cx="169.8" cy="367.9" r="3.1" fill="url(#h6)"/><circle cx="149.5" cy="353.8" r="3.7" fill="url(#h6)"/><circle cx="86.4" cy="242.3" r="3.8" fill="url(#h6)"/><circle cx="85.9" cy="250.0" r="3.7" fill="url(#h6)"/><circle cx="165.4" cy="292.6" r="3.7" fill="url(#h6)"/><circle cx="156.8" cy="262.5" r="3.1" fill="url(#h6)"/><circle cx="103.5" cy="377.6" r="3.5" fill="url(#h6)"/><circle cx="194.6" cy="305.3" r="3.7" fill="url(#h6)"/><circle cx="97.1" cy="368.4" r="3.7" fill="url(#h6)"/><circle cx="82.4" cy="358.8" r="3.4" fill="url(#h7)"/><circle cx="58.2" cy="338.0" r="3.6" fill="url(#h7)"/><circle cx="118.8" cy="329.9" r="4.0" fill="url(#h7)"/><circle cx="65.6" cy="353.5" r="3.4" fill="url(#h7)"/><circle cx="136.8" cy="371.2" r="4.0" fill="url(#h7)"/><circle cx="25.4" cy="332.5" r="3.6" fill="url(#h7)"/><circle cx="104.1" cy="305.0" r="3.3" fill="url(#h7)"/><circle cx="86.3" cy="378.4" r="3.4" fill="url(#h7)"/><circle cx="178.0" cy="218.5" r="3.4" fill="url(#h7)"/><circle cx="32.8" cy="371.1" r="3.7" fill="url(#h7)"/><circle cx="97.1" cy="214.7" r="3.6" fill="url(#h7)"/><circle cx="74.3" cy="277.8" r="3.1" fill="url(#h7)"/><circle cx="105.0" cy="334.5" r="3.2" fill="url(#h7)"/><circle cx="156.1" cy="328.4" r="4.0" fill="url(#h7)"/><circle cx="190.6" cy="237.8" r="3.3" fill="url(#h7)"/><circle cx="128.2" cy="218.5" r="3.8" fill="url(#h7)"/><circle cx="156.6" cy="266.2" r="4.0" fill="url(#h7)"/><circle cx="184.3" cy="208.9" r="3.6" fill="url(#h7)"/><circle cx="78.6" cy="248.2" r="3.3" fill="url(#h7)"/><circle cx="147.9" cy="359.8" r="3.3" fill="url(#h7)"/><circle cx="69.3" cy="212.9" r="3.5" fill="url(#h7)"/><circle cx="65.2" cy="217.1" r="4.0" fill="url(#h7)"/><circle cx="161.3" cy="333.5" r="3.6" fill="url(#h7)"/><circle cx="146.1" cy="324.1" r="3.2" fill="url(#h7)"/><circle cx="192.6" cy="280.8" r="3.8" fill="url(#h7)"/><circle cx="199.2" cy="301.9" r="3.5" fill="url(#h7)"/><circle cx="132.9" cy="342.2" r="3.9" fill="url(#h7)"/><circle cx="92.5" cy="276.6" r="3.5" fill="url(#h7)"/><circle cx="73.3" cy="214.4" r="4.1" fill="url(#h7)"/><circle cx="108.5" cy="262.3" r="3.5" fill="url(#h7)"/><circle cx="119.7" cy="349.7" r="3.1" fill="url(#h7)"/><circle cx="156.7" cy="338.8" r="3.8" fill="url(#h7)"/><circle cx="107.4" cy="213.8" r="3.1" fill="url(#h7)"/><circle cx="179.5" cy="363.1" r="3.7" fill="url(#h7)"/><circle cx="55.4" cy="348.8" r="3.5" fill="url(#h7)"/><circle cx="199.2" cy="306.0" r="4.0" fill="url(#h7)"/><circle cx="138.9" cy="276.8" r="3.4" fill="url(#h7)"/><circle cx="117.7" cy="265.1" r="3.9" fill="url(#h7)"/><circle cx="97.2" cy="301.1" r="3.4" fill="url(#h7)"/><circle cx="187.5" cy="334.0" r="3.9" fill="url(#h7)"/><circle cx="111.4" cy="286.4" r="3.8" fill="url(#h7)"/><circle cx="66.6" cy="293.4" r="3.2" fill="url(#h7)"/><circle cx="51.3" cy="299.7" r="3.7" fill="url(#h7)"/><circle cx="169.0" cy="316.4" r="3.7" fill="url(#h7)"/><circle cx="181.2" cy="377.3" r="3.4" fill="url(#h7)"/><circle cx="122.3" cy="355.0" r="3.8" fill="url(#h7)"/><circle cx="75.4" cy="233.4" r="3.5" fill="url(#h7)"/><circle cx="55.0" cy="267.7" r="3.7" fill="url(#h7)"/><circle cx="138.6" cy="333.5" r="3.7" fill="url(#h7)"/><circle cx="88.8" cy="236.5" r="4.0" fill="url(#h7)"/><circle cx="27.2" cy="247.3" r="4.1" fill="url(#h8)"/><circle cx="24.7" cy="282.2" r="3.6" fill="url(#h8)"/><circle cx="187.3" cy="208.6" r="3.3" fill="url(#h8)"/><circle cx="98.7" cy="237.3" r="4.0" fill="url(#h8)"/><circle cx="142.3" cy="311.9" r="3.3" fill="url(#h8)"/><circle cx="130.5" cy="355.3" r="3.7" fill="url(#h8)"/><circle cx="181.3" cy="348.9" r="3.3" fill="url(#h8)"/><circle cx="86.3" cy="318.0" r="3.7" fill="url(#h8)"/><circle cx="60.8" cy="259.2" r="3.3" fill="url(#h8)"/><circle cx="72.1" cy="236.8" r="3.1" fill="url(#h8)"/><circle cx="188.9" cy="295.9" r="3.0" fill="url(#h8)"/><circle cx="136.2" cy="350.1" r="4.1" fill="url(#h8)"/><circle cx="78.3" cy="280.9" r="3.8" fill="url(#h8)"/><circle cx="185.5" cy="336.9" r="3.6" fill="url(#h8)"/><circle cx="97.6" cy="243.9" r="3.7" fill="url(#h8)"/><circle cx="140.6" cy="290.0" r="3.9" fill="url(#h8)"/><circle cx="69.2" cy="261.4" r="3.5" fill="url(#h8)"/><circle cx="36.2" cy="261.1" r="3.9" fill="url(#h8)"/><circle cx="41.3" cy="328.1" r="3.2" fill="url(#h8)"/><circle cx="87.1" cy="265.2" r="3.3" fill="url(#h8)"/><circle cx="161.4" cy="314.6" r="4.1" fill="url(#h8)"/><circle cx="57.3" cy="243.3" r="3.9" fill="url(#h8)"/><circle cx="98.9" cy="264.2" r="3.9" fill="url(#h8)"/><circle cx="189.3" cy="350.0" r="3.7" fill="url(#h9)"/><circle cx="152.1" cy="281.3" r="3.7" fill="url(#h9)"/><circle cx="107.9" cy="310.3" r="4.0" fill="url(#h9)"/><circle cx="192.9" cy="319.8" r="3.7" fill="url(#h9)"/><circle cx="48.7" cy="250.9" r="4.2" fill="url(#hb)"/><circle cx="46.9" cy="264.8" r="4.2" fill="url(#hb)"/><circle cx="106.4" cy="244.6" r="4.2" fill="url(#hb)"/><circle cx="100.7" cy="258.1" r="4.2" fill="url(#hb)"/><circle cx="88.4" cy="253.6" r="4.2" fill="url(#hb)"/><circle cx="179.3" cy="227.8" r="4.2" fill="url(#hb)"/><circle cx="189.4" cy="227.8" r="4.2" fill="url(#hb)"/><circle cx="135.5" cy="259.2" r="4.2" fill="url(#hb)"/><circle cx="147.9" cy="257.0" r="4.2" fill="url(#hb)"/><circle cx="121.0" cy="215.5" r="4.2" fill="url(#hb)"/><circle cx="190.5" cy="276.0" r="4.2" fill="url(#hb)"/><circle cx="150.0" cy="285.0" r="4.2" fill="url(#hb)"/><circle cx="72.7" cy="301.8" r="4.2" fill="url(#hb)"/><circle cx="88.4" cy="345.1" r="4.2" fill="url(#hb)"/><circle cx="39.1" cy="316.4" r="4.2" fill="url(#hb)"/><circle cx="103.0" cy="337.7" r="4.2" fill="url(#hb)"/><circle cx="169.8" cy="307.5" r="4.2" fill="url(#hb)"/><circle cx="140.7" cy="320.5" r="4.2" fill="url(#hb)"/><circle cx="151.9" cy="342.9" r="4.2" fill="url(#hb)"/><circle cx="116.5" cy="325.4" r="4" fill="url(#hd)"/><circle cx="152.4" cy="361.3" r="4" fill="url(#hd)"/><circle cx="62.6" cy="336.6" r="4" fill="url(#hd)"/><circle cx="174.8" cy="262.6" r="4" fill="url(#hd)"/><circle cx="192.0" cy="353.7" r="6.3" fill="url(#pd)" opacity="0.53"/><circle cx="31.3" cy="348.8" r="6.2" fill="url(#pd)" opacity="0.45"/><circle cx="73.6" cy="271.0" r="7.2" fill="url(#pd)" opacity="0.29"/><circle cx="105.9" cy="239.2" r="6.2" fill="url(#pd)" opacity="0.29"/><circle cx="183.4" cy="374.9" r="7.3" fill="url(#pb)" opacity="0.39"/><circle cx="54.2" cy="361.1" r="6.5" fill="url(#pb)" opacity="0.38"/><circle cx="154.3" cy="373.9" r="9.5" fill="url(#pd)" opacity="0.52"/><circle cx="160.4" cy="271.1" r="6.3" fill="url(#pb)" opacity="0.48"/><circle cx="110.3" cy="320.3" r="6.3" fill="url(#pd)" opacity="0.42"/><circle cx="139.0" cy="369.3" r="11.5" fill="url(#pb)" opacity="0.35"/><circle cx="131.1" cy="283.8" r="12.3" fill="url(#pd)" opacity="0.53"/><circle cx="37.0" cy="324.7" r="10.8" fill="url(#pd)" opacity="0.50"/><circle cx="175.4" cy="272.6" r="11.4" fill="url(#pd)" opacity="0.47"/><circle cx="130.4" cy="307.6" r="11.9" fill="url(#pb)" opacity="0.38"/><circle cx="58.4" cy="229.0" r="11.3" fill="url(#pd)" opacity="0.45"/><circle cx="79.8" cy="318.9" r="8.3" fill="url(#pd)" opacity="0.39"/><circle cx="101.2" cy="246.0" r="8.4" fill="url(#pd)" opacity="0.48"/><circle cx="181.5" cy="328.5" r="12.3" fill="url(#pb)" opacity="0.52"/><circle cx="113.7" cy="348.8" r="10.6" fill="url(#pb)" opacity="0.37"/><circle cx="105.9" cy="324.3" r="11.4" fill="url(#pd)" opacity="0.34"/><circle cx="97.7" cy="274.0" r="8.7" fill="url(#pd)" opacity="0.51"/><circle cx="36.1" cy="270.5" r="7.9" fill="url(#pb)" opacity="0.53"/><circle cx="125.3" cy="231.4" r="6.4" fill="url(#pb)" opacity="0.40"/></g></g>
<path d="M23.3 211.2H197.2" stroke="#2a2a2a" stroke-width="1" fill="none"/><path d="M29.8 204.2V377.8" stroke="#666" stroke-width="0.8" fill="none"/>
<path d="M96.76 211.2v-6M29.8 277.84h-6.5M163.72 211.2v-6M29.8 344.48h-6.5" stroke="#333" stroke-width="0.9" fill="none"/>
<text transform="translate(29.29,201.4) scale(1.013,1.049)" font-size="10.5" fill="#111">0 μm</text><text x="97.76" y="202.3" font-size="10.5">2</text><text x="164.72" y="202.3" font-size="10.5">4</text><text x="22" y="221.5" font-size="10.5" text-anchor="end">0</text><text x="22" y="288.14" font-size="10.5" text-anchor="end">2</text><text x="22" y="354.78" font-size="10.5" text-anchor="end">4</text>
<rect x="204.9" y="211.2" width="12.6" height="166.6" fill="url(#cb)" stroke="#555" stroke-width="0.8"/>
<path d="M217.5 211.2h6M217.5 235.2h6M217.5 256.3h6M217.5 276.7h6M217.5 296.7h6M217.5 317.8h6M217.5 338.8h6M217.5 359.4h6M217.5 377.8h6" stroke="#333" stroke-width="0.9" fill="none"/>
<text x="242.4" y="244.9" font-size="10.5" text-anchor="end">30</text><text x="242.4" y="266" font-size="10.5" text-anchor="end">20</text><text x="242.4" y="286.4" font-size="10.5" text-anchor="end">10</text><text x="242.4" y="306.4" font-size="10.5" text-anchor="end">0</text><text x="242.4" y="327.5" font-size="10.5" text-anchor="end">−10</text><text x="242.4" y="348.5" font-size="10.5" text-anchor="end">−20</text><text x="242.4" y="375.5" font-size="10.5" text-anchor="end">−39</text><text x="231" y="220.9" font-size="10.5" clip-path="url(#clab)">41 nm</text>
<text transform="translate(34.65,225.14) scale(1.081,1.023)" font-size="15" fill="#fff">FTO</text>
<text transform="translate(34.65,244.75) scale(1.077,0.986)" font-size="15" fill="#fff">RMS=10.12 nm</text>
<text transform="translate(232.98,197.04) scale(1.093,1.04)" font-size="13.5" fill="#111">(d)</text>
<g clip-path="url(#cd)"><g filter="url(#gold)"><rect x="268.9" y="209.2" width="170.4" height="170.6" fill="#515151"/><circle cx="279.9" cy="355.5" r="3.2" fill="url(#hd)" opacity="0.66"/><circle cx="394.8" cy="250.1" r="3.6" fill="url(#hd)" opacity="0.75"/><circle cx="431.2" cy="301.4" r="4.0" fill="url(#hd)" opacity="0.93"/><circle cx="398.6" cy="228.2" r="3.3" fill="url(#hd)" opacity="0.93"/><circle cx="398.8" cy="315.0" r="2.9" fill="url(#hd)" opacity="0.60"/><circle cx="382.7" cy="282.4" r="2.7" fill="url(#hd)" opacity="0.88"/><circle cx="404.3" cy="328.9" r="5.0" fill="url(#hd)" opacity="0.50"/><circle cx="290.3" cy="332.4" r="4.0" fill="url(#hd)" opacity="0.92"/><circle cx="333.0" cy="322.9" r="3.1" fill="url(#hd)" opacity="0.86"/><circle cx="318.5" cy="214.6" r="3.7" fill="url(#hd)" opacity="0.82"/><circle cx="287.8" cy="236.3" r="3.7" fill="url(#hd)" opacity="0.70"/><circle cx="396.0" cy="222.3" r="3.7" fill="url(#hd)" opacity="0.63"/><circle cx="327.4" cy="235.0" r="3.1" fill="url(#hd)" opacity="0.64"/><circle cx="436.4" cy="250.7" r="4.8" fill="url(#hd)" opacity="0.63"/><circle cx="388.4" cy="312.2" r="3.9" fill="url(#hd)" opacity="0.50"/><circle cx="373.6" cy="320.7" r="3.5" fill="url(#hd)" opacity="0.76"/><circle cx="413.6" cy="290.0" r="2.6" fill="url(#hd)" opacity="0.86"/><circle cx="353.4" cy="319.4" r="4.6" fill="url(#hd)" opacity="0.61"/><circle cx="391.2" cy="342.2" r="3.8" fill="url(#hd)" opacity="0.85"/><circle cx="352.4" cy="342.4" r="5.0" fill="url(#hd)" opacity="0.66"/><circle cx="333.2" cy="260.7" r="4.4" fill="url(#hd)" opacity="0.78"/><circle cx="340.9" cy="357.5" r="4.0" fill="url(#hd)" opacity="0.90"/><circle cx="271.9" cy="343.7" r="5.0" fill="url(#hd)" opacity="0.62"/><circle cx="384.0" cy="339.4" r="4.9" fill="url(#hd)" opacity="0.58"/><circle cx="321.4" cy="212.1" r="2.9" fill="url(#hd)" opacity="0.79"/><circle cx="302.2" cy="342.4" r="3.7" fill="url(#hd)" opacity="0.77"/><circle cx="337.2" cy="305.7" r="4.3" fill="url(#hd)" opacity="0.69"/><circle cx="380.8" cy="288.0" r="3.4" fill="url(#hd)" opacity="0.80"/><circle cx="320.4" cy="230.8" r="3.6" fill="url(#hd)" opacity="0.60"/><circle cx="331.5" cy="244.4" r="4.1" fill="url(#hd)" opacity="0.54"/><circle cx="283.8" cy="326.7" r="3.9" fill="url(#hd)" opacity="0.83"/><circle cx="381.3" cy="322.5" r="2.7" fill="url(#hd)" opacity="0.83"/><circle cx="376.3" cy="262.2" r="2.6" fill="url(#hd)" opacity="0.95"/><circle cx="297.0" cy="211.6" r="3.0" fill="url(#hd)" opacity="0.65"/><circle cx="297.1" cy="255.0" r="3.1" fill="url(#hd)" opacity="0.81"/><circle cx="421.7" cy="315.2" r="3.7" fill="url(#hd)" opacity="0.60"/><circle cx="417.3" cy="309.0" r="4.7" fill="url(#hd)" opacity="0.81"/><circle cx="297.4" cy="339.2" r="2.8" fill="url(#hd)" opacity="0.63"/><circle cx="404.0" cy="283.7" r="4.0" fill="url(#hd)" opacity="0.52"/><circle cx="353.5" cy="234.5" r="4.8" fill="url(#hd)" opacity="0.62"/><circle cx="411.7" cy="358.7" r="4.5" fill="url(#hd)" opacity="0.86"/><circle cx="360.0" cy="377.5" r="3.9" fill="url(#hd)" opacity="0.76"/><circle cx="292.4" cy="305.8" r="3.9" fill="url(#hd)" opacity="0.67"/><circle cx="326.9" cy="328.8" r="4.8" fill="url(#hd)" opacity="0.93"/><circle cx="433.1" cy="264.0" r="3.8" fill="url(#hd)" opacity="0.77"/><circle cx="402.0" cy="371.4" r="2.9" fill="url(#hd)" opacity="0.58"/><circle cx="283.2" cy="323.3" r="4.2" fill="url(#hd)" opacity="0.57"/><circle cx="408.8" cy="334.2" r="2.6" fill="url(#hd)" opacity="0.79"/><circle cx="297.5" cy="218.7" r="3.0" fill="url(#hd)" opacity="0.60"/><circle cx="335.5" cy="219.6" r="3.0" fill="url(#hd)" opacity="0.78"/><circle cx="353.1" cy="352.6" r="3.6" fill="url(#hd)" opacity="0.74"/><circle cx="306.6" cy="253.4" r="4.3" fill="url(#hd)" opacity="0.51"/><circle cx="378.9" cy="211.3" r="4.3" fill="url(#hd)" opacity="0.89"/><circle cx="274.9" cy="315.5" r="3.1" fill="url(#hd)" opacity="0.83"/><circle cx="371.8" cy="368.9" r="4.5" fill="url(#hd)" opacity="0.72"/><circle cx="314.6" cy="236.5" r="4.9" fill="url(#hd)" opacity="0.76"/><circle cx="329.5" cy="262.1" r="2.8" fill="url(#hd)" opacity="0.72"/><circle cx="424.6" cy="356.2" r="4.9" fill="url(#hd)" opacity="0.64"/><circle cx="294.4" cy="341.8" r="4.7" fill="url(#hd)" opacity="0.61"/><circle cx="312.4" cy="298.1" r="2.5" fill="url(#hd)" opacity="0.85"/><circle cx="393.9" cy="354.3" r="4.4" fill="url(#hd)" opacity="0.71"/><circle cx="423.8" cy="292.3" r="4.0" fill="url(#hd)" opacity="0.92"/><circle cx="283.6" cy="285.9" r="4.3" fill="url(#hd)" opacity="0.92"/><circle cx="297.0" cy="333.2" r="4.8" fill="url(#hd)" opacity="0.75"/><circle cx="281.7" cy="272.4" r="4.0" fill="url(#hd)" opacity="0.68"/><circle cx="373.0" cy="247.6" r="4.4" fill="url(#hd)" opacity="0.64"/><circle cx="287.4" cy="280.1" r="2.8" fill="url(#hd)" opacity="0.88"/><circle cx="276.7" cy="220.4" r="3.5" fill="url(#hd)" opacity="0.79"/><circle cx="372.4" cy="286.2" r="3.2" fill="url(#hd)" opacity="0.75"/><circle cx="365.1" cy="258.0" r="3.3" fill="url(#hd)" opacity="0.63"/><circle cx="330.1" cy="358.5" r="4.2" fill="url(#hd)" opacity="0.89"/><circle cx="314.9" cy="229.0" r="2.7" fill="url(#hd)" opacity="0.77"/><circle cx="370.2" cy="322.6" r="4.6" fill="url(#hd)" opacity="0.69"/><circle cx="373.9" cy="340.8" r="3.4" fill="url(#hd)" opacity="0.54"/><circle cx="318.3" cy="246.4" r="3.2" fill="url(#hd)" opacity="0.59"/><circle cx="353.0" cy="254.8" r="3.9" fill="url(#hd)" opacity="0.67"/><circle cx="291.6" cy="227.9" r="2.5" fill="url(#hd)" opacity="0.87"/><circle cx="280.4" cy="287.6" r="4.6" fill="url(#hd)" opacity="0.94"/><circle cx="301.5" cy="312.2" r="4.1" fill="url(#hd)" opacity="0.69"/><circle cx="385.3" cy="352.5" r="4.7" fill="url(#hd)" opacity="0.50"/><circle cx="350.3" cy="315.8" r="4.6" fill="url(#hd)" opacity="0.57"/><circle cx="433.8" cy="374.1" r="2.5" fill="url(#hd)" opacity="0.84"/><circle cx="333.6" cy="294.1" r="4.9" fill="url(#hd)" opacity="0.55"/><circle cx="407.0" cy="222.5" r="2.9" fill="url(#hd)" opacity="0.80"/><circle cx="295.6" cy="211.3" r="4.4" fill="url(#hd)" opacity="0.72"/><circle cx="407.2" cy="286.9" r="3.8" fill="url(#hd)" opacity="0.75"/><circle cx="315.4" cy="325.0" r="3.2" fill="url(#hd)" opacity="0.55"/><circle cx="381.6" cy="270.7" r="4.3" fill="url(#hd)" opacity="0.67"/><circle cx="394.7" cy="317.5" r="3.4" fill="url(#hd)" opacity="0.72"/><circle cx="273.3" cy="254.1" r="4.7" fill="url(#hd)" opacity="0.77"/><circle cx="360.6" cy="347.8" r="3.9" fill="url(#hd)" opacity="0.80"/><circle cx="317.9" cy="264.2" r="3.2" fill="url(#hd)" opacity="0.84"/><circle cx="377.3" cy="264.0" r="4.7" fill="url(#hd)" opacity="0.66"/><circle cx="342.9" cy="370.9" r="3.6" fill="url(#hd)" opacity="0.85"/><circle cx="334.8" cy="266.2" r="2.6" fill="url(#hd)" opacity="0.66"/><circle cx="348.5" cy="232.5" r="4.3" fill="url(#hd)" opacity="0.82"/><circle cx="339.9" cy="304.5" r="2.8" fill="url(#hd)" opacity="0.89"/><circle cx="329.9" cy="237.3" r="4.6" fill="url(#hd)" opacity="0.82"/><circle cx="307.0" cy="252.9" r="2.6" fill="url(#hd)" opacity="0.85"/><circle cx="303.2" cy="294.8" r="3.7" fill="url(#hd)" opacity="0.95"/><circle cx="311.2" cy="289.9" r="4.0" fill="url(#hd)" opacity="0.59"/><circle cx="434.2" cy="294.7" r="3.6" fill="url(#hd)" opacity="0.73"/><circle cx="327.8" cy="317.1" r="4.1" fill="url(#hd)" opacity="0.58"/><circle cx="423.6" cy="335.0" r="4.9" fill="url(#hd)" opacity="0.65"/><circle cx="339.9" cy="369.1" r="4.0" fill="url(#hd)" opacity="0.65"/><circle cx="371.8" cy="328.8" r="4.9" fill="url(#hd)" opacity="0.87"/><circle cx="307.9" cy="243.4" r="2.9" fill="url(#hd)" opacity="0.73"/><circle cx="373.1" cy="233.8" r="3.4" fill="url(#hd)" opacity="0.53"/><circle cx="395.9" cy="299.1" r="4.0" fill="url(#hd)" opacity="0.89"/><circle cx="331.2" cy="220.4" r="4.6" fill="url(#hd)" opacity="0.88"/><circle cx="364.8" cy="273.8" r="3.1" fill="url(#hd)" opacity="0.84"/><circle cx="298.4" cy="348.3" r="3.1" fill="url(#hd)" opacity="0.82"/><circle cx="412.6" cy="341.3" r="4.8" fill="url(#hd)" opacity="0.84"/><circle cx="280.7" cy="260.0" r="3.2" fill="url(#hd)" opacity="0.72"/><circle cx="350.2" cy="318.7" r="2.9" fill="url(#hd)" opacity="0.58"/><circle cx="272.0" cy="344.7" r="2.7" fill="url(#hd)" opacity="0.74"/><circle cx="400.0" cy="257.8" r="2.8" fill="url(#hd)" opacity="0.66"/><circle cx="419.8" cy="246.0" r="4.9" fill="url(#hd)" opacity="0.71"/><circle cx="377.5" cy="233.0" r="3.4" fill="url(#hd)" opacity="0.80"/><circle cx="352.3" cy="255.5" r="4.0" fill="url(#hd)" opacity="0.60"/><circle cx="350.5" cy="239.0" r="3.1" fill="url(#hd)" opacity="0.73"/><circle cx="428.2" cy="277.5" r="3.1" fill="url(#hd)" opacity="0.81"/><circle cx="367.2" cy="332.7" r="4.0" fill="url(#hd)" opacity="0.88"/><circle cx="377.9" cy="372.8" r="2.6" fill="url(#hd)" opacity="0.67"/><circle cx="290.0" cy="272.3" r="2.6" fill="url(#hd)" opacity="0.66"/><circle cx="321.7" cy="278.4" r="4.4" fill="url(#hd)" opacity="0.88"/><circle cx="308.6" cy="329.8" r="3.6" fill="url(#hd)" opacity="0.78"/><circle cx="294.1" cy="316.3" r="4.0" fill="url(#hd)" opacity="0.56"/><circle cx="320.0" cy="221.2" r="3.1" fill="url(#hd)" opacity="0.67"/><circle cx="380.6" cy="279.2" r="4.8" fill="url(#hd)" opacity="0.95"/><circle cx="430.1" cy="263.7" r="4.3" fill="url(#hd)" opacity="0.67"/><circle cx="426.2" cy="271.0" r="4.1" fill="url(#hd)" opacity="0.64"/><circle cx="348.1" cy="360.5" r="3.7" fill="url(#hd)" opacity="0.70"/><circle cx="332.7" cy="309.1" r="4.1" fill="url(#hd)" opacity="0.93"/><circle cx="327.6" cy="358.3" r="3.1" fill="url(#hd)" opacity="0.82"/><circle cx="340.0" cy="231.8" r="2.6" fill="url(#hd)" opacity="0.90"/><circle cx="397.6" cy="350.8" r="4.9" fill="url(#hd)" opacity="0.87"/><circle cx="321.4" cy="300.5" r="3.3" fill="url(#hd)" opacity="0.95"/><circle cx="433.9" cy="319.0" r="3.3" fill="url(#hd)" opacity="0.83"/><circle cx="349.5" cy="375.0" r="2.7" fill="url(#hd)" opacity="0.52"/><circle cx="296.3" cy="270.6" r="3.7" fill="url(#hd)" opacity="0.89"/><circle cx="341.2" cy="313.4" r="4.9" fill="url(#hd)" opacity="0.57"/><circle cx="284.7" cy="339.4" r="3.3" fill="url(#hd)" opacity="0.81"/><circle cx="350.3" cy="213.2" r="3.1" fill="url(#hd)" opacity="0.65"/><circle cx="288.2" cy="346.9" r="4.4" fill="url(#hd)" opacity="0.50"/><circle cx="316.1" cy="333.3" r="3.8" fill="url(#hd)" opacity="0.82"/><circle cx="307.2" cy="267.4" r="3.0" fill="url(#hd)" opacity="0.57"/><circle cx="336.2" cy="212.8" r="3.7" fill="url(#hd)" opacity="0.50"/><circle cx="377.3" cy="243.8" r="3.7" fill="url(#hd)" opacity="0.83"/><circle cx="291.6" cy="293.9" r="3.6" fill="url(#hd)" opacity="0.75"/><circle cx="336.5" cy="302.5" r="3.2" fill="url(#hd)" opacity="0.85"/><circle cx="354.4" cy="241.0" r="3.8" fill="url(#hd)" opacity="0.94"/><circle cx="340.3" cy="325.9" r="3.7" fill="url(#hd)" opacity="0.80"/><circle cx="279.7" cy="226.5" r="3.8" fill="url(#hd)" opacity="0.70"/><circle cx="300.2" cy="350.8" r="3.0" fill="url(#hd)" opacity="0.94"/><circle cx="379.6" cy="270.8" r="3.6" fill="url(#hd)" opacity="0.52"/><circle cx="272.9" cy="369.6" r="2.8" fill="url(#hd)" opacity="0.57"/><circle cx="294.5" cy="226.3" r="2.7" fill="url(#hd)" opacity="0.60"/><circle cx="361.3" cy="318.1" r="4.8" fill="url(#hd)" opacity="0.54"/><circle cx="306.8" cy="353.1" r="3.4" fill="url(#hd)" opacity="0.69"/><circle cx="380.6" cy="358.5" r="3.3" fill="url(#hd)" opacity="0.82"/><circle cx="325.6" cy="321.7" r="3.2" fill="url(#hd)" opacity="0.69"/><circle cx="391.1" cy="328.0" r="4.8" fill="url(#hd)" opacity="0.79"/><circle cx="307.4" cy="323.9" r="4.2" fill="url(#hd)" opacity="0.91"/><circle cx="380.6" cy="351.6" r="3.6" fill="url(#hd)" opacity="0.79"/><circle cx="384.4" cy="316.8" r="3.5" fill="url(#hd)" opacity="0.71"/><circle cx="412.3" cy="237.4" r="3.6" fill="url(#h0)"/><circle cx="358.5" cy="363.2" r="3.4" fill="url(#h0)"/><circle cx="275.0" cy="350.7" r="3.3" fill="url(#h0)"/><circle cx="272.0" cy="356.8" r="4.2" fill="url(#h0)"/><circle cx="317.4" cy="234.3" r="3.8" fill="url(#h0)"/><circle cx="299.8" cy="377.6" r="4.2" fill="url(#h0)"/><circle cx="341.5" cy="355.0" r="3.2" fill="url(#h0)"/><circle cx="379.2" cy="260.2" r="3.6" fill="url(#h0)"/><circle cx="365.7" cy="264.5" r="4.0" fill="url(#h0)"/><circle cx="324.4" cy="259.9" r="3.8" fill="url(#h0)"/><circle cx="358.3" cy="221.2" r="3.6" fill="url(#h0)"/><circle cx="402.4" cy="242.4" r="3.6" fill="url(#h0)"/><circle cx="377.0" cy="370.8" r="3.8" fill="url(#h0)"/><circle cx="430.5" cy="244.8" r="3.9" fill="url(#h0)"/><circle cx="356.5" cy="213.2" r="4.0" fill="url(#h0)"/><circle cx="304.6" cy="362.9" r="3.1" fill="url(#h0)"/><circle cx="373.5" cy="298.7" r="3.6" fill="url(#h0)"/><circle cx="278.7" cy="357.5" r="3.6" fill="url(#h0)"/><circle cx="419.9" cy="291.9" r="3.5" fill="url(#h0)"/><circle cx="315.6" cy="377.3" r="3.3" fill="url(#h0)"/><circle cx="340.7" cy="343.4" r="4.1" fill="url(#h0)"/><circle cx="358.6" cy="377.9" r="4.2" fill="url(#h0)"/><circle cx="298.0" cy="381.7" r="3.1" fill="url(#h0)"/><circle cx="309.5" cy="342.7" r="4.0" fill="url(#h0)"/><circle cx="375.4" cy="282.8" r="4.1" fill="url(#h0)"/><circle cx="415.8" cy="280.8" r="3.5" fill="url(#h0)"/><circle cx="438.8" cy="248.6" r="3.6" fill="url(#h0)"/><circle cx="288.5" cy="333.2" r="3.7" fill="url(#h0)"/><circle cx="368.9" cy="212.5" r="3.9" fill="url(#h0)"/><circle cx="416.8" cy="307.5" r="4.0" fill="url(#h0)"/><circle cx="346.2" cy="269.2" r="3.8" fill="url(#h0)"/><circle cx="348.3" cy="333.9" r="4.1" fill="url(#h0)"/><circle cx="411.8" cy="278.3" r="3.3" fill="url(#h0)"/><circle cx="308.8" cy="244.5" r="3.7" fill="url(#h0)"/><circle cx="368.9" cy="262.7" r="3.6" fill="url(#h0)"/><circle cx="438.2" cy="297.8" r="3.8" fill="url(#h0)"/><circle cx="426.4" cy="284.3" r="3.3" fill="url(#h0)"/><circle cx="344.6" cy="271.8" r="4.0" fill="url(#h0)"/><circle cx="369.9" cy="206.1" r="3.2" fill="url(#h0)"/><circle cx="346.0" cy="358.6" r="3.5" fill="url(#h0)"/><circle cx="315.1" cy="353.8" r="4.0" fill="url(#h0)"/><circle cx="272.6" cy="347.8" r="3.2" fill="url(#h0)"/><circle cx="344.2" cy="264.2" r="3.5" fill="url(#h0)"/><circle cx="383.7" cy="285.7" r="3.7" fill="url(#h0)"/><circle cx="389.0" cy="335.9" r="4.0" fill="url(#h0)"/><circle cx="329.5" cy="373.9" r="4.2" fill="url(#h0)"/><circle cx="356.1" cy="378.9" r="3.9" fill="url(#h0)"/><circle cx="374.9" cy="353.3" r="3.2" fill="url(#h0)"/><circle cx="377.0" cy="207.3" r="3.8" fill="url(#h0)"/><circle cx="439.9" cy="227.6" r="3.8" fill="url(#h0)"/><circle cx="279.3" cy="353.4" r="3.7" fill="url(#h0)"/><circle cx="297.3" cy="270.0" r="3.4" fill="url(#h0)"/><circle cx="309.1" cy="298.4" r="3.8" fill="url(#h0)"/><circle cx="396.1" cy="357.0" r="3.7" fill="url(#h0)"/><circle cx="388.8" cy="209.5" r="4.0" fill="url(#h0)"/><circle cx="314.3" cy="342.9" r="3.3" fill="url(#h0)"/><circle cx="300.1" cy="253.4" r="3.4" fill="url(#h0)"/><circle cx="344.1" cy="349.3" r="3.7" fill="url(#h0)"/><circle cx="393.2" cy="305.8" r="3.4" fill="url(#h0)"/><circle cx="267.8" cy="283.2" r="3.9" fill="url(#h0)"/><circle cx="377.3" cy="236.3" r="3.4" fill="url(#h0)"/><circle cx="409.0" cy="358.6" r="3.8" fill="url(#h0)"/><circle cx="348.1" cy="283.0" r="3.2" fill="url(#h0)"/><circle cx="376.0" cy="218.6" r="3.1" fill="url(#h0)"/><circle cx="374.3" cy="269.6" r="4.1" fill="url(#h0)"/><circle cx="312.9" cy="233.0" r="3.9" fill="url(#h0)"/><circle cx="328.9" cy="277.4" r="3.3" fill="url(#h0)"/><circle cx="276.8" cy="327.1" r="3.7" fill="url(#h0)"/><circle cx="361.1" cy="278.7" r="3.2" fill="url(#h0)"/><circle cx="402.5" cy="208.5" r="3.7" fill="url(#h0)"/><circle cx="269.3" cy="324.9" r="4.0" fill="url(#h0)"/><circle cx="320.0" cy="268.5" r="3.8" fill="url(#h0)"/><circle cx="369.6" cy="322.0" r="4.1" fill="url(#h0)"/><circle cx="389.4" cy="304.3" r="3.7" fill="url(#h0)"/><circle cx="424.2" cy="237.1" r="4.1" fill="url(#h0)"/><circle cx="297.8" cy="361.7" r="3.4" fill="url(#h0)"/><circle cx="319.3" cy="296.8" r="3.5" fill="url(#h0)"/><circle cx="367.3" cy="334.1" r="3.4" fill="url(#h0)"/><circle cx="341.6" cy="269.8" r="3.6" fill="url(#h1)"/><circle cx="421.5" cy="268.8" r="3.9" fill="url(#h1)"/><circle cx="399.0" cy="307.1" r="3.6" fill="url(#h1)"/><circle cx="305.2" cy="359.8" r="3.4" fill="url(#h1)"/><circle cx="286.3" cy="222.9" r="3.4" fill="url(#h1)"/><circle cx="319.5" cy="363.3" r="3.2" fill="url(#h1)"/><circle cx="330.4" cy="314.9" r="3.1" fill="url(#h1)"/><circle cx="400.5" cy="223.9" r="3.3" fill="url(#h1)"/><circle cx="411.7" cy="298.9" r="3.8" fill="url(#h1)"/><circle cx="368.4" cy="351.2" r="3.7" fill="url(#h1)"/><circle cx="392.4" cy="350.5" r="4.0" fill="url(#h1)"/><circle cx="436.3" cy="355.3" r="4.1" fill="url(#h1)"/><circle cx="420.3" cy="259.4" r="3.3" fill="url(#h1)"/><circle cx="406.5" cy="206.8" r="3.3" fill="url(#h1)"/><circle cx="435.7" cy="377.3" r="3.5" fill="url(#h1)"/><circle cx="334.2" cy="231.9" r="3.4" fill="url(#h1)"/><circle cx="369.1" cy="273.6" r="3.9" fill="url(#h1)"/><circle cx="389.2" cy="289.0" r="3.2" fill="url(#h1)"/><circle cx="367.9" cy="298.1" r="4.1" fill="url(#h1)"/><circle cx="326.4" cy="213.5" r="3.3" fill="url(#h1)"/><circle cx="355.3" cy="372.1" r="3.9" fill="url(#h1)"/><circle cx="360.1" cy="264.4" r="3.2" fill="url(#h1)"/><circle cx="292.4" cy="289.6" r="4.1" fill="url(#h1)"/><circle cx="411.5" cy="250.6" r="3.5" fill="url(#h1)"/><circle cx="347.4" cy="289.5" r="3.4" fill="url(#h1)"/><circle cx="418.5" cy="209.2" r="4.2" fill="url(#h1)"/><circle cx="358.3" cy="358.9" r="3.8" fill="url(#h1)"/><circle cx="302.2" cy="271.8" r="3.6" fill="url(#h1)"/><circle cx="305.4" cy="321.7" r="3.4" fill="url(#h1)"/><circle cx="339.5" cy="249.6" r="4.1" fill="url(#h1)"/><circle cx="437.6" cy="241.2" r="3.7" fill="url(#h1)"/><circle cx="313.6" cy="268.2" r="3.5" fill="url(#h1)"/><circle cx="408.7" cy="254.5" r="3.8" fill="url(#h1)"/><circle cx="274.0" cy="221.2" r="3.6" fill="url(#h1)"/><circle cx="393.5" cy="288.2" r="3.5" fill="url(#h1)"/><circle cx="365.4" cy="271.2" r="3.8" fill="url(#h1)"/><circle cx="321.2" cy="301.1" r="4.0" fill="url(#h1)"/><circle cx="357.1" cy="277.9" r="3.6" fill="url(#h1)"/><circle cx="324.0" cy="368.0" r="3.7" fill="url(#h1)"/><circle cx="387.6" cy="311.4" r="3.4" fill="url(#h1)"/><circle cx="370.2" cy="253.5" r="3.6" fill="url(#h1)"/><circle cx="272.0" cy="226.8" r="3.8" fill="url(#h1)"/><circle cx="326.5" cy="377.5" r="3.5" fill="url(#h1)"/><circle cx="436.3" cy="305.1" r="3.7" fill="url(#h1)"/><circle cx="335.8" cy="350.6" r="4.2" fill="url(#h1)"/><circle cx="338.8" cy="330.1" r="3.9" fill="url(#h1)"/><circle cx="418.1" cy="336.3" r="3.3" fill="url(#h1)"/><circle cx="426.0" cy="241.1" r="3.1" fill="url(#h1)"/><circle cx="399.2" cy="352.7" r="3.3" fill="url(#h1)"/><circle cx="308.9" cy="211.0" r="3.9" fill="url(#h1)"/><circle cx="323.6" cy="220.1" r="4.0" fill="url(#h1)"/><circle cx="382.8" cy="221.8" r="3.2" fill="url(#h1)"/><circle cx="287.3" cy="211.9" r="3.5" fill="url(#h1)"/><circle cx="429.4" cy="227.4" r="3.2" fill="url(#h1)"/><circle cx="279.5" cy="340.0" r="3.9" fill="url(#h1)"/><circle cx="332.0" cy="358.5" r="4.0" fill="url(#h1)"/><circle cx="339.1" cy="235.4" r="3.4" fill="url(#h1)"/><circle cx="346.1" cy="315.7" r="3.5" fill="url(#h1)"/><circle cx="411.0" cy="308.4" r="3.7" fill="url(#h1)"/><circle cx="347.7" cy="256.5" r="4.0" fill="url(#h1)"/><circle cx="286.3" cy="230.8" r="3.6" fill="url(#h1)"/><circle cx="408.8" cy="233.8" r="4.0" fill="url(#h1)"/><circle cx="370.7" cy="287.5" r="3.5" fill="url(#h1)"/><circle cx="414.8" cy="268.8" r="3.7" fill="url(#h1)"/><circle cx="290.5" cy="319.9" r="3.2" fill="url(#h1)"/><circle cx="440.9" cy="216.3" r="3.4" fill="url(#h1)"/><circle cx="364.6" cy="339.9" r="3.6" fill="url(#h1)"/><circle cx="419.3" cy="357.8" r="4.0" fill="url(#h1)"/><circle cx="279.5" cy="330.7" r="3.7" fill="url(#h1)"/><circle cx="399.2" cy="237.0" r="3.8" fill="url(#h1)"/><circle cx="281.1" cy="362.3" r="3.4" fill="url(#h1)"/><circle cx="310.8" cy="321.2" r="3.1" fill="url(#h1)"/><circle cx="301.8" cy="367.0" r="4.2" fill="url(#h1)"/><circle cx="337.4" cy="227.0" r="3.6" fill="url(#h1)"/><circle cx="335.4" cy="294.5" r="4.2" fill="url(#h1)"/><circle cx="363.5" cy="362.0" r="3.4" fill="url(#h1)"/><circle cx="419.5" cy="318.6" r="3.1" fill="url(#h1)"/><circle cx="440.9" cy="367.0" r="3.6" fill="url(#h1)"/><circle cx="317.4" cy="250.5" r="3.5" fill="url(#h1)"/><circle cx="392.1" cy="278.2" r="3.4" fill="url(#h1)"/><circle cx="347.6" cy="278.0" r="3.6" fill="url(#h1)"/><circle cx="285.9" cy="268.8" r="3.9" fill="url(#h1)"/><circle cx="275.0" cy="298.2" r="4.1" fill="url(#h1)"/><circle cx="302.8" cy="295.7" r="3.7" fill="url(#h1)"/><circle cx="279.9" cy="273.0" r="3.3" fill="url(#h1)"/><circle cx="401.8" cy="274.3" r="3.5" fill="url(#h1)"/><circle cx="437.9" cy="334.6" r="3.7" fill="url(#h1)"/><circle cx="280.0" cy="376.1" r="3.2" fill="url(#h1)"/><circle cx="349.8" cy="324.3" r="3.5" fill="url(#h1)"/><circle cx="429.5" cy="236.2" r="3.7" fill="url(#h1)"/><circle cx="281.9" cy="342.1" r="3.8" fill="url(#h1)"/><circle cx="277.1" cy="317.0" r="3.7" fill="url(#h1)"/><circle cx="375.0" cy="357.8" r="4.1" fill="url(#h1)"/><circle cx="335.9" cy="288.0" r="3.3" fill="url(#h1)"/><circle cx="306.1" cy="290.1" r="3.8" fill="url(#h1)"/><circle cx="310.5" cy="349.7" r="3.9" fill="url(#h1)"/><circle cx="426.6" cy="349.1" r="3.9" fill="url(#h1)"/><circle cx="343.9" cy="217.6" r="3.6" fill="url(#h1)"/><circle cx="281.9" cy="228.5" r="3.3" fill="url(#h1)"/><circle cx="359.6" cy="347.6" r="3.7" fill="url(#h1)"/><circle cx="372.6" cy="241.1" r="4.2" fill="url(#h1)"/><circle cx="405.3" cy="298.5" r="3.9" fill="url(#h1)"/><circle cx="419.6" cy="287.3" r="3.2" fill="url(#h1)"/><circle cx="277.5" cy="262.1" r="3.5" fill="url(#h1)"/><circle cx="331.5" cy="251.4" r="3.5" fill="url(#h1)"/><circle cx="385.6" cy="313.9" r="3.2" fill="url(#h1)"/><circle cx="361.1" cy="288.3" r="3.8" fill="url(#h1)"/><circle cx="269.8" cy="261.0" r="4.2" fill="url(#h1)"/><circle cx="289.3" cy="213.5" r="3.7" fill="url(#h1)"/><circle cx="392.8" cy="263.4" r="3.2" fill="url(#h1)"/><circle cx="395.2" cy="324.1" r="3.6" fill="url(#h1)"/><circle cx="269.0" cy="245.6" r="3.4" fill="url(#h1)"/><circle cx="299.5" cy="290.4" r="3.7" fill="url(#h1)"/><circle cx="294.2" cy="247.0" r="4.2" fill="url(#h1)"/><circle cx="267.1" cy="330.3" r="3.6" fill="url(#h1)"/><circle cx="428.1" cy="372.1" r="3.4" fill="url(#h1)"/><circle cx="338.9" cy="245.9" r="4.1" fill="url(#h1)"/><circle cx="312.2" cy="358.0" r="3.4" fill="url(#h1)"/><circle cx="425.7" cy="276.6" r="3.1" fill="url(#h1)"/><circle cx="288.3" cy="376.8" r="3.9" fill="url(#h1)"/><circle cx="338.6" cy="282.8" r="3.7" fill="url(#h1)"/><circle cx="269.4" cy="296.9" r="3.6" fill="url(#h1)"/><circle cx="414.0" cy="377.2" r="3.7" fill="url(#h1)"/><circle cx="294.0" cy="231.5" r="3.5" fill="url(#h1)"/><circle cx="305.1" cy="255.5" r="3.9" fill="url(#h1)"/><circle cx="343.5" cy="211.3" r="3.5" fill="url(#h1)"/><circle cx="422.5" cy="311.0" r="4.1" fill="url(#h1)"/><circle cx="324.2" cy="306.2" r="4.1" fill="url(#h1)"/><circle cx="378.9" cy="239.3" r="3.7" fill="url(#h1)"/><circle cx="331.5" cy="311.5" r="3.4" fill="url(#h1)"/><circle cx="298.6" cy="307.0" r="3.7" fill="url(#h1)"/><circle cx="427.0" cy="334.6" r="3.2" fill="url(#h1)"/><circle cx="366.5" cy="315.5" r="4.0" fill="url(#h1)"/><circle cx="329.9" cy="352.6" r="3.6" fill="url(#h1)"/><circle cx="344.5" cy="247.5" r="3.7" fill="url(#h1)"/><circle cx="377.0" cy="347.7" r="3.2" fill="url(#h1)"/><circle cx="287.5" cy="251.1" r="4.0" fill="url(#h1)"/><circle cx="302.2" cy="342.8" r="4.2" fill="url(#h1)"/><circle cx="352.6" cy="269.2" r="4.1" fill="url(#h1)"/><circle cx="310.9" cy="330.4" r="3.8" fill="url(#h1)"/><circle cx="433.9" cy="246.4" r="3.2" fill="url(#h1)"/><circle cx="400.6" cy="363.3" r="3.7" fill="url(#h1)"/><circle cx="405.1" cy="279.4" r="4.0" fill="url(#h1)"/><circle cx="283.6" cy="292.9" r="3.7" fill="url(#h1)"/><circle cx="301.4" cy="246.1" r="3.2" fill="url(#h1)"/><circle cx="373.6" cy="380.2" r="3.7" fill="url(#h1)"/><circle cx="345.3" cy="371.2" r="4.1" fill="url(#h1)"/><circle cx="301.9" cy="270.5" r="3.9" fill="url(#h1)"/><circle cx="373.9" cy="249.4" r="3.3" fill="url(#h1)"/><circle cx="327.3" cy="366.5" r="4.0" fill="url(#h1)"/><circle cx="435.5" cy="226.0" r="3.9" fill="url(#h1)"/><circle cx="394.0" cy="357.0" r="3.3" fill="url(#h1)"/><circle cx="267.6" cy="358.1" r="3.3" fill="url(#h1)"/><circle cx="371.1" cy="292.4" r="3.8" fill="url(#h1)"/><circle cx="373.2" cy="361.4" r="3.1" fill="url(#h1)"/><circle cx="271.7" cy="237.4" r="3.1" fill="url(#h1)"/><circle cx="278.3" cy="300.9" r="3.3" fill="url(#h1)"/><circle cx="300.5" cy="232.1" r="3.3" fill="url(#h1)"/><circle cx="432.1" cy="343.1" r="3.2" fill="url(#h1)"/><circle cx="281.1" cy="277.5" r="3.2" fill="url(#h1)"/><circle cx="296.6" cy="375.6" r="3.7" fill="url(#h2)"/><circle cx="291.3" cy="224.1" r="3.1" fill="url(#h2)"/><circle cx="352.4" cy="321.0" r="3.7" fill="url(#h2)"/><circle cx="423.2" cy="230.4" r="3.1" fill="url(#h2)"/><circle cx="434.4" cy="259.5" r="3.9" fill="url(#h2)"/><circle cx="325.7" cy="297.0" r="3.3" fill="url(#h2)"/><circle cx="417.5" cy="283.5" r="4.1" fill="url(#h2)"/><circle cx="308.4" cy="267.7" r="3.7" fill="url(#h2)"/><circle cx="318.9" cy="352.2" r="3.7" fill="url(#h2)"/><circle cx="415.6" cy="259.9" r="3.9" fill="url(#h2)"/><circle cx="295.3" cy="228.3" r="3.5" fill="url(#h2)"/><circle cx="286.8" cy="299.3" r="3.3" fill="url(#h2)"/><circle cx="295.6" cy="369.8" r="3.9" fill="url(#h2)"/><circle cx="288.2" cy="303.1" r="3.8" fill="url(#h2)"/><circle cx="394.2" cy="344.1" r="4.2" fill="url(#h2)"/><circle cx="352.4" cy="288.6" r="4.1" fill="url(#h2)"/><circle cx="365.0" cy="320.8" r="3.7" fill="url(#h2)"/><circle cx="293.6" cy="330.3" r="4.1" fill="url(#h2)"/><circle cx="298.2" cy="260.4" r="4.2" fill="url(#h2)"/><circle cx="411.1" cy="372.3" r="3.5" fill="url(#h2)"/><circle cx="407.4" cy="301.3" r="3.6" fill="url(#h2)"/><circle cx="385.1" cy="382.6" r="3.7" fill="url(#h2)"/><circle cx="419.1" cy="224.1" r="4.1" fill="url(#h2)"/><circle cx="390.4" cy="364.1" r="3.5" fill="url(#h2)"/><circle cx="305.7" cy="236.0" r="3.5" fill="url(#h2)"/><circle cx="358.8" cy="310.6" r="3.9" fill="url(#h2)"/><circle cx="396.9" cy="218.2" r="4.1" fill="url(#h2)"/><circle cx="352.1" cy="283.0" r="3.7" fill="url(#h2)"/><circle cx="394.7" cy="257.7" r="3.8" fill="url(#h2)"/><circle cx="363.9" cy="260.0" r="3.5" fill="url(#h2)"/><circle cx="393.9" cy="241.8" r="3.4" fill="url(#h2)"/><circle cx="275.4" cy="211.3" r="3.6" fill="url(#h2)"/><circle cx="412.9" cy="217.7" r="3.3" fill="url(#h2)"/><circle cx="270.9" cy="240.8" r="3.2" fill="url(#h2)"/><circle cx="330.6" cy="244.8" r="3.2" fill="url(#h2)"/><circle cx="267.8" cy="307.5" r="3.3" fill="url(#h2)"/><circle cx="405.2" cy="306.2" r="4.1" fill="url(#h2)"/><circle cx="392.6" cy="320.7" r="3.2" fill="url(#h2)"/><circle cx="352.1" cy="360.7" r="4.1" fill="url(#h2)"/><circle cx="410.4" cy="212.9" r="3.8" fill="url(#h2)"/><circle cx="327.3" cy="244.7" r="3.8" fill="url(#h2)"/><circle cx="351.2" cy="352.3" r="3.7" fill="url(#h2)"/><circle cx="416.1" cy="362.7" r="3.9" fill="url(#h2)"/><circle cx="386.5" cy="371.1" r="3.3" fill="url(#h2)"/><circle cx="376.2" cy="280.4" r="3.7" fill="url(#h2)"/><circle cx="293.6" cy="261.9" r="3.9" fill="url(#h2)"/><circle cx="426.8" cy="259.3" r="3.5" fill="url(#h2)"/><circle cx="321.3" cy="235.4" r="4.2" fill="url(#h2)"/><circle cx="308.1" cy="353.6" r="3.5" fill="url(#h2)"/><circle cx="379.0" cy="343.2" r="3.2" fill="url(#h2)"/><circle cx="319.2" cy="315.1" r="3.4" fill="url(#h2)"/><circle cx="435.3" cy="312.2" r="3.6" fill="url(#h2)"/><circle cx="358.6" cy="255.6" r="3.6" fill="url(#h2)"/><circle cx="299.6" cy="278.4" r="3.2" fill="url(#h2)"/><circle cx="403.7" cy="226.8" r="3.6" fill="url(#h2)"/><circle cx="313.8" cy="362.0" r="3.7" fill="url(#h2)"/><circle cx="341.0" cy="260.2" r="3.1" fill="url(#h2)"/><circle cx="308.9" cy="255.7" r="3.7" fill="url(#h2)"/><circle cx="296.4" cy="312.5" r="3.5" fill="url(#h2)"/><circle cx="292.1" cy="258.4" r="3.8" fill="url(#h2)"/><circle cx="348.2" cy="357.2" r="3.1" fill="url(#h2)"/><circle cx="316.1" cy="367.9" r="3.2" fill="url(#h2)"/><circle cx="301.7" cy="350.6" r="3.8" fill="url(#h2)"/><circle cx="346.0" cy="297.0" r="4.1" fill="url(#h2)"/><circle cx="333.5" cy="381.9" r="3.6" fill="url(#h2)"/><circle cx="303.6" cy="335.5" r="3.4" fill="url(#h2)"/><circle cx="435.6" cy="320.4" r="3.9" fill="url(#h2)"/><circle cx="275.8" cy="232.4" r="3.3" fill="url(#h2)"/><circle cx="334.9" cy="316.6" r="3.2" fill="url(#h2)"/><circle cx="356.6" cy="297.5" r="3.8" fill="url(#h2)"/><circle cx="432.5" cy="286.3" r="3.8" fill="url(#h2)"/><circle cx="351.9" cy="221.8" r="3.6" fill="url(#h2)"/><circle cx="363.8" cy="325.9" r="3.5" fill="url(#h2)"/><circle cx="292.4" cy="345.0" r="3.9" fill="url(#h2)"/><circle cx="352.7" cy="306.4" r="3.8" fill="url(#h2)"/><circle cx="407.7" cy="265.5" r="3.4" fill="url(#h2)"/><circle cx="277.1" cy="246.4" r="3.6" fill="url(#h2)"/><circle cx="373.7" cy="317.3" r="3.3" fill="url(#h2)"/><circle cx="347.6" cy="236.9" r="3.3" fill="url(#h2)"/><circle cx="330.3" cy="239.5" r="3.6" fill="url(#h2)"/><circle cx="398.4" cy="302.4" r="3.6" fill="url(#h2)"/><circle cx="361.7" cy="269.7" r="3.2" fill="url(#h2)"/><circle cx="413.5" cy="256.1" r="3.7" fill="url(#h2)"/><circle cx="383.0" cy="352.7" r="3.7" fill="url(#h2)"/><circle cx="358.4" cy="272.4" r="3.9" fill="url(#h2)"/><circle cx="357.1" cy="286.6" r="3.5" fill="url(#h2)"/><circle cx="332.7" cy="236.3" r="4.2" fill="url(#h2)"/><circle cx="363.0" cy="230.7" r="3.9" fill="url(#h2)"/><circle cx="406.1" cy="213.4" r="3.3" fill="url(#h2)"/><circle cx="324.5" cy="373.0" r="4.1" fill="url(#h2)"/><circle cx="442.8" cy="311.2" r="3.8" fill="url(#h2)"/><circle cx="353.5" cy="246.1" r="4.0" fill="url(#h2)"/><circle cx="270.4" cy="381.0" r="3.7" fill="url(#h2)"/><circle cx="438.4" cy="348.6" r="3.6" fill="url(#h2)"/><circle cx="384.9" cy="230.2" r="3.3" fill="url(#h2)"/><circle cx="372.2" cy="284.6" r="3.8" fill="url(#h2)"/><circle cx="410.8" cy="226.8" r="3.6" fill="url(#h2)"/><circle cx="442.2" cy="292.8" r="3.9" fill="url(#h2)"/><circle cx="412.4" cy="367.0" r="3.1" fill="url(#h2)"/><circle cx="270.9" cy="231.9" r="4.1" fill="url(#h2)"/><circle cx="404.7" cy="250.0" r="3.2" fill="url(#h2)"/><circle cx="427.3" cy="344.2" r="4.1" fill="url(#h2)"/><circle cx="357.1" cy="259.0" r="3.7" fill="url(#h2)"/><circle cx="437.2" cy="229.9" r="3.6" fill="url(#h2)"/><circle cx="394.8" cy="236.1" r="3.4" fill="url(#h2)"/><circle cx="363.3" cy="254.8" r="3.9" fill="url(#h2)"/><circle cx="423.8" cy="303.1" r="4.0" fill="url(#h2)"/><circle cx="426.9" cy="222.9" r="3.2" fill="url(#h2)"/><circle cx="323.9" cy="240.6" r="3.5" fill="url(#h2)"/><circle cx="388.5" cy="249.7" r="3.5" fill="url(#h2)"/><circle cx="381.6" cy="208.3" r="4.0" fill="url(#h2)"/><circle cx="324.9" cy="333.8" r="3.7" fill="url(#h2)"/><circle cx="429.6" cy="311.8" r="3.5" fill="url(#h2)"/><circle cx="436.7" cy="237.5" r="4.1" fill="url(#h2)"/><circle cx="437.1" cy="316.4" r="3.4" fill="url(#h2)"/><circle cx="358.4" cy="302.0" r="3.7" fill="url(#h2)"/><circle cx="306.5" cy="264.2" r="3.6" fill="url(#h2)"/><circle cx="422.6" cy="278.4" r="4.0" fill="url(#h2)"/><circle cx="401.2" cy="256.4" r="3.7" fill="url(#h2)"/><circle cx="368.1" cy="362.1" r="4.1" fill="url(#h2)"/><circle cx="317.8" cy="265.2" r="4.1" fill="url(#h2)"/><circle cx="285.1" cy="208.9" r="3.7" fill="url(#h2)"/><circle cx="353.7" cy="273.6" r="3.8" fill="url(#h2)"/><circle cx="296.8" cy="232.1" r="3.5" fill="url(#h2)"/><circle cx="301.0" cy="348.4" r="3.1" fill="url(#h2)"/><circle cx="281.2" cy="316.2" r="3.3" fill="url(#h2)"/><circle cx="435.2" cy="340.7" r="4.2" fill="url(#h2)"/><circle cx="389.8" cy="354.0" r="3.8" fill="url(#h2)"/><circle cx="421.2" cy="368.2" r="3.9" fill="url(#h2)"/><circle cx="410.8" cy="240.2" r="3.6" fill="url(#h2)"/><circle cx="326.2" cy="338.7" r="4.1" fill="url(#h2)"/><circle cx="344.3" cy="255.9" r="4.1" fill="url(#h2)"/><circle cx="324.7" cy="329.1" r="4.1" fill="url(#h2)"/><circle cx="353.9" cy="255.9" r="4.0" fill="url(#h2)"/><circle cx="296.6" cy="352.7" r="3.9" fill="url(#h2)"/><circle cx="289.5" cy="291.6" r="4.0" fill="url(#h2)"/><circle cx="399.3" cy="259.1" r="3.3" fill="url(#h2)"/><circle cx="358.0" cy="325.1" r="3.2" fill="url(#h2)"/><circle cx="310.5" cy="375.9" r="4.1" fill="url(#h2)"/><circle cx="401.6" cy="377.5" r="3.4" fill="url(#h2)"/><circle cx="426.7" cy="298.0" r="4.2" fill="url(#h2)"/><circle cx="341.0" cy="222.8" r="3.8" fill="url(#h2)"/><circle cx="393.5" cy="256.1" r="3.8" fill="url(#h2)"/><circle cx="437.3" cy="267.4" r="3.2" fill="url(#h2)"/><circle cx="438.7" cy="214.6" r="3.4" fill="url(#h2)"/><circle cx="283.1" cy="330.1" r="4.0" fill="url(#h2)"/><circle cx="273.2" cy="300.6" r="3.4" fill="url(#h2)"/><circle cx="420.0" cy="329.6" r="3.8" fill="url(#h2)"/><circle cx="396.2" cy="329.9" r="3.6" fill="url(#h2)"/><circle cx="332.5" cy="346.8" r="3.8" fill="url(#h2)"/><circle cx="350.9" cy="231.9" r="4.2" fill="url(#h2)"/><circle cx="309.7" cy="278.3" r="3.7" fill="url(#h2)"/><circle cx="273.8" cy="273.9" r="3.9" fill="url(#h2)"/><circle cx="387.9" cy="283.8" r="3.2" fill="url(#h2)"/><circle cx="405.6" cy="333.5" r="3.6" fill="url(#h2)"/><circle cx="316.7" cy="301.9" r="4.0" fill="url(#h2)"/><circle cx="362.9" cy="241.3" r="3.8" fill="url(#h2)"/><circle cx="309.3" cy="245.4" r="3.6" fill="url(#h2)"/><circle cx="305.6" cy="348.4" r="3.6" fill="url(#h2)"/><circle cx="272.8" cy="375.5" r="3.8" fill="url(#h2)"/><circle cx="297.0" cy="296.3" r="4.2" fill="url(#h2)"/><circle cx="363.4" cy="216.6" r="3.9" fill="url(#h2)"/><circle cx="308.5" cy="240.5" r="3.6" fill="url(#h2)"/><circle cx="433.8" cy="353.3" r="3.9" fill="url(#h2)"/><circle cx="323.8" cy="338.1" r="4.2" fill="url(#h2)"/><circle cx="277.1" cy="261.1" r="3.7" fill="url(#h2)"/><circle cx="345.1" cy="227.8" r="3.5" fill="url(#h2)"/><circle cx="414.1" cy="311.7" r="3.6" fill="url(#h2)"/><circle cx="290.5" cy="336.8" r="3.9" fill="url(#h2)"/><circle cx="331.1" cy="321.5" r="3.5" fill="url(#h2)"/><circle cx="423.1" cy="222.1" r="3.4" fill="url(#h2)"/><circle cx="273.5" cy="217.5" r="3.4" fill="url(#h2)"/><circle cx="382.1" cy="235.2" r="3.6" fill="url(#h2)"/><circle cx="377.2" cy="244.2" r="3.2" fill="url(#h2)"/><circle cx="329.5" cy="269.6" r="3.9" fill="url(#h2)"/><circle cx="335.9" cy="305.9" r="3.3" fill="url(#h2)"/><circle cx="387.3" cy="274.4" r="3.2" fill="url(#h2)"/><circle cx="433.7" cy="250.0" r="3.7" fill="url(#h2)"/><circle cx="393.9" cy="381.8" r="4.2" fill="url(#h2)"/><circle cx="381.4" cy="292.5" r="3.8" fill="url(#h2)"/><circle cx="434.6" cy="255.9" r="3.8" fill="url(#h2)"/><circle cx="377.6" cy="269.9" r="3.7" fill="url(#h2)"/><circle cx="272.7" cy="367.1" r="3.7" fill="url(#h2)"/><circle cx="330.4" cy="360.7" r="3.7" fill="url(#h2)"/><circle cx="346.8" cy="361.9" r="4.0" fill="url(#h2)"/><circle cx="292.7" cy="293.2" r="3.3" fill="url(#h2)"/><circle cx="413.1" cy="297.4" r="3.4" fill="url(#h2)"/><circle cx="281.9" cy="367.5" r="3.8" fill="url(#h2)"/><circle cx="371.1" cy="231.8" r="3.9" fill="url(#h2)"/><circle cx="353.1" cy="371.5" r="3.6" fill="url(#h2)"/><circle cx="300.3" cy="306.9" r="3.7" fill="url(#h2)"/><circle cx="384.3" cy="303.0" r="3.1" fill="url(#h2)"/><circle cx="311.2" cy="219.3" r="3.8" fill="url(#h2)"/><circle cx="316.0" cy="217.1" r="4.0" fill="url(#h2)"/><circle cx="388.1" cy="339.4" r="3.9" fill="url(#h2)"/><circle cx="412.1" cy="222.5" r="4.0" fill="url(#h2)"/><circle cx="310.3" cy="207.6" r="3.8" fill="url(#h2)"/><circle cx="384.3" cy="343.2" r="3.3" fill="url(#h2)"/><circle cx="429.6" cy="368.2" r="4.0" fill="url(#h2)"/><circle cx="311.6" cy="339.1" r="4.1" fill="url(#h2)"/><circle cx="387.9" cy="356.4" r="4.2" fill="url(#h2)"/><circle cx="431.8" cy="315.6" r="3.5" fill="url(#h2)"/><circle cx="360.4" cy="321.4" r="3.9" fill="url(#h2)"/><circle cx="278.7" cy="218.8" r="3.6" fill="url(#h2)"/><circle cx="280.3" cy="319.7" r="3.5" fill="url(#h2)"/><circle cx="281.6" cy="297.4" r="3.9" fill="url(#h2)"/><circle cx="300.2" cy="332.0" r="3.5" fill="url(#h2)"/><circle cx="430.1" cy="320.9" r="3.4" fill="url(#h2)"/><circle cx="306.6" cy="362.6" r="4.0" fill="url(#h2)"/><circle cx="403.8" cy="310.5" r="3.6" fill="url(#h2)"/><circle cx="404.2" cy="348.6" r="4.1" fill="url(#h2)"/><circle cx="433.6" cy="324.4" r="3.5" fill="url(#h2)"/><circle cx="318.2" cy="261.1" r="3.5" fill="url(#h2)"/><circle cx="398.6" cy="206.7" r="3.8" fill="url(#h2)"/><circle cx="430.8" cy="293.7" r="3.5" fill="url(#h2)"/><circle cx="373.7" cy="336.6" r="3.2" fill="url(#h2)"/><circle cx="419.6" cy="237.1" r="3.4" fill="url(#h2)"/><circle cx="317.9" cy="272.4" r="3.8" fill="url(#h2)"/><circle cx="354.1" cy="264.1" r="3.3" fill="url(#h2)"/><circle cx="343.6" cy="290.6" r="3.7" fill="url(#h3)"/><circle cx="432.7" cy="369.4" r="3.8" fill="url(#h3)"/><circle cx="316.9" cy="338.5" r="3.1" fill="url(#h3)"/><circle cx="288.1" cy="326.9" r="3.6" fill="url(#h3)"/><circle cx="416.6" cy="296.8" r="3.5" fill="url(#h3)"/><circle cx="409.7" cy="346.1" r="3.6" fill="url(#h3)"/><circle cx="438.8" cy="382.4" r="3.4" fill="url(#h3)"/><circle cx="382.3" cy="366.3" r="3.7" fill="url(#h3)"/><circle cx="309.4" cy="288.0" r="3.7" fill="url(#h3)"/><circle cx="393.6" cy="216.0" r="4.0" fill="url(#h3)"/><circle cx="430.0" cy="273.6" r="4.0" fill="url(#h3)"/><circle cx="429.4" cy="266.2" r="4.1" fill="url(#h3)"/><circle cx="406.2" cy="260.2" r="3.8" fill="url(#h3)"/><circle cx="340.8" cy="317.0" r="3.8" fill="url(#h3)"/><circle cx="392.3" cy="378.2" r="3.5" fill="url(#h3)"/><circle cx="293.2" cy="278.9" r="4.1" fill="url(#h3)"/><circle cx="363.6" cy="251.7" r="3.8" fill="url(#h3)"/><circle cx="313.3" cy="369.4" r="3.3" fill="url(#h3)"/><circle cx="287.8" cy="308.8" r="3.2" fill="url(#h3)"/><circle cx="281.5" cy="381.2" r="3.6" fill="url(#h3)"/><circle cx="354.1" cy="349.7" r="3.7" fill="url(#h3)"/><circle cx="319.1" cy="221.7" r="3.7" fill="url(#h3)"/><circle cx="420.0" cy="217.2" r="3.5" fill="url(#h3)"/><circle cx="407.3" cy="328.4" r="3.3" fill="url(#h3)"/><circle cx="288.1" cy="217.0" r="4.1" fill="url(#h3)"/><circle cx="303.7" cy="325.9" r="3.5" fill="url(#h3)"/><circle cx="283.7" cy="325.5" r="4.1" fill="url(#h3)"/><circle cx="350.6" cy="260.8" r="4.0" fill="url(#h3)"/><circle cx="351.1" cy="367.0" r="3.9" fill="url(#h3)"/><circle cx="380.5" cy="245.8" r="3.9" fill="url(#h3)"/><circle cx="282.4" cy="347.7" r="3.8" fill="url(#h3)"/><circle cx="436.4" cy="365.1" r="3.7" fill="url(#h3)"/><circle cx="349.2" cy="378.7" r="3.5" fill="url(#h3)"/><circle cx="349.4" cy="311.4" r="3.4" fill="url(#h3)"/><circle cx="306.4" cy="227.9" r="4.1" fill="url(#h3)"/><circle cx="316.5" cy="282.4" r="3.9" fill="url(#h3)"/><circle cx="321.1" cy="239.3" r="4.0" fill="url(#h3)"/><circle cx="332.4" cy="366.6" r="3.3" fill="url(#h3)"/><circle cx="270.7" cy="250.3" r="3.6" fill="url(#h3)"/><circle cx="321.6" cy="207.8" r="3.7" fill="url(#h3)"/><circle cx="294.7" cy="300.2" r="3.5" fill="url(#h3)"/><circle cx="319.4" cy="287.6" r="3.3" fill="url(#h3)"/><circle cx="410.2" cy="267.6" r="3.3" fill="url(#h3)"/><circle cx="421.2" cy="315.4" r="3.5" fill="url(#h3)"/><circle cx="380.4" cy="352.1" r="3.9" fill="url(#h3)"/><circle cx="422.9" cy="245.9" r="4.1" fill="url(#h3)"/><circle cx="354.0" cy="369.0" r="3.7" fill="url(#h3)"/><circle cx="321.6" cy="375.8" r="3.5" fill="url(#h3)"/><circle cx="396.5" cy="297.7" r="3.7" fill="url(#h3)"/><circle cx="326.3" cy="310.3" r="3.7" fill="url(#h3)"/><circle cx="270.3" cy="362.0" r="3.3" fill="url(#h3)"/><circle cx="374.9" cy="340.1" r="3.4" fill="url(#h3)"/><circle cx="358.7" cy="227.7" r="3.4" fill="url(#h3)"/><circle cx="302.8" cy="380.2" r="3.4" fill="url(#h3)"/><circle cx="383.7" cy="251.2" r="3.8" fill="url(#h3)"/><circle cx="285.8" cy="242.3" r="3.8" fill="url(#h3)"/><circle cx="435.5" cy="264.3" r="4.1" fill="url(#h3)"/><circle cx="406.7" cy="372.8" r="3.4" fill="url(#h3)"/><circle cx="389.1" cy="226.9" r="4.0" fill="url(#h3)"/><circle cx="382.9" cy="273.9" r="3.2" fill="url(#h3)"/><circle cx="325.4" cy="266.9" r="4.0" fill="url(#h3)"/><circle cx="324.2" cy="283.3" r="3.7" fill="url(#h3)"/><circle cx="317.0" cy="358.5" r="3.6" fill="url(#h3)"/><circle cx="366.9" cy="307.3" r="3.8" fill="url(#h3)"/><circle cx="287.1" cy="278.9" r="3.5" fill="url(#h3)"/><circle cx="424.5" cy="320.0" r="3.5" fill="url(#h3)"/><circle cx="386.3" cy="349.6" r="3.3" fill="url(#h3)"/><circle cx="323.8" cy="325.0" r="3.2" fill="url(#h3)"/><circle cx="366.1" cy="329.6" r="4.2" fill="url(#h3)"/><circle cx="279.3" cy="237.6" r="3.7" fill="url(#h3)"/><circle cx="419.5" cy="270.6" r="3.8" fill="url(#h3)"/><circle cx="441.4" cy="255.5" r="3.9" fill="url(#h3)"/><circle cx="408.5" cy="244.9" r="4.0" fill="url(#h3)"/><circle cx="388.0" cy="382.0" r="3.9" fill="url(#h3)"/><circle cx="308.8" cy="381.5" r="3.3" fill="url(#h3)"/><circle cx="407.5" cy="222.3" r="3.8" fill="url(#h3)"/><circle cx="426.8" cy="362.6" r="3.2" fill="url(#h3)"/><circle cx="337.8" cy="261.3" r="3.8" fill="url(#h3)"/><circle cx="340.9" cy="240.3" r="3.6" fill="url(#h3)"/><circle cx="429.5" cy="278.0" r="3.1" fill="url(#h3)"/><circle cx="421.5" cy="334.6" r="3.9" fill="url(#h3)"/><circle cx="282.0" cy="371.2" r="3.5" fill="url(#h3)"/><circle cx="357.7" cy="353.9" r="4.0" fill="url(#h3)"/><circle cx="399.4" cy="287.8" r="3.5" fill="url(#h3)"/><circle cx="301.2" cy="226.8" r="3.5" fill="url(#h3)"/><circle cx="429.1" cy="340.7" r="4.2" fill="url(#h3)"/><circle cx="298.1" cy="325.0" r="4.0" fill="url(#h3)"/><circle cx="319.0" cy="279.2" r="3.9" fill="url(#h3)"/><circle cx="336.6" cy="257.1" r="3.3" fill="url(#h3)"/><circle cx="387.5" cy="293.7" r="3.6" fill="url(#h3)"/><circle cx="368.0" cy="288.3" r="4.2" fill="url(#h3)"/><circle cx="385.9" cy="304.2" r="3.2" fill="url(#h3)"/><circle cx="387.7" cy="219.1" r="3.8" fill="url(#h3)"/><circle cx="374.4" cy="306.6" r="3.2" fill="url(#h3)"/><circle cx="338.7" cy="348.7" r="3.3" fill="url(#h3)"/><circle cx="400.2" cy="325.7" r="3.8" fill="url(#h3)"/><circle cx="404.6" cy="236.5" r="3.2" fill="url(#h3)"/><circle cx="412.7" cy="353.6" r="4.1" fill="url(#h3)"/><circle cx="338.5" cy="217.4" r="4.1" fill="url(#h3)"/><circle cx="306.7" cy="375.9" r="3.5" fill="url(#h3)"/><circle cx="336.0" cy="241.6" r="3.9" fill="url(#h3)"/><circle cx="438.3" cy="278.1" r="3.4" fill="url(#h3)"/><circle cx="355.9" cy="329.8" r="3.6" fill="url(#h3)"/><circle cx="319.4" cy="324.7" r="4.0" fill="url(#h3)"/><circle cx="384.6" cy="370.0" r="3.8" fill="url(#h3)"/><circle cx="280.4" cy="249.1" r="4.2" fill="url(#h3)"/><circle cx="356.4" cy="345.2" r="4.0" fill="url(#h3)"/><circle cx="430.3" cy="282.7" r="4.0" fill="url(#h3)"/><circle cx="269.0" cy="256.2" r="3.7" fill="url(#h3)"/><circle cx="378.5" cy="359.7" r="3.6" fill="url(#h3)"/><circle cx="351.1" cy="381.1" r="3.5" fill="url(#h3)"/><circle cx="332.7" cy="338.5" r="3.3" fill="url(#h3)"/><circle cx="432.0" cy="363.6" r="3.3" fill="url(#h3)"/><circle cx="305.9" cy="274.0" r="4.1" fill="url(#h3)"/><circle cx="292.8" cy="349.2" r="3.5" fill="url(#h3)"/><circle cx="397.4" cy="320.7" r="3.3" fill="url(#h3)"/><circle cx="436.8" cy="273.2" r="3.7" fill="url(#h3)"/><circle cx="410.8" cy="383.0" r="3.3" fill="url(#h3)"/><circle cx="302.0" cy="311.1" r="4.2" fill="url(#h3)"/><circle cx="433.6" cy="211.9" r="4.1" fill="url(#h3)"/><circle cx="377.7" cy="334.2" r="3.8" fill="url(#h3)"/><circle cx="339.7" cy="338.0" r="3.9" fill="url(#h3)"/><circle cx="408.8" cy="368.0" r="3.9" fill="url(#h3)"/><circle cx="313.7" cy="287.0" r="3.3" fill="url(#h3)"/><circle cx="298.5" cy="340.1" r="3.2" fill="url(#h3)"/><circle cx="412.0" cy="315.4" r="4.0" fill="url(#h3)"/><circle cx="339.5" cy="310.1" r="3.4" fill="url(#h3)"/><circle cx="371.4" cy="235.6" r="3.2" fill="url(#h3)"/><circle cx="277.3" cy="283.9" r="3.7" fill="url(#h3)"/><circle cx="344.8" cy="353.8" r="3.8" fill="url(#h3)"/><circle cx="394.7" cy="314.3" r="3.5" fill="url(#h3)"/><circle cx="348.0" cy="263.5" r="4.1" fill="url(#h3)"/><circle cx="382.3" cy="377.2" r="3.8" fill="url(#h3)"/><circle cx="419.0" cy="335.7" r="3.7" fill="url(#h3)"/><circle cx="398.4" cy="348.7" r="3.1" fill="url(#h3)"/><circle cx="438.8" cy="220.9" r="3.3" fill="url(#h3)"/><circle cx="378.5" cy="308.4" r="3.1" fill="url(#h3)"/><circle cx="326.6" cy="313.2" r="3.9" fill="url(#h3)"/><circle cx="366.2" cy="377.2" r="3.8" fill="url(#h3)"/><circle cx="353.6" cy="377.0" r="3.3" fill="url(#h3)"/><circle cx="321.4" cy="283.4" r="3.4" fill="url(#h3)"/><circle cx="326.6" cy="208.3" r="3.5" fill="url(#h3)"/><circle cx="353.3" cy="335.9" r="4.2" fill="url(#h3)"/><circle cx="288.4" cy="380.8" r="3.3" fill="url(#h3)"/><circle cx="380.4" cy="380.0" r="4.2" fill="url(#h3)"/><circle cx="271.6" cy="317.6" r="3.7" fill="url(#h3)"/><circle cx="341.0" cy="362.4" r="3.7" fill="url(#h3)"/><circle cx="293.0" cy="356.6" r="3.4" fill="url(#h3)"/><circle cx="313.9" cy="315.1" r="3.8" fill="url(#h3)"/><circle cx="267.5" cy="311.7" r="3.3" fill="url(#h3)"/><circle cx="351.8" cy="317.2" r="3.6" fill="url(#h3)"/><circle cx="362.6" cy="370.5" r="3.4" fill="url(#h3)"/><circle cx="398.1" cy="383.3" r="3.5" fill="url(#h3)"/><circle cx="407.1" cy="287.7" r="3.6" fill="url(#h3)"/><circle cx="299.7" cy="319.3" r="3.8" fill="url(#h3)"/><circle cx="425.1" cy="292.3" r="3.2" fill="url(#h3)"/><circle cx="365.0" cy="310.6" r="4.0" fill="url(#h3)"/><circle cx="265.9" cy="338.7" r="3.4" fill="url(#h3)"/><circle cx="320.6" cy="273.2" r="3.3" fill="url(#h3)"/><circle cx="270.0" cy="223.9" r="4.0" fill="url(#h3)"/><circle cx="404.6" cy="367.9" r="3.2" fill="url(#h3)"/><circle cx="432.6" cy="350.0" r="4.1" fill="url(#h3)"/><circle cx="330.6" cy="218.3" r="4.0" fill="url(#h3)"/><circle cx="353.0" cy="292.8" r="4.0" fill="url(#h3)"/><circle cx="314.0" cy="261.6" r="3.5" fill="url(#h3)"/><circle cx="278.7" cy="368.3" r="3.2" fill="url(#h3)"/><circle cx="347.1" cy="259.6" r="3.1" fill="url(#h3)"/><circle cx="426.5" cy="339.6" r="4.0" fill="url(#h3)"/><circle cx="319.2" cy="344.3" r="3.3" fill="url(#h3)"/><circle cx="408.6" cy="376.8" r="4.1" fill="url(#h3)"/><circle cx="354.3" cy="216.0" r="3.4" fill="url(#h3)"/><circle cx="424.3" cy="377.5" r="3.3" fill="url(#h3)"/><circle cx="274.2" cy="329.5" r="3.2" fill="url(#h3)"/><circle cx="372.0" cy="323.6" r="4.1" fill="url(#h3)"/><circle cx="287.7" cy="366.2" r="3.3" fill="url(#h3)"/><circle cx="327.9" cy="325.6" r="3.1" fill="url(#h3)"/><circle cx="277.8" cy="226.7" r="3.6" fill="url(#h3)"/><circle cx="365.9" cy="367.3" r="4.0" fill="url(#h3)"/><circle cx="308.5" cy="224.4" r="3.5" fill="url(#h3)"/><circle cx="321.2" cy="310.9" r="3.3" fill="url(#h3)"/><circle cx="291.3" cy="362.3" r="3.3" fill="url(#h3)"/><circle cx="354.2" cy="267.3" r="3.8" fill="url(#h3)"/><circle cx="358.5" cy="217.3" r="3.2" fill="url(#h3)"/><circle cx="280.0" cy="348.6" r="3.3" fill="url(#h3)"/><circle cx="369.5" cy="340.2" r="4.1" fill="url(#h3)"/><circle cx="402.3" cy="342.7" r="3.4" fill="url(#h3)"/><circle cx="384.0" cy="334.7" r="4.1" fill="url(#h3)"/><circle cx="390.8" cy="207.9" r="3.5" fill="url(#h3)"/><circle cx="376.3" cy="264.7" r="3.3" fill="url(#h3)"/><circle cx="327.7" cy="292.7" r="3.7" fill="url(#h3)"/><circle cx="265.7" cy="225.8" r="3.3" fill="url(#h3)"/><circle cx="369.8" cy="356.4" r="4.2" fill="url(#h3)"/><circle cx="398.3" cy="336.1" r="3.1" fill="url(#h3)"/><circle cx="316.5" cy="311.6" r="4.1" fill="url(#h3)"/><circle cx="316.2" cy="208.5" r="3.3" fill="url(#h3)"/><circle cx="415.9" cy="326.1" r="3.7" fill="url(#h3)"/><circle cx="314.1" cy="324.4" r="3.5" fill="url(#h3)"/><circle cx="426.4" cy="366.3" r="3.7" fill="url(#h3)"/><circle cx="368.9" cy="277.3" r="3.9" fill="url(#h3)"/><circle cx="328.3" cy="382.0" r="3.4" fill="url(#h3)"/><circle cx="313.6" cy="212.3" r="4.1" fill="url(#h3)"/><circle cx="287.3" cy="286.4" r="3.7" fill="url(#h3)"/><circle cx="424.6" cy="208.8" r="3.7" fill="url(#h3)"/><circle cx="390.4" cy="277.4" r="3.4" fill="url(#h3)"/><circle cx="367.7" cy="344.4" r="3.5" fill="url(#h3)"/><circle cx="310.6" cy="263.7" r="3.6" fill="url(#h3)"/><circle cx="363.0" cy="295.9" r="3.7" fill="url(#h3)"/><circle cx="435.2" cy="207.1" r="3.2" fill="url(#h3)"/><circle cx="382.5" cy="267.6" r="3.8" fill="url(#h3)"/><circle cx="335.9" cy="269.1" r="3.6" fill="url(#h3)"/><circle cx="315.2" cy="246.0" r="3.8" fill="url(#h3)"/><circle cx="290.0" cy="234.2" r="3.8" fill="url(#h3)"/><circle cx="376.4" cy="376.6" r="3.1" fill="url(#h3)"/><circle cx="438.4" cy="323.4" r="3.5" fill="url(#h3)"/><circle cx="425.1" cy="286.0" r="3.9" fill="url(#h3)"/><circle cx="323.8" cy="343.1" r="3.8" fill="url(#h3)"/><circle cx="408.6" cy="217.8" r="4.1" fill="url(#h3)"/><circle cx="285.6" cy="273.8" r="3.2" fill="url(#h3)"/><circle cx="329.0" cy="228.0" r="3.4" fill="url(#h3)"/><circle cx="334.5" cy="342.8" r="3.9" fill="url(#h3)"/><circle cx="431.4" cy="297.2" r="4.1" fill="url(#h3)"/><circle cx="375.9" cy="254.3" r="3.5" fill="url(#h3)"/><circle cx="331.5" cy="264.1" r="3.4" fill="url(#h3)"/><circle cx="413.4" cy="338.8" r="3.5" fill="url(#h3)"/><circle cx="314.9" cy="328.4" r="3.6" fill="url(#h3)"/><circle cx="289.2" cy="256.1" r="3.3" fill="url(#h3)"/><circle cx="414.3" cy="372.5" r="3.2" fill="url(#h3)"/><circle cx="361.5" cy="211.2" r="4.2" fill="url(#h3)"/><circle cx="357.0" cy="250.7" r="4.2" fill="url(#h4)"/><circle cx="422.5" cy="307.8" r="3.3" fill="url(#h4)"/><circle cx="296.9" cy="212.5" r="3.8" fill="url(#h4)"/><circle cx="333.3" cy="293.2" r="3.5" fill="url(#h4)"/><circle cx="295.6" cy="237.7" r="3.4" fill="url(#h4)"/><circle cx="427.3" cy="306.4" r="4.1" fill="url(#h4)"/><circle cx="392.6" cy="245.3" r="4.1" fill="url(#h4)"/><circle cx="377.6" cy="302.8" r="3.6" fill="url(#h4)"/><circle cx="288.4" cy="348.3" r="3.6" fill="url(#h4)"/><circle cx="432.1" cy="334.1" r="3.6" fill="url(#h4)"/><circle cx="309.0" cy="317.3" r="3.3" fill="url(#h4)"/><circle cx="379.1" cy="315.2" r="4.0" fill="url(#h4)"/><circle cx="295.2" cy="217.6" r="3.8" fill="url(#h4)"/><circle cx="397.6" cy="376.5" r="3.5" fill="url(#h4)"/><circle cx="327.0" cy="253.8" r="3.3" fill="url(#h4)"/><circle cx="362.5" cy="343.2" r="4.1" fill="url(#h4)"/><circle cx="332.1" cy="301.1" r="3.9" fill="url(#h4)"/><circle cx="348.4" cy="292.7" r="3.8" fill="url(#h4)"/><circle cx="387.3" cy="365.7" r="3.8" fill="url(#h4)"/><circle cx="366.6" cy="227.8" r="3.4" fill="url(#h4)"/><circle cx="340.9" cy="278.6" r="3.5" fill="url(#h4)"/><circle cx="429.8" cy="209.0" r="3.6" fill="url(#h4)"/><circle cx="292.7" cy="316.3" r="3.7" fill="url(#h4)"/><circle cx="418.1" cy="265.1" r="3.8" fill="url(#h4)"/><circle cx="292.4" cy="295.1" r="3.6" fill="url(#h4)"/><circle cx="402.0" cy="336.0" r="3.6" fill="url(#h4)"/><circle cx="273.2" cy="292.4" r="3.4" fill="url(#h4)"/><circle cx="282.2" cy="287.6" r="3.5" fill="url(#h4)"/><circle cx="329.9" cy="223.9" r="3.6" fill="url(#h4)"/><circle cx="321.3" cy="253.2" r="3.2" fill="url(#h4)"/><circle cx="289.5" cy="331.4" r="3.7" fill="url(#h4)"/><circle cx="295.2" cy="272.8" r="3.6" fill="url(#h4)"/><circle cx="292.6" cy="352.6" r="3.6" fill="url(#h4)"/><circle cx="430.4" cy="377.6" r="3.7" fill="url(#h4)"/><circle cx="302.5" cy="212.7" r="3.5" fill="url(#h4)"/><circle cx="378.9" cy="325.8" r="3.4" fill="url(#h4)"/><circle cx="306.6" cy="337.7" r="3.8" fill="url(#h4)"/><circle cx="270.0" cy="372.4" r="3.9" fill="url(#h4)"/><circle cx="406.5" cy="363.0" r="3.9" fill="url(#h4)"/><circle cx="321.4" cy="264.6" r="4.1" fill="url(#h4)"/><circle cx="298.8" cy="218.3" r="3.8" fill="url(#h4)"/><circle cx="364.3" cy="283.8" r="4.2" fill="url(#h4)"/><circle cx="421.8" cy="342.5" r="3.9" fill="url(#h4)"/><circle cx="279.2" cy="310.9" r="3.5" fill="url(#h4)"/><circle cx="349.4" cy="341.1" r="3.6" fill="url(#h4)"/><circle cx="441.6" cy="301.6" r="4.1" fill="url(#h4)"/><circle cx="366.7" cy="324.5" r="3.9" fill="url(#h4)"/><circle cx="273.2" cy="205.6" r="3.5" fill="url(#h4)"/><circle cx="345.8" cy="251.7" r="3.9" fill="url(#h4)"/><circle cx="345.5" cy="231.5" r="4.0" fill="url(#h4)"/><circle cx="398.4" cy="310.9" r="3.8" fill="url(#h4)"/><circle cx="318.3" cy="370.8" r="3.6" fill="url(#h4)"/><circle cx="371.0" cy="310.5" r="3.3" fill="url(#h4)"/><circle cx="275.9" cy="239.9" r="3.9" fill="url(#h4)"/><circle cx="417.1" cy="381.8" r="3.9" fill="url(#h4)"/><circle cx="417.9" cy="344.4" r="3.6" fill="url(#h4)"/><circle cx="339.6" cy="320.2" r="3.2" fill="url(#h4)"/><circle cx="411.2" cy="335.3" r="3.3" fill="url(#h4)"/><circle cx="330.8" cy="254.1" r="3.7" fill="url(#h4)"/><circle cx="285.7" cy="316.7" r="3.9" fill="url(#h4)"/><circle cx="268.5" cy="208.4" r="3.3" fill="url(#h4)"/><circle cx="368.6" cy="257.8" r="3.2" fill="url(#h4)"/><circle cx="392.1" cy="311.5" r="3.3" fill="url(#h4)"/><circle cx="369.0" cy="217.0" r="3.9" fill="url(#h4)"/><circle cx="407.9" cy="355.3" r="3.3" fill="url(#h4)"/><circle cx="394.9" cy="232.0" r="3.3" fill="url(#h4)"/><circle cx="413.2" cy="263.8" r="3.4" fill="url(#h4)"/><circle cx="317.5" cy="256.3" r="3.5" fill="url(#h4)"/><circle cx="389.6" cy="241.2" r="3.6" fill="url(#h4)"/><circle cx="413.1" cy="330.1" r="3.4" fill="url(#h4)"/><circle cx="386.8" cy="244.9" r="3.7" fill="url(#h4)"/><circle cx="399.6" cy="370.3" r="3.2" fill="url(#h4)"/><circle cx="272.5" cy="312.8" r="4.0" fill="url(#h4)"/><circle cx="389.8" cy="259.6" r="3.7" fill="url(#h4)"/><circle cx="303.9" cy="249.1" r="3.8" fill="url(#h4)"/><circle cx="358.1" cy="338.4" r="3.5" fill="url(#h4)"/><circle cx="409.2" cy="325.2" r="3.8" fill="url(#h4)"/><circle cx="327.8" cy="357.9" r="3.6" fill="url(#h4)"/><circle cx="377.6" cy="311.2" r="3.7" fill="url(#h4)"/><circle cx="271.1" cy="286.3" r="3.7" fill="url(#h4)"/><circle cx="404.0" cy="330.6" r="4.1" fill="url(#h4)"/><circle cx="297.7" cy="345.3" r="3.8" fill="url(#h4)"/><circle cx="429.8" cy="349.4" r="4.0" fill="url(#h4)"/><circle cx="441.9" cy="246.4" r="3.7" fill="url(#h4)"/><circle cx="300.5" cy="264.8" r="3.8" fill="url(#h4)"/><circle cx="361.9" cy="315.3" r="3.8" fill="url(#h4)"/><circle cx="347.0" cy="235.7" r="3.6" fill="url(#h4)"/><circle cx="353.8" cy="210.2" r="3.5" fill="url(#h4)"/><circle cx="318.9" cy="383.8" r="3.6" fill="url(#h4)"/><circle cx="281.5" cy="234.4" r="3.3" fill="url(#h4)"/><circle cx="268.0" cy="233.7" r="4.0" fill="url(#h4)"/><circle cx="412.6" cy="283.3" r="3.2" fill="url(#h4)"/><circle cx="347.0" cy="272.8" r="3.6" fill="url(#h4)"/><circle cx="382.3" cy="347.5" r="3.5" fill="url(#h4)"/><circle cx="354.7" cy="235.2" r="4.0" fill="url(#h4)"/><circle cx="345.2" cy="306.0" r="3.9" fill="url(#h4)"/><circle cx="267.1" cy="366.3" r="3.2" fill="url(#h4)"/><circle cx="344.0" cy="303.6" r="3.7" fill="url(#h4)"/><circle cx="432.6" cy="222.0" r="3.5" fill="url(#h4)"/><circle cx="397.6" cy="366.9" r="3.6" fill="url(#h4)"/><circle cx="368.7" cy="223.0" r="3.3" fill="url(#h4)"/><circle cx="371.6" cy="377.4" r="3.8" fill="url(#h4)"/><circle cx="351.9" cy="278.0" r="4.0" fill="url(#h4)"/><circle cx="356.9" cy="338.9" r="4.1" fill="url(#h4)"/><circle cx="339.5" cy="207.4" r="4.0" fill="url(#h4)"/><circle cx="329.9" cy="307.3" r="3.2" fill="url(#h4)"/><circle cx="367.9" cy="269.7" r="3.8" fill="url(#h4)"/><circle cx="400.0" cy="268.5" r="3.8" fill="url(#h4)"/><circle cx="291.7" cy="326.8" r="3.5" fill="url(#h4)"/><circle cx="434.1" cy="306.7" r="4.1" fill="url(#h4)"/><circle cx="388.1" cy="254.7" r="4.1" fill="url(#h4)"/><circle cx="416.6" cy="355.7" r="3.7" fill="url(#h4)"/><circle cx="411.0" cy="258.8" r="4.0" fill="url(#h4)"/><circle cx="386.2" cy="302.5" r="3.3" fill="url(#h4)"/><circle cx="370.6" cy="330.5" r="4.1" fill="url(#h4)"/><circle cx="437.4" cy="372.1" r="3.1" fill="url(#h4)"/><circle cx="313.8" cy="249.9" r="3.4" fill="url(#h4)"/><circle cx="332.6" cy="226.1" r="3.6" fill="url(#h4)"/><circle cx="420.4" cy="255.8" r="3.7" fill="url(#h4)"/><circle cx="343.2" cy="328.5" r="4.2" fill="url(#h4)"/><circle cx="404.4" cy="301.7" r="3.9" fill="url(#h4)"/><circle cx="339.2" cy="212.6" r="3.3" fill="url(#h4)"/><circle cx="363.2" cy="223.2" r="4.1" fill="url(#h4)"/><circle cx="324.7" cy="287.5" r="4.1" fill="url(#h4)"/><circle cx="407.5" cy="316.2" r="3.1" fill="url(#h4)"/><circle cx="340.9" cy="232.4" r="3.9" fill="url(#h4)"/><circle cx="371.4" cy="350.0" r="3.8" fill="url(#h4)"/><circle cx="287.0" cy="343.4" r="3.9" fill="url(#h4)"/><circle cx="289.6" cy="337.8" r="3.5" fill="url(#h4)"/><circle cx="365.4" cy="236.7" r="3.6" fill="url(#h4)"/><circle cx="325.0" cy="230.7" r="3.7" fill="url(#h4)"/><circle cx="335.4" cy="277.8" r="3.7" fill="url(#h4)"/><circle cx="425.9" cy="232.4" r="3.3" fill="url(#h4)"/><circle cx="301.0" cy="304.0" r="3.7" fill="url(#h4)"/><circle cx="384.1" cy="340.0" r="3.3" fill="url(#h4)"/><circle cx="274.1" cy="339.7" r="3.6" fill="url(#h4)"/><circle cx="427.3" cy="353.4" r="3.1" fill="url(#h4)"/><circle cx="388.9" cy="266.5" r="3.6" fill="url(#h4)"/><circle cx="294.7" cy="268.8" r="3.8" fill="url(#h4)"/><circle cx="308.9" cy="236.0" r="4.0" fill="url(#h4)"/><circle cx="349.9" cy="245.5" r="3.7" fill="url(#h4)"/><circle cx="340.4" cy="370.6" r="3.4" fill="url(#h4)"/><circle cx="302.9" cy="287.4" r="3.7" fill="url(#h4)"/><circle cx="343.5" cy="282.3" r="3.8" fill="url(#h4)"/><circle cx="407.9" cy="320.3" r="3.5" fill="url(#h4)"/><circle cx="438.3" cy="353.7" r="4.0" fill="url(#h4)"/><circle cx="272.7" cy="351.9" r="3.1" fill="url(#h4)"/><circle cx="392.1" cy="285.1" r="4.1" fill="url(#h4)"/><circle cx="306.8" cy="260.0" r="3.1" fill="url(#h4)"/><circle cx="308.6" cy="216.2" r="3.8" fill="url(#h4)"/><circle cx="360.7" cy="328.6" r="3.3" fill="url(#h4)"/><circle cx="388.7" cy="221.2" r="3.2" fill="url(#h4)"/><circle cx="398.8" cy="231.3" r="3.2" fill="url(#h4)"/><circle cx="312.8" cy="284.3" r="3.2" fill="url(#h4)"/><circle cx="324.2" cy="379.6" r="3.5" fill="url(#h4)"/><circle cx="268.4" cy="264.3" r="4.1" fill="url(#h4)"/><circle cx="413.2" cy="319.5" r="3.8" fill="url(#h4)"/><circle cx="361.9" cy="206.9" r="3.5" fill="url(#h4)"/><circle cx="423.2" cy="372.7" r="3.3" fill="url(#h4)"/><circle cx="322.5" cy="321.5" r="4.0" fill="url(#h4)"/><circle cx="307.1" cy="367.9" r="3.3" fill="url(#h4)"/><circle cx="282.8" cy="311.9" r="3.9" fill="url(#h4)"/><circle cx="312.2" cy="308.5" r="3.3" fill="url(#h4)"/><circle cx="324.0" cy="250.0" r="3.1" fill="url(#h4)"/><circle cx="303.8" cy="242.7" r="3.4" fill="url(#h4)"/><circle cx="298.7" cy="249.9" r="3.5" fill="url(#h4)"/><circle cx="398.3" cy="256.7" r="3.6" fill="url(#h4)"/><circle cx="430.9" cy="357.9" r="3.9" fill="url(#h4)"/><circle cx="351.3" cy="295.5" r="4.2" fill="url(#h4)"/><circle cx="380.1" cy="312.2" r="3.4" fill="url(#h4)"/><circle cx="320.7" cy="348.8" r="3.1" fill="url(#h4)"/><circle cx="340.6" cy="307.1" r="3.7" fill="url(#h4)"/><circle cx="421.5" cy="381.1" r="3.3" fill="url(#h4)"/><circle cx="347.8" cy="206.4" r="3.7" fill="url(#h4)"/><circle cx="276.2" cy="336.4" r="3.9" fill="url(#h4)"/><circle cx="353.0" cy="356.8" r="3.6" fill="url(#h4)"/><circle cx="387.5" cy="236.6" r="3.3" fill="url(#h4)"/><circle cx="433.0" cy="383.4" r="3.4" fill="url(#h4)"/><circle cx="416.1" cy="230.0" r="3.5" fill="url(#h4)"/><circle cx="395.6" cy="361.3" r="3.3" fill="url(#h4)"/><circle cx="378.2" cy="221.8" r="3.7" fill="url(#h4)"/><circle cx="273.1" cy="212.7" r="3.6" fill="url(#h4)"/><circle cx="292.9" cy="380.7" r="3.3" fill="url(#h4)"/><circle cx="339.6" cy="297.8" r="3.3" fill="url(#h4)"/><circle cx="398.6" cy="228.2" r="3.5" fill="url(#h4)"/><circle cx="413.6" cy="347.5" r="4.1" fill="url(#h4)"/><circle cx="418.5" cy="311.5" r="4.2" fill="url(#h4)"/><circle cx="270.9" cy="269.1" r="4.0" fill="url(#h4)"/><circle cx="396.0" cy="263.4" r="3.8" fill="url(#h4)"/><circle cx="438.9" cy="261.4" r="3.5" fill="url(#h4)"/><circle cx="439.4" cy="281.6" r="3.7" fill="url(#h4)"/><circle cx="403.7" cy="320.1" r="3.3" fill="url(#h4)"/><circle cx="415.7" cy="239.7" r="3.5" fill="url(#h4)"/><circle cx="368.5" cy="242.2" r="3.5" fill="url(#h4)"/><circle cx="380.9" cy="255.8" r="3.4" fill="url(#h4)"/><circle cx="400.4" cy="215.0" r="3.2" fill="url(#h4)"/><circle cx="282.0" cy="239.8" r="3.3" fill="url(#h4)"/><circle cx="422.5" cy="273.5" r="3.5" fill="url(#h4)"/><circle cx="412.7" cy="345.4" r="3.3" fill="url(#h4)"/><circle cx="365.7" cy="208.2" r="3.3" fill="url(#h4)"/><circle cx="271.9" cy="266.1" r="3.7" fill="url(#h4)"/><circle cx="272.3" cy="256.4" r="3.9" fill="url(#h4)"/><circle cx="343.6" cy="318.0" r="4.0" fill="url(#h4)"/><circle cx="398.6" cy="250.9" r="3.1" fill="url(#h4)"/><circle cx="355.5" cy="240.9" r="3.4" fill="url(#h4)"/><circle cx="326.9" cy="319.1" r="3.8" fill="url(#h4)"/><circle cx="308.4" cy="370.5" r="3.3" fill="url(#h4)"/><circle cx="390.1" cy="297.6" r="3.9" fill="url(#h4)"/><circle cx="322.1" cy="218.2" r="3.2" fill="url(#h4)"/><circle cx="385.2" cy="240.6" r="4.0" fill="url(#h4)"/><circle cx="403.3" cy="269.5" r="3.8" fill="url(#h4)"/><circle cx="430.0" cy="255.7" r="3.3" fill="url(#h4)"/><circle cx="371.6" cy="372.8" r="4.1" fill="url(#h4)"/><circle cx="323.5" cy="227.1" r="3.2" fill="url(#h4)"/><circle cx="343.7" cy="367.8" r="3.9" fill="url(#h4)"/><circle cx="347.5" cy="225.6" r="4.1" fill="url(#h4)"/><circle cx="408.8" cy="310.0" r="3.6" fill="url(#h4)"/><circle cx="292.6" cy="371.7" r="3.4" fill="url(#h4)"/><circle cx="428.7" cy="212.3" r="3.6" fill="url(#h5)"/><circle cx="359.1" cy="294.9" r="3.2" fill="url(#h5)"/><circle cx="319.6" cy="334.7" r="3.2" fill="url(#h5)"/><circle cx="416.4" cy="315.0" r="3.9" fill="url(#h5)"/><circle cx="388.6" cy="343.0" r="3.2" fill="url(#h5)"/><circle cx="376.7" cy="330.1" r="3.2" fill="url(#h5)"/><circle cx="404.7" cy="343.3" r="3.5" fill="url(#h5)"/><circle cx="423.2" cy="253.4" r="4.0" fill="url(#h5)"/><circle cx="313.4" cy="276.8" r="3.9" fill="url(#h5)"/><circle cx="338.4" cy="375.8" r="3.3" fill="url(#h5)"/><circle cx="393.0" cy="301.9" r="3.1" fill="url(#h5)"/><circle cx="283.7" cy="245.4" r="3.6" fill="url(#h5)"/><circle cx="409.0" cy="339.5" r="3.6" fill="url(#h5)"/><circle cx="436.2" cy="281.9" r="3.2" fill="url(#h5)"/><circle cx="357.2" cy="336.2" r="4.2" fill="url(#h5)"/><circle cx="403.6" cy="326.7" r="3.1" fill="url(#h5)"/><circle cx="391.1" cy="358.6" r="3.7" fill="url(#h5)"/><circle cx="341.1" cy="289.0" r="3.2" fill="url(#h5)"/><circle cx="346.0" cy="337.6" r="3.8" fill="url(#h5)"/><circle cx="284.8" cy="357.9" r="3.2" fill="url(#h5)"/><circle cx="280.8" cy="269.4" r="3.6" fill="url(#h5)"/><circle cx="299.9" cy="359.8" r="4.0" fill="url(#h5)"/><circle cx="401.2" cy="241.1" r="3.2" fill="url(#h5)"/><circle cx="313.6" cy="221.1" r="4.0" fill="url(#h5)"/><circle cx="365.5" cy="348.0" r="4.1" fill="url(#h5)"/><circle cx="368.0" cy="230.4" r="3.6" fill="url(#h5)"/><circle cx="284.5" cy="235.0" r="4.0" fill="url(#h5)"/><circle cx="305.8" cy="282.9" r="3.8" fill="url(#h5)"/><circle cx="361.9" cy="305.6" r="3.3" fill="url(#h5)"/><circle cx="332.4" cy="285.3" r="3.1" fill="url(#h5)"/><circle cx="439.8" cy="330.5" r="4.2" fill="url(#h5)"/><circle cx="400.4" cy="296.5" r="3.9" fill="url(#h5)"/><circle cx="334.8" cy="259.5" r="3.5" fill="url(#h5)"/><circle cx="420.9" cy="324.6" r="4.1" fill="url(#h5)"/><circle cx="364.6" cy="292.8" r="4.1" fill="url(#h5)"/><circle cx="309.6" cy="301.1" r="3.4" fill="url(#h5)"/><circle cx="413.9" cy="293.7" r="3.3" fill="url(#h5)"/><circle cx="370.6" cy="228.4" r="3.9" fill="url(#h5)"/><circle cx="336.8" cy="223.3" r="3.4" fill="url(#h5)"/><circle cx="325.9" cy="264.8" r="3.5" fill="url(#h5)"/><circle cx="298.3" cy="221.7" r="4.2" fill="url(#h5)"/><circle cx="357.9" cy="232.8" r="3.7" fill="url(#h5)"/><circle cx="279.5" cy="221.6" r="3.4" fill="url(#h5)"/><circle cx="309.8" cy="225.3" r="4.0" fill="url(#h5)"/><circle cx="294.7" cy="367.3" r="3.8" fill="url(#h5)"/><circle cx="288.8" cy="297.9" r="3.6" fill="url(#h5)"/><circle cx="433.7" cy="231.6" r="3.5" fill="url(#h5)"/><circle cx="395.2" cy="221.4" r="3.7" fill="url(#h5)"/><circle cx="332.2" cy="329.6" r="4.0" fill="url(#h5)"/><circle cx="394.4" cy="333.4" r="3.6" fill="url(#h5)"/><circle cx="338.7" cy="358.8" r="4.2" fill="url(#h5)"/><circle cx="296.9" cy="254.5" r="3.4" fill="url(#h5)"/><circle cx="355.2" cy="227.1" r="3.7" fill="url(#h5)"/><circle cx="378.7" cy="287.3" r="3.6" fill="url(#h5)"/><circle cx="391.8" cy="339.8" r="3.2" fill="url(#h5)"/><circle cx="320.5" cy="211.7" r="3.8" fill="url(#h5)"/><circle cx="361.5" cy="247.2" r="3.8" fill="url(#h5)"/><circle cx="428.1" cy="249.1" r="4.0" fill="url(#h5)"/><circle cx="421.1" cy="212.4" r="4.1" fill="url(#h5)"/><circle cx="293.2" cy="320.0" r="3.4" fill="url(#h5)"/><circle cx="350.4" cy="217.0" r="3.2" fill="url(#h5)"/><circle cx="421.4" cy="241.6" r="3.6" fill="url(#h5)"/><circle cx="342.4" cy="377.1" r="4.2" fill="url(#h5)"/><circle cx="298.7" cy="334.1" r="3.7" fill="url(#h5)"/><circle cx="311.6" cy="310.7" r="3.6" fill="url(#h5)"/><circle cx="308.1" cy="337.2" r="3.6" fill="url(#h5)"/><circle cx="438.1" cy="363.8" r="3.8" fill="url(#h5)"/><circle cx="304.7" cy="317.3" r="3.2" fill="url(#h5)"/><circle cx="281.6" cy="255.0" r="3.5" fill="url(#h5)"/><circle cx="351.7" cy="343.1" r="3.4" fill="url(#h5)"/><circle cx="335.9" cy="249.9" r="4.0" fill="url(#h5)"/><circle cx="300.0" cy="209.9" r="3.5" fill="url(#h5)"/><circle cx="372.5" cy="261.9" r="3.8" fill="url(#h5)"/><circle cx="301.9" cy="220.6" r="4.0" fill="url(#h5)"/><circle cx="376.2" cy="292.0" r="3.4" fill="url(#h5)"/><circle cx="418.9" cy="347.9" r="3.3" fill="url(#h5)"/><circle cx="435.2" cy="293.2" r="3.2" fill="url(#h5)"/><circle cx="381.9" cy="320.3" r="3.2" fill="url(#h5)"/><circle cx="341.8" cy="310.9" r="3.2" fill="url(#h5)"/><circle cx="378.0" cy="213.5" r="3.5" fill="url(#h5)"/><circle cx="295.0" cy="282.7" r="4.2" fill="url(#h5)"/><circle cx="326.2" cy="347.6" r="3.9" fill="url(#h5)"/><circle cx="298.0" cy="240.4" r="3.3" fill="url(#h5)"/><circle cx="375.5" cy="226.3" r="3.9" fill="url(#h5)"/><circle cx="368.4" cy="382.2" r="3.8" fill="url(#h5)"/><circle cx="347.3" cy="222.2" r="3.2" fill="url(#h5)"/><circle cx="360.6" cy="366.2" r="3.9" fill="url(#h5)"/><circle cx="324.5" cy="353.5" r="3.5" fill="url(#h5)"/><circle cx="339.2" cy="274.4" r="3.6" fill="url(#h5)"/><circle cx="370.3" cy="366.9" r="4.1" fill="url(#h5)"/><circle cx="341.4" cy="324.7" r="3.2" fill="url(#h5)"/><circle cx="408.0" cy="292.4" r="3.3" fill="url(#h5)"/><circle cx="345.6" cy="323.3" r="3.7" fill="url(#h5)"/><circle cx="277.8" cy="251.2" r="4.1" fill="url(#h5)"/><circle cx="287.0" cy="352.6" r="3.2" fill="url(#h5)"/><circle cx="398.7" cy="245.1" r="4.2" fill="url(#h5)"/><circle cx="306.3" cy="325.3" r="3.2" fill="url(#h5)"/><circle cx="336.3" cy="213.3" r="3.1" fill="url(#h5)"/><circle cx="425.8" cy="214.4" r="4.1" fill="url(#h5)"/><circle cx="286.8" cy="369.2" r="3.2" fill="url(#h5)"/><circle cx="313.4" cy="295.4" r="3.3" fill="url(#h5)"/><circle cx="329.2" cy="295.5" r="3.3" fill="url(#h5)"/><circle cx="285.2" cy="262.7" r="3.9" fill="url(#h5)"/><circle cx="295.2" cy="207.6" r="3.9" fill="url(#h5)"/><circle cx="333.9" cy="335.1" r="3.6" fill="url(#h5)"/><circle cx="403.2" cy="266.0" r="3.3" fill="url(#h5)"/><circle cx="414.5" cy="245.4" r="3.6" fill="url(#h5)"/><circle cx="396.6" cy="271.5" r="3.5" fill="url(#h5)"/><circle cx="392.1" cy="331.6" r="3.9" fill="url(#h5)"/><circle cx="301.6" cy="258.9" r="3.3" fill="url(#h5)"/><circle cx="358.7" cy="237.1" r="3.7" fill="url(#h5)"/><circle cx="287.2" cy="260.6" r="3.2" fill="url(#h5)"/><circle cx="308.0" cy="306.2" r="3.9" fill="url(#h5)"/><circle cx="294.2" cy="243.0" r="3.5" fill="url(#h5)"/><circle cx="387.8" cy="211.1" r="3.4" fill="url(#h5)"/><circle cx="299.3" cy="283.2" r="3.4" fill="url(#h5)"/><circle cx="388.4" cy="231.6" r="3.6" fill="url(#h5)"/><circle cx="442.9" cy="356.9" r="3.1" fill="url(#h5)"/><circle cx="283.9" cy="378.0" r="3.3" fill="url(#h5)"/><circle cx="428.7" cy="300.4" r="3.2" fill="url(#h5)"/><circle cx="440.2" cy="236.3" r="4.1" fill="url(#h5)"/><circle cx="268.8" cy="217.8" r="3.6" fill="url(#h5)"/><circle cx="373.1" cy="278.3" r="3.6" fill="url(#h5)"/><circle cx="313.6" cy="381.1" r="3.3" fill="url(#h5)"/><circle cx="336.5" cy="361.1" r="3.2" fill="url(#h5)"/><circle cx="333.3" cy="272.4" r="3.9" fill="url(#h5)"/><circle cx="321.2" cy="245.0" r="3.9" fill="url(#h5)"/><circle cx="383.4" cy="212.9" r="3.2" fill="url(#h5)"/><circle cx="411.8" cy="208.5" r="3.7" fill="url(#h5)"/><circle cx="411.1" cy="362.2" r="3.7" fill="url(#h5)"/><circle cx="430.6" cy="327.0" r="3.9" fill="url(#h5)"/><circle cx="425.6" cy="357.9" r="3.4" fill="url(#h5)"/><circle cx="434.1" cy="269.8" r="4.2" fill="url(#h5)"/><circle cx="400.2" cy="278.0" r="3.8" fill="url(#h5)"/><circle cx="394.8" cy="371.8" r="3.7" fill="url(#h5)"/><circle cx="325.0" cy="293.5" r="3.5" fill="url(#h5)"/><circle cx="290.5" cy="245.3" r="3.5" fill="url(#h5)"/><circle cx="388.2" cy="319.8" r="3.4" fill="url(#h5)"/><circle cx="407.6" cy="271.9" r="3.4" fill="url(#h5)"/><circle cx="326.8" cy="218.6" r="3.5" fill="url(#h5)"/><circle cx="373.2" cy="212.6" r="3.1" fill="url(#h5)"/><circle cx="347.1" cy="329.9" r="3.7" fill="url(#h5)"/><circle cx="349.7" cy="320.4" r="3.6" fill="url(#h5)"/><circle cx="381.7" cy="330.2" r="3.3" fill="url(#h5)"/><circle cx="321.7" cy="277.0" r="4.1" fill="url(#h5)"/><circle cx="338.6" cy="300.2" r="4.0" fill="url(#h5)"/><circle cx="268.2" cy="320.7" r="3.9" fill="url(#h5)"/><circle cx="318.0" cy="321.6" r="4.0" fill="url(#h5)"/><circle cx="296.3" cy="339.6" r="4.0" fill="url(#h5)"/><circle cx="390.4" cy="324.5" r="3.6" fill="url(#h5)"/><circle cx="284.3" cy="283.5" r="3.8" fill="url(#h5)"/><circle cx="274.4" cy="343.9" r="3.9" fill="url(#h5)"/><circle cx="402.4" cy="291.6" r="3.1" fill="url(#h5)"/><circle cx="275.1" cy="372.3" r="4.1" fill="url(#h5)"/><circle cx="350.8" cy="211.3" r="3.3" fill="url(#h5)"/><circle cx="440.1" cy="340.1" r="3.1" fill="url(#h5)"/><circle cx="362.7" cy="359.4" r="3.9" fill="url(#h5)"/><circle cx="329.7" cy="376.1" r="3.6" fill="url(#h5)"/><circle cx="336.0" cy="325.5" r="3.2" fill="url(#h5)"/><circle cx="402.9" cy="283.7" r="3.4" fill="url(#h5)"/><circle cx="378.7" cy="232.4" r="3.2" fill="url(#h6)"/><circle cx="290.4" cy="209.1" r="3.4" fill="url(#h6)"/><circle cx="403.5" cy="358.5" r="3.6" fill="url(#h6)"/><circle cx="372.7" cy="221.6" r="3.4" fill="url(#h6)"/><circle cx="384.0" cy="297.2" r="4.1" fill="url(#h6)"/><circle cx="339.4" cy="333.4" r="4.1" fill="url(#h6)"/><circle cx="319.6" cy="231.6" r="3.6" fill="url(#h6)"/><circle cx="308.4" cy="231.9" r="3.9" fill="url(#h6)"/><circle cx="276.0" cy="292.3" r="3.4" fill="url(#h6)"/><circle cx="312.0" cy="239.1" r="3.7" fill="url(#h6)"/><circle cx="398.5" cy="285.0" r="3.3" fill="url(#h6)"/><circle cx="379.2" cy="217.3" r="3.4" fill="url(#h6)"/><circle cx="279.2" cy="205.9" r="3.7" fill="url(#h6)"/><circle cx="385.9" cy="329.5" r="3.1" fill="url(#h6)"/><circle cx="429.0" cy="331.1" r="3.7" fill="url(#h6)"/><circle cx="397.5" cy="291.3" r="3.2" fill="url(#h6)"/><circle cx="392.8" cy="227.4" r="3.5" fill="url(#h6)"/><circle cx="274.1" cy="281.0" r="3.2" fill="url(#h6)"/><circle cx="315.9" cy="228.0" r="3.4" fill="url(#h6)"/><circle cx="266.7" cy="274.3" r="3.6" fill="url(#h6)"/><circle cx="383.0" cy="326.2" r="3.5" fill="url(#h6)"/><circle cx="281.8" cy="258.3" r="4.0" fill="url(#h6)"/><circle cx="327.8" cy="274.8" r="3.2" fill="url(#h6)"/><circle cx="416.3" cy="289.0" r="3.3" fill="url(#h6)"/><circle cx="375.5" cy="367.5" r="3.7" fill="url(#h6)"/><circle cx="381.4" cy="357.3" r="3.8" fill="url(#h6)"/><circle cx="392.0" cy="293.9" r="3.3" fill="url(#h6)"/><circle cx="276.8" cy="381.3" r="4.0" fill="url(#h6)"/><circle cx="437.2" cy="329.6" r="3.6" fill="url(#h6)"/><circle cx="403.1" cy="243.3" r="3.7" fill="url(#h6)"/><circle cx="349.1" cy="301.2" r="3.5" fill="url(#h6)"/><circle cx="352.3" cy="240.4" r="3.9" fill="url(#h6)"/><circle cx="353.0" cy="311.1" r="3.2" fill="url(#h6)"/><circle cx="276.7" cy="288.8" r="3.8" fill="url(#h6)"/><circle cx="328.5" cy="344.8" r="3.9" fill="url(#h6)"/><circle cx="270.1" cy="278.6" r="4.1" fill="url(#h6)"/><circle cx="393.9" cy="250.6" r="3.2" fill="url(#h6)"/><circle cx="428.2" cy="316.1" r="4.0" fill="url(#h6)"/><circle cx="418.4" cy="214.2" r="3.5" fill="url(#h6)"/><circle cx="362.2" cy="355.1" r="3.7" fill="url(#h6)"/><circle cx="358.6" cy="305.2" r="3.2" fill="url(#h6)"/><circle cx="357.9" cy="282.2" r="3.9" fill="url(#h6)"/><circle cx="424.4" cy="225.8" r="3.6" fill="url(#h6)"/><circle cx="389.9" cy="314.5" r="4.2" fill="url(#h6)"/><circle cx="437.5" cy="300.1" r="4.1" fill="url(#h6)"/><circle cx="306.8" cy="308.9" r="3.6" fill="url(#h6)"/><circle cx="406.3" cy="233.7" r="3.2" fill="url(#h6)"/><circle cx="329.8" cy="333.9" r="3.8" fill="url(#h6)"/><circle cx="277.2" cy="278.0" r="3.7" fill="url(#h6)"/><circle cx="345.3" cy="344.2" r="4.1" fill="url(#h6)"/><circle cx="278.1" cy="361.0" r="3.7" fill="url(#h6)"/><circle cx="310.2" cy="273.6" r="3.8" fill="url(#h6)"/><circle cx="371.1" cy="246.4" r="3.1" fill="url(#h6)"/><circle cx="275.7" cy="306.9" r="3.8" fill="url(#h6)"/><circle cx="403.9" cy="217.9" r="3.1" fill="url(#h6)"/><circle cx="370.8" cy="302.6" r="3.8" fill="url(#h6)"/><circle cx="381.3" cy="283.2" r="3.9" fill="url(#h6)"/><circle cx="424.6" cy="329.4" r="3.2" fill="url(#h6)"/><circle cx="290.3" cy="309.9" r="4.1" fill="url(#h6)"/><circle cx="392.0" cy="272.1" r="3.2" fill="url(#h6)"/><circle cx="361.8" cy="333.5" r="3.2" fill="url(#h6)"/><circle cx="383.2" cy="259.5" r="4.2" fill="url(#h6)"/><circle cx="368.1" cy="372.0" r="3.4" fill="url(#h6)"/><circle cx="436.3" cy="219.1" r="3.5" fill="url(#h6)"/><circle cx="267.8" cy="349.5" r="3.2" fill="url(#h6)"/><circle cx="288.4" cy="284.6" r="3.7" fill="url(#h6)"/><circle cx="413.5" cy="272.4" r="3.9" fill="url(#h6)"/><circle cx="266.8" cy="374.9" r="4.1" fill="url(#h6)"/><circle cx="268.9" cy="344.8" r="3.3" fill="url(#h6)"/><circle cx="299.2" cy="286.0" r="3.9" fill="url(#h6)"/><circle cx="331.8" cy="212.1" r="3.9" fill="url(#h6)"/><circle cx="398.6" cy="315.2" r="3.3" fill="url(#h6)"/><circle cx="316.1" cy="290.4" r="3.3" fill="url(#h6)"/><circle cx="325.5" cy="237.4" r="3.5" fill="url(#h6)"/><circle cx="331.2" cy="208.3" r="4.0" fill="url(#h6)"/><circle cx="385.2" cy="361.2" r="4.0" fill="url(#h6)"/><circle cx="328.7" cy="288.2" r="3.4" fill="url(#h6)"/><circle cx="402.1" cy="341.5" r="4.1" fill="url(#h6)"/><circle cx="305.7" cy="302.7" r="3.6" fill="url(#h6)"/><circle cx="394.4" cy="215.0" r="3.4" fill="url(#h6)"/><circle cx="367.6" cy="252.4" r="3.6" fill="url(#h6)"/><circle cx="340.1" cy="368.2" r="4.2" fill="url(#h6)"/><circle cx="356.3" cy="315.5" r="3.9" fill="url(#h6)"/><circle cx="386.4" cy="376.5" r="4.1" fill="url(#h6)"/><circle cx="281.0" cy="334.5" r="3.9" fill="url(#h6)"/><circle cx="397.1" cy="273.3" r="3.6" fill="url(#h6)"/><circle cx="375.2" cy="342.5" r="4.0" fill="url(#h6)"/><circle cx="345.7" cy="211.8" r="3.9" fill="url(#h6)"/><circle cx="281.7" cy="306.8" r="3.9" fill="url(#h6)"/><circle cx="391.9" cy="368.4" r="3.1" fill="url(#h6)"/><circle cx="326.6" cy="300.9" r="3.4" fill="url(#h6)"/><circle cx="377.5" cy="249.8" r="3.2" fill="url(#h6)"/><circle cx="274.3" cy="247.2" r="3.7" fill="url(#h6)"/><circle cx="310.4" cy="290.0" r="3.9" fill="url(#h6)"/><circle cx="421.7" cy="362.2" r="3.4" fill="url(#h6)"/><circle cx="328.6" cy="259.7" r="4.1" fill="url(#h6)"/><circle cx="407.7" cy="225.8" r="3.9" fill="url(#h6)"/><circle cx="442.1" cy="319.9" r="3.8" fill="url(#h6)"/><circle cx="302.7" cy="374.0" r="3.7" fill="url(#h6)"/><circle cx="417.4" cy="375.6" r="3.4" fill="url(#h6)"/><circle cx="429.5" cy="219.4" r="3.3" fill="url(#h7)"/><circle cx="385.5" cy="279.6" r="3.2" fill="url(#h7)"/><circle cx="413.7" cy="358.1" r="3.7" fill="url(#h7)"/><circle cx="274.1" cy="321.1" r="3.7" fill="url(#h7)"/><circle cx="406.5" cy="381.4" r="3.6" fill="url(#h7)"/><circle cx="381.2" cy="262.8" r="3.7" fill="url(#h7)"/><circle cx="288.6" cy="274.1" r="3.7" fill="url(#h7)"/><circle cx="426.4" cy="267.0" r="4.0" fill="url(#h7)"/><circle cx="440.0" cy="274.4" r="3.6" fill="url(#h7)"/><circle cx="437.5" cy="289.1" r="4.2" fill="url(#h7)"/><circle cx="409.6" cy="233.3" r="3.5" fill="url(#h7)"/><circle cx="289.4" cy="364.1" r="3.2" fill="url(#h7)"/><circle cx="321.4" cy="359.5" r="3.1" fill="url(#h7)"/><circle cx="289.8" cy="358.9" r="3.6" fill="url(#h7)"/><circle cx="411.4" cy="288.4" r="3.1" fill="url(#h7)"/><circle cx="422.1" cy="297.1" r="3.2" fill="url(#h7)"/><circle cx="338.3" cy="291.1" r="3.9" fill="url(#h7)"/><circle cx="348.0" cy="348.3" r="4.1" fill="url(#h7)"/><circle cx="418.2" cy="227.0" r="3.1" fill="url(#h7)"/><circle cx="292.5" cy="306.2" r="3.5" fill="url(#h7)"/><circle cx="267.7" cy="300.7" r="3.6" fill="url(#h7)"/><circle cx="353.3" cy="301.2" r="3.2" fill="url(#h7)"/><circle cx="288.2" cy="263.5" r="3.4" fill="url(#h7)"/><circle cx="303.0" cy="277.9" r="4.0" fill="url(#h7)"/><circle cx="277.2" cy="211.4" r="3.5" fill="url(#h7)"/><circle cx="285.4" cy="218.0" r="4.1" fill="url(#h7)"/><circle cx="408.7" cy="283.2" r="3.4" fill="url(#h7)"/><circle cx="307.3" cy="248.4" r="3.5" fill="url(#h7)"/><circle cx="324.4" cy="361.9" r="4.0" fill="url(#h7)"/><circle cx="284.9" cy="320.3" r="3.2" fill="url(#h7)"/><circle cx="380.3" cy="229.0" r="4.0" fill="url(#h7)"/><circle cx="366.1" cy="244.7" r="4.1" fill="url(#h7)"/><circle cx="303.3" cy="331.7" r="3.5" fill="url(#h7)"/><circle cx="419.5" cy="248.8" r="3.7" fill="url(#h7)"/><circle cx="442.0" cy="209.3" r="3.4" fill="url(#h7)"/><circle cx="312.0" cy="336.2" r="3.2" fill="url(#h7)"/><circle cx="315.4" cy="351.1" r="3.7" fill="url(#h7)"/><circle cx="276.0" cy="268.4" r="3.5" fill="url(#h7)"/><circle cx="363.7" cy="379.7" r="3.3" fill="url(#h7)"/><circle cx="340.3" cy="381.5" r="3.5" fill="url(#h7)"/><circle cx="290.0" cy="226.0" r="3.5" fill="url(#h7)"/><circle cx="321.6" cy="329.9" r="4.0" fill="url(#h7)"/><circle cx="365.0" cy="302.6" r="4.0" fill="url(#h7)"/><circle cx="350.6" cy="249.7" r="3.5" fill="url(#h7)"/><circle cx="346.2" cy="382.2" r="3.6" fill="url(#h8)"/><circle cx="284.7" cy="340.3" r="3.5" fill="url(#h8)"/><circle cx="305.1" cy="207.9" r="3.9" fill="url(#h8)"/><circle cx="299.2" cy="237.3" r="3.9" fill="url(#h8)"/><circle cx="291.5" cy="249.5" r="4.1" fill="url(#h8)"/><circle cx="329.9" cy="229.9" r="4.1" fill="url(#h8)"/><circle cx="378.6" cy="295.2" r="3.2" fill="url(#h8)"/><circle cx="319.8" cy="305.9" r="3.2" fill="url(#h8)"/><circle cx="427.3" cy="380.5" r="3.2" fill="url(#h8)"/><circle cx="420.4" cy="352.5" r="4.1" fill="url(#h8)"/><circle cx="419.5" cy="249.3" r="3.4" fill="url(#h8)"/><circle cx="385.9" cy="263.4" r="3.6" fill="url(#h8)"/><circle cx="269.0" cy="333.0" r="3.2" fill="url(#h8)"/><circle cx="420.4" cy="245.0" r="3.6" fill="url(#h8)"/><circle cx="431.9" cy="240.6" r="4.0" fill="url(#h8)"/><circle cx="439.4" cy="265.7" r="3.7" fill="url(#h8)"/><circle cx="376.6" cy="273.8" r="3.2" fill="url(#h8)"/><circle cx="423.9" cy="265.3" r="3.2" fill="url(#h8)"/><circle cx="345.8" cy="238.8" r="3.6" fill="url(#h8)"/><circle cx="335.2" cy="372.0" r="3.9" fill="url(#h8)"/><circle cx="418.0" cy="301.2" r="3.3" fill="url(#h8)"/><circle cx="283.1" cy="254.3" r="3.7" fill="url(#h8)"/><circle cx="375.6" cy="321.8" r="3.9" fill="url(#h8)"/><circle cx="436.7" cy="344.3" r="4.2" fill="url(#h8)"/><circle cx="310.9" cy="368.2" r="3.2" fill="url(#h8)"/><circle cx="268.5" cy="296.4" r="3.9" fill="url(#h8)"/><circle cx="440.0" cy="376.0" r="3.3" fill="url(#h9)"/><circle cx="295.6" cy="316.9" r="4.0" fill="url(#h9)"/><circle cx="357.3" cy="227.6" r="4.2" fill="url(#hb)"/><circle cx="418.3" cy="264.2" r="4.2" fill="url(#hb)"/><circle cx="370.6" cy="282.0" r="4.2" fill="url(#hb)"/><circle cx="381.7" cy="284.2" r="4.2" fill="url(#hb)"/><circle cx="309.2" cy="280.4" r="4.2" fill="url(#hb)"/><circle cx="279.0" cy="262.4" r="4.2" fill="url(#hb)"/><circle cx="303.6" cy="299.4" r="4.2" fill="url(#hb)"/><circle cx="325.0" cy="249.0" r="4.2" fill="url(#hb)"/><circle cx="318.2" cy="288.2" r="4.2" fill="url(#hb)"/><circle cx="316.0" cy="332.1" r="4.2" fill="url(#hb)"/><circle cx="285.7" cy="334.4" r="4.2" fill="url(#hb)"/><circle cx="273.4" cy="365.7" r="4.2" fill="url(#hb)"/><circle cx="330.5" cy="365.7" r="4.2" fill="url(#hb)"/><circle cx="358.5" cy="305.2" r="4.2" fill="url(#hb)"/><circle cx="407.8" cy="329.9" r="4.2" fill="url(#hb)"/><circle cx="376.4" cy="341.1" r="4.2" fill="url(#hb)"/><circle cx="421.3" cy="361.3" r="4.2" fill="url(#hb)"/><circle cx="404.4" cy="371.4" r="4.2" fill="url(#hb)"/><circle cx="295.8" cy="280.4" r="4" fill="url(#hd)"/><circle cx="385.0" cy="263.0" r="4" fill="url(#hd)"/><circle cx="321.6" cy="316.4" r="4" fill="url(#hd)"/><circle cx="410.0" cy="347.8" r="4" fill="url(#hd)"/><circle cx="421.0" cy="314.0" r="4" fill="url(#hd)"/><circle cx="327.7" cy="261.1" r="6.2" fill="url(#pd)" opacity="0.46"/><circle cx="387.2" cy="299.3" r="7.2" fill="url(#pd)" opacity="0.27"/><circle cx="422.5" cy="301.3" r="9.7" fill="url(#pb)" opacity="0.45"/><circle cx="385.0" cy="321.6" r="12.5" fill="url(#pd)" opacity="0.34"/><circle cx="337.6" cy="262.3" r="12.7" fill="url(#pb)" opacity="0.40"/><circle cx="284.0" cy="374.0" r="7.1" fill="url(#pb)" opacity="0.39"/><circle cx="321.8" cy="277.5" r="10.3" fill="url(#pd)" opacity="0.36"/><circle cx="377.0" cy="236.1" r="11.5" fill="url(#pd)" opacity="0.28"/><circle cx="274.8" cy="288.8" r="8.6" fill="url(#pd)" opacity="0.51"/><circle cx="272.2" cy="337.4" r="7.6" fill="url(#pb)" opacity="0.27"/><circle cx="306.1" cy="340.8" r="9.1" fill="url(#pb)" opacity="0.42"/><circle cx="296.4" cy="354.3" r="9.4" fill="url(#pb)" opacity="0.37"/><circle cx="380.7" cy="362.6" r="12.3" fill="url(#pd)" opacity="0.51"/><circle cx="278.5" cy="278.9" r="8.8" fill="url(#pd)" opacity="0.34"/><circle cx="285.3" cy="333.5" r="12.4" fill="url(#pd)" opacity="0.34"/><circle cx="304.2" cy="322.1" r="12.5" fill="url(#pb)" opacity="0.48"/><circle cx="316.0" cy="333.8" r="8.0" fill="url(#pd)" opacity="0.49"/><circle cx="323.5" cy="314.1" r="12.7" fill="url(#pd)" opacity="0.46"/><circle cx="433.0" cy="357.1" r="11.3" fill="url(#pb)" opacity="0.27"/><circle cx="370.3" cy="336.6" r="7.2" fill="url(#pb)" opacity="0.53"/><circle cx="327.3" cy="320.5" r="11.4" fill="url(#pb)" opacity="0.42"/><circle cx="318.1" cy="312.4" r="11.9" fill="url(#pd)" opacity="0.25"/><circle cx="413.2" cy="255.8" r="8.6" fill="url(#pb)" opacity="0.37"/></g></g>
<path d="M264.4 211.2H437.3" stroke="#2a2a2a" stroke-width="1" fill="none"/><path d="M270.9 204.2V377.8" stroke="#666" stroke-width="0.8" fill="none"/>
<path d="M337.46 211.2v-6M270.9 277.84h-6.5M404.02 211.2v-6M270.9 344.48h-6.5" stroke="#333" stroke-width="0.9" fill="none"/>
<text transform="translate(270.39,201.4) scale(1.013,1.049)" font-size="10.5" fill="#111">0 μm</text><text x="338.46" y="202.3" font-size="10.5">2</text><text x="405.02" y="202.3" font-size="10.5">4</text><text x="263.1" y="221.5" font-size="10.5" text-anchor="end">0</text><text x="263.1" y="288.14" font-size="10.5" text-anchor="end">2</text><text x="263.1" y="354.78" font-size="10.5" text-anchor="end">4</text>
<rect x="445.2" y="211.2" width="12.6" height="166.6" fill="url(#cb)" stroke="#555" stroke-width="0.8"/>
<path d="M457.8 211.3h6M457.8 239.6h6M457.8 262.2h6M457.8 284.5h6M457.8 306.9h6M457.8 330.4h6M457.8 354.4h6M457.8 377.3h6" stroke="#333" stroke-width="0.9" fill="none"/>
<text x="482.6" y="249.3" font-size="10.5" text-anchor="end">20</text><text x="482.6" y="271.9" font-size="10.5" text-anchor="end">10</text><text x="482.6" y="294.2" font-size="10.5" text-anchor="end">0</text><text x="482.6" y="316.6" font-size="10.5" text-anchor="end">−10</text><text x="482.6" y="340.1" font-size="10.5" text-anchor="end">−20</text><text x="482.6" y="375" font-size="10.5" text-anchor="end">−41</text><text x="471.2" y="221" font-size="10.5">32 nm</text>
<text transform="translate(276.26,225.31) scale(1.075,1.029)" font-size="15" fill="#fff">FTO/HfO<tspan font-size="10.5" dy="3">2</tspan></text>
<text transform="translate(276.25,244.55) scale(1.079,0.986)" font-size="15" fill="#fff">RMS=9.14 nm</text>
</svg>
</body></html>
